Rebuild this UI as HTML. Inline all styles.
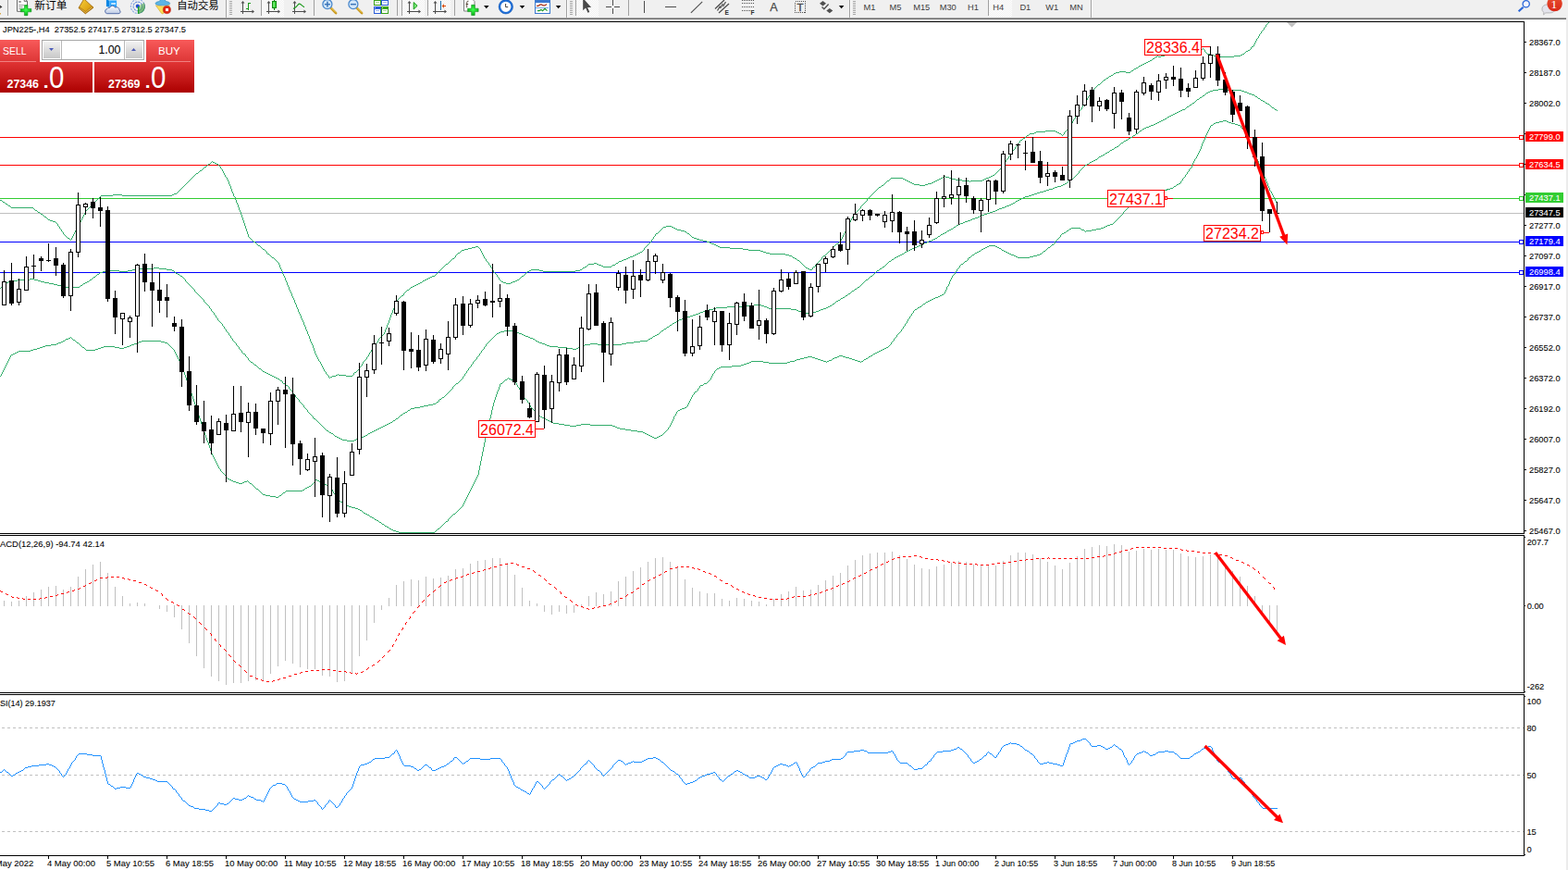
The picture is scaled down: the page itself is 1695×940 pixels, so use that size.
<!DOCTYPE html><html><head><meta charset="utf-8"><title>JPN225 H4</title>
<style>html,body{margin:0;padding:0;background:#fff;}body{width:1695px;height:940px;overflow:hidden;position:relative;font-family:"Liberation Sans",sans-serif;}svg{position:absolute;left:0;top:0;display:block}text{font-family:"Liberation Sans",sans-serif;}</style></head><body>
<svg width="1695" height="940" viewBox="0 0 1695 940">
<defs>
<linearGradient id="gTab" x1="0" y1="0" x2="0" y2="1"><stop offset="0" stop-color="#f85a5a"/><stop offset="1" stop-color="#dc3434"/></linearGradient>
<linearGradient id="gPan" x1="0" y1="0" x2="0" y2="1"><stop offset="0" stop-color="#e03434"/><stop offset="1" stop-color="#ac0000"/></linearGradient>
<linearGradient id="gBtn" x1="0" y1="0" x2="0" y2="1"><stop offset="0" stop-color="#f2f2f2"/><stop offset="0.5" stop-color="#dcdcdc"/><stop offset="1" stop-color="#c8c8c8"/></linearGradient>
<pattern id="hatch" width="2" height="2" patternUnits="userSpaceOnUse"><rect width="2" height="2" fill="#ffffff"/><rect width="1" height="1" fill="#f0f0f0"/><rect x="1" y="1" width="1" height="1" fill="#f0f0f0"/></pattern>
</defs>
<rect width="1695" height="940" fill="#fff"/>
<g shape-rendering="crispEdges">
<rect x="0" y="230" width="1647" height="1" fill="#c0c0c0"/>
<rect x="0" y="148" width="1642" height="1" fill="#ff0000"/>
<rect x="0" y="178" width="1642" height="1" fill="#ff0000"/>
<rect x="0" y="214" width="1642" height="1" fill="#32cd32"/>
<rect x="0" y="261" width="1642" height="1" fill="#0000ff"/>
<rect x="0" y="294" width="1642" height="1" fill="#0000ff"/>
</g>
<g clip-path="inset(0)">
<clipPath id="cm"><rect x="0" y="24" width="1647" height="552"/></clipPath>
<g clip-path="url(#cm)">
<path d="M1371 24h1v1h-1zM1370 25h1v1h-1zM1369 26h1v1h-1zM1368 27h1v1h-1zM1368 28h1v1h-1zM1367 29h1v1h-1zM1366 30h1v1h-1zM1366 31h1v1h-1zM1365 32h1v1h-1zM1364 33h1v1h-1zM1363 34h1v1h-1zM1363 35h1v1h-1zM1362 36h1v1h-1zM1361 37h1v1h-1zM1361 38h1v1h-1zM1360 39h1v1h-1zM1360 40h1v1h-1zM1359 41h1v1h-1zM1358 42h1v1h-1zM1358 43h1v1h-1zM1357 44h1v1h-1zM1357 45h1v1h-1zM1356 46h1v1h-1zM1356 47h1v1h-1zM1355 48h1v1h-1zM1355 49h1v1h-1zM1353 50h2v1h-2zM1352 51h1v1h-1zM1300 52h1v1h-1zM1352 52h1v1h-1zM1292 53h8v1h-8zM1301 53h1v1h-1zM1351 53h1v1h-1zM1284 54h8v1h-8zM1302 54h1v1h-1zM1349 54h2v1h-2zM1276 55h8v1h-8zM1302 55h1v1h-1zM1347 55h2v1h-2zM1271 56h5v1h-5zM1303 56h1v1h-1zM1346 56h1v1h-1zM1267 57h4v1h-4zM1304 57h1v1h-1zM1345 57h1v1h-1zM1263 58h4v1h-4zM1305 58h4v1h-4zM1343 58h2v1h-2zM1259 59h4v1h-4zM1309 59h3v1h-3zM1341 59h2v1h-2zM1251 60h1v1h-1zM1255 60h4v1h-4zM1312 60h2v1h-2zM1334 60h7v1h-7zM1249 61h2v1h-2zM1252 61h3v1h-3zM1314 61h20v1h-20zM1248 62h1v1h-1zM1246 63h2v1h-2zM1245 64h1v1h-1zM1243 65h2v1h-2zM1241 66h2v1h-2zM1239 67h2v1h-2zM1237 68h2v1h-2zM1235 69h2v1h-2zM1233 70h2v1h-2zM1231 71h2v1h-2zM1230 72h1v1h-1zM1228 73h2v1h-2zM1226 74h2v1h-2zM1225 75h1v1h-1zM1223 76h2v1h-2zM1210 77h7v1h-7zM1222 77h1v1h-1zM1206 78h4v1h-4zM1217 78h5v1h-5zM1204 79h2v1h-2zM1203 80h1v1h-1zM1201 81h2v1h-2zM1199 82h2v1h-2zM1198 83h1v1h-1zM1196 84h2v1h-2zM1195 85h1v1h-1zM1193 86h2v1h-2zM1192 87h1v1h-1zM1191 88h1v1h-1zM1190 89h1v1h-1zM1189 90h1v1h-1zM1187 91h2v1h-2zM1186 92h1v1h-1zM1185 93h1v1h-1zM1184 94h1v1h-1zM1183 95h1v1h-1zM1182 96h1v1h-1zM1181 97h1v1h-1zM1180 98h1v1h-1zM1179 99h1v1h-1zM1179 100h1v1h-1zM1178 101h1v1h-1zM1178 102h1v1h-1zM1177 103h1v1h-1zM1176 104h1v1h-1zM1176 105h1v1h-1zM1175 106h1v1h-1zM1175 107h1v1h-1zM1174 108h1v1h-1zM1173 109h1v1h-1zM1173 110h1v1h-1zM1172 111h1v1h-1zM1172 112h1v1h-1zM1171 113h1v1h-1zM1170 114h1v1h-1zM1170 115h1v1h-1zM1169 116h1v1h-1zM1169 117h1v1h-1zM1168 118h1v1h-1zM1167 119h1v1h-1zM1166 120h1v1h-1zM1166 121h1v1h-1zM1165 122h1v1h-1zM1164 123h1v1h-1zM1164 124h1v1h-1zM1163 125h1v1h-1zM1162 126h1v1h-1zM1162 127h1v1h-1zM1161 128h1v1h-1zM1160 129h1v1h-1zM1160 130h1v1h-1zM1159 131h1v1h-1zM1159 132h1v1h-1zM1158 133h1v1h-1zM1157 134h1v1h-1zM1157 135h1v1h-1zM1156 136h1v1h-1zM1155 137h1v1h-1zM1154 138h1v1h-1zM1154 139h1v1h-1zM1153 140h1v1h-1zM1130 141h11v1h-11zM1152 141h1v1h-1zM1120 142h10v1h-10zM1141 142h2v1h-2zM1151 142h1v1h-1zM1118 143h2v1h-2zM1143 143h2v1h-2zM1150 143h1v1h-1zM1113 144h5v1h-5zM1145 144h2v1h-2zM1150 144h1v1h-1zM1112 145h1v1h-1zM1147 145h1v1h-1zM1149 145h1v1h-1zM1110 146h2v1h-2zM1148 146h1v1h-1zM1109 147h1v1h-1zM1108 148h1v1h-1zM1106 149h2v1h-2zM1105 150h1v1h-1zM1103 151h2v1h-2zM1102 152h1v1h-1zM1102 153h1v1h-1zM1101 154h1v1h-1zM1100 155h1v1h-1zM1099 156h1v1h-1zM1099 157h1v1h-1zM1098 158h1v1h-1zM1097 159h1v1h-1zM1097 160h1v1h-1zM1096 161h1v1h-1zM1095 162h1v1h-1zM1094 163h1v1h-1zM1094 164h1v1h-1zM1093 165h1v1h-1zM1092 166h1v1h-1zM1092 167h1v1h-1zM1091 168h1v1h-1zM1090 169h1v1h-1zM1090 170h1v1h-1zM1089 171h1v1h-1zM1088 172h1v1h-1zM1087 173h1v1h-1zM229 174h1v1h-1zM1087 174h1v1h-1zM228 175h1v1h-1zM230 175h2v1h-2zM1086 175h1v1h-1zM227 176h1v1h-1zM232 176h2v1h-2zM1086 176h1v1h-1zM225 177h2v1h-2zM234 177h2v1h-2zM1085 177h1v1h-1zM224 178h1v1h-1zM236 178h1v1h-1zM1084 178h1v1h-1zM223 179h1v1h-1zM237 179h1v1h-1zM1084 179h1v1h-1zM221 180h2v1h-2zM238 180h1v1h-1zM1083 180h1v1h-1zM220 181h1v1h-1zM238 181h1v1h-1zM1082 181h1v1h-1zM219 182h1v1h-1zM239 182h1v1h-1zM1081 182h1v1h-1zM218 183h1v1h-1zM240 183h1v1h-1zM1080 183h1v1h-1zM216 184h2v1h-2zM240 184h1v1h-1zM1079 184h1v1h-1zM215 185h1v1h-1zM241 185h1v1h-1zM1078 185h1v1h-1zM214 186h1v1h-1zM241 186h1v1h-1zM1077 186h1v1h-1zM212 187h2v1h-2zM242 187h1v1h-1zM1076 187h1v1h-1zM211 188h1v1h-1zM242 188h1v1h-1zM1075 188h1v1h-1zM210 189h1v1h-1zM243 189h1v1h-1zM1073 189h2v1h-2zM209 190h1v1h-1zM243 190h1v1h-1zM1020 190h2v1h-2zM1071 190h2v1h-2zM208 191h1v1h-1zM244 191h1v1h-1zM1019 191h1v1h-1zM1022 191h4v1h-4zM1069 191h2v1h-2zM207 192h1v1h-1zM245 192h1v1h-1zM963 192h13v1h-13zM1017 192h2v1h-2zM1026 192h3v1h-3zM1066 192h3v1h-3zM206 193h1v1h-1zM245 193h1v1h-1zM962 193h1v1h-1zM976 193h2v1h-2zM1015 193h2v1h-2zM1029 193h4v1h-4zM1064 193h2v1h-2zM205 194h1v1h-1zM246 194h1v1h-1zM961 194h1v1h-1zM978 194h2v1h-2zM1013 194h2v1h-2zM1033 194h7v1h-7zM1062 194h2v1h-2zM204 195h1v1h-1zM246 195h1v1h-1zM959 195h2v1h-2zM980 195h2v1h-2zM1011 195h2v1h-2zM1040 195h8v1h-8zM1049 195h13v1h-13zM203 196h1v1h-1zM247 196h1v1h-1zM958 196h1v1h-1zM982 196h2v1h-2zM1009 196h2v1h-2zM1048 196h1v1h-1zM202 197h1v1h-1zM247 197h1v1h-1zM957 197h1v1h-1zM984 197h2v1h-2zM1007 197h2v1h-2zM201 198h1v1h-1zM247 198h1v1h-1zM956 198h1v1h-1zM986 198h2v1h-2zM1003 198h4v1h-4zM200 199h1v1h-1zM248 199h1v1h-1zM955 199h1v1h-1zM988 199h6v1h-6zM1000 199h3v1h-3zM199 200h1v1h-1zM248 200h1v1h-1zM953 200h2v1h-2zM994 200h6v1h-6zM198 201h1v1h-1zM249 201h1v1h-1zM952 201h1v1h-1zM197 202h1v1h-1zM249 202h1v1h-1zM950 202h2v1h-2zM196 203h1v1h-1zM249 203h1v1h-1zM949 203h1v1h-1zM195 204h1v1h-1zM250 204h1v1h-1zM948 204h1v1h-1zM194 205h1v1h-1zM250 205h1v1h-1zM947 205h1v1h-1zM193 206h1v1h-1zM250 206h1v1h-1zM946 206h1v1h-1zM192 207h1v1h-1zM251 207h1v1h-1zM945 207h1v1h-1zM191 208h1v1h-1zM251 208h1v1h-1zM944 208h1v1h-1zM188 209h3v1h-3zM252 209h1v1h-1zM943 209h1v1h-1zM122 210h10v1h-10zM186 210h2v1h-2zM252 210h1v1h-1zM942 210h1v1h-1zM109 211h13v1h-13zM132 211h54v1h-54zM252 211h1v1h-1zM941 211h1v1h-1zM108 212h1v1h-1zM253 212h1v1h-1zM940 212h1v1h-1zM107 213h1v1h-1zM254 213h1v1h-1zM939 213h1v1h-1zM106 214h1v1h-1zM254 214h1v1h-1zM938 214h1v1h-1zM105 215h1v1h-1zM254 215h1v1h-1zM937 215h1v1h-1zM0 216h2v1h-2zM104 216h1v1h-1zM255 216h1v1h-1zM937 216h1v1h-1zM2 217h1v1h-1zM103 217h1v1h-1zM255 217h1v1h-1zM936 217h1v1h-1zM3 218h2v1h-2zM102 218h1v1h-1zM255 218h1v1h-1zM935 218h1v1h-1zM5 219h1v1h-1zM101 219h1v1h-1zM256 219h1v1h-1zM934 219h1v1h-1zM6 220h2v1h-2zM100 220h1v1h-1zM256 220h1v1h-1zM933 220h1v1h-1zM8 221h1v1h-1zM99 221h1v1h-1zM257 221h1v1h-1zM932 221h1v1h-1zM9 222h2v1h-2zM98 222h1v1h-1zM257 222h1v1h-1zM931 222h1v1h-1zM11 223h1v1h-1zM97 223h1v1h-1zM257 223h1v1h-1zM930 223h1v1h-1zM12 224h24v1h-24zM96 224h1v1h-1zM258 224h1v1h-1zM930 224h1v1h-1zM36 225h1v1h-1zM95 225h1v1h-1zM258 225h1v1h-1zM929 225h1v1h-1zM37 226h1v1h-1zM94 226h1v1h-1zM258 226h1v1h-1zM928 226h1v1h-1zM38 227h2v1h-2zM93 227h1v1h-1zM259 227h1v1h-1zM927 227h1v1h-1zM40 228h1v1h-1zM92 228h1v1h-1zM259 228h1v1h-1zM926 228h1v1h-1zM41 229h2v1h-2zM92 229h1v1h-1zM260 229h1v1h-1zM925 229h1v1h-1zM43 230h1v1h-1zM91 230h1v1h-1zM260 230h1v1h-1zM924 230h1v1h-1zM44 231h2v1h-2zM91 231h1v1h-1zM260 231h1v1h-1zM923 231h1v1h-1zM46 232h1v1h-1zM90 232h1v1h-1zM261 232h1v1h-1zM922 232h1v1h-1zM47 233h1v1h-1zM90 233h1v1h-1zM261 233h1v1h-1zM922 233h1v1h-1zM48 234h2v1h-2zM89 234h1v1h-1zM261 234h1v1h-1zM921 234h1v1h-1zM50 235h1v1h-1zM89 235h1v1h-1zM262 235h1v1h-1zM921 235h1v1h-1zM51 236h1v1h-1zM88 236h1v1h-1zM262 236h1v1h-1zM920 236h1v1h-1zM52 237h2v1h-2zM88 237h1v1h-1zM262 237h1v1h-1zM920 237h1v1h-1zM54 238h3v1h-3zM87 238h1v1h-1zM263 238h1v1h-1zM919 238h1v1h-1zM57 239h3v1h-3zM87 239h1v1h-1zM263 239h1v1h-1zM919 239h1v1h-1zM60 240h1v1h-1zM86 240h1v1h-1zM263 240h1v1h-1zM918 240h1v1h-1zM61 241h1v1h-1zM86 241h1v1h-1zM264 241h1v1h-1zM918 241h1v1h-1zM62 242h1v1h-1zM85 242h1v1h-1zM264 242h1v1h-1zM917 242h1v1h-1zM62 243h1v1h-1zM84 243h1v1h-1zM264 243h1v1h-1zM917 243h1v1h-1zM63 244h1v1h-1zM84 244h1v1h-1zM265 244h1v1h-1zM720 244h6v1h-6zM916 244h1v1h-1zM64 245h1v1h-1zM83 245h1v1h-1zM265 245h1v1h-1zM717 245h3v1h-3zM726 245h2v1h-2zM916 245h1v1h-1zM64 246h1v1h-1zM83 246h1v1h-1zM265 246h1v1h-1zM716 246h1v1h-1zM728 246h2v1h-2zM915 246h1v1h-1zM65 247h1v1h-1zM82 247h1v1h-1zM266 247h1v1h-1zM715 247h1v1h-1zM730 247h2v1h-2zM915 247h1v1h-1zM66 248h1v1h-1zM82 248h1v1h-1zM266 248h1v1h-1zM714 248h1v1h-1zM732 248h4v1h-4zM914 248h1v1h-1zM66 249h1v1h-1zM81 249h1v1h-1zM266 249h1v1h-1zM713 249h1v1h-1zM736 249h4v1h-4zM914 249h1v1h-1zM67 250h1v1h-1zM81 250h1v1h-1zM267 250h1v1h-1zM712 250h1v1h-1zM740 250h2v1h-2zM913 250h1v1h-1zM68 251h1v1h-1zM80 251h1v1h-1zM267 251h1v1h-1zM711 251h1v1h-1zM742 251h1v1h-1zM913 251h1v1h-1zM68 252h1v1h-1zM80 252h1v1h-1zM267 252h1v1h-1zM709 252h2v1h-2zM743 252h2v1h-2zM912 252h1v1h-1zM69 253h1v1h-1zM79 253h1v1h-1zM268 253h1v1h-1zM708 253h1v1h-1zM745 253h1v1h-1zM912 253h1v1h-1zM70 254h1v1h-1zM79 254h1v1h-1zM268 254h1v1h-1zM708 254h1v1h-1zM746 254h1v1h-1zM911 254h1v1h-1zM71 255h1v1h-1zM78 255h1v1h-1zM268 255h1v1h-1zM707 255h1v1h-1zM747 255h1v1h-1zM911 255h1v1h-1zM72 256h1v1h-1zM78 256h1v1h-1zM269 256h1v1h-1zM706 256h1v1h-1zM748 256h2v1h-2zM910 256h1v1h-1zM73 257h2v1h-2zM77 257h1v1h-1zM270 257h1v1h-1zM706 257h1v1h-1zM750 257h3v1h-3zM910 257h1v1h-1zM75 258h1v1h-1zM77 258h1v1h-1zM271 258h1v1h-1zM705 258h1v1h-1zM753 258h3v1h-3zM909 258h1v1h-1zM76 259h1v1h-1zM272 259h1v1h-1zM704 259h1v1h-1zM756 259h4v1h-4zM909 259h1v1h-1zM273 260h1v1h-1zM704 260h1v1h-1zM760 260h4v1h-4zM908 260h1v1h-1zM274 261h2v1h-2zM703 261h1v1h-1zM764 261h3v1h-3zM907 261h1v1h-1zM276 262h1v1h-1zM702 262h1v1h-1zM767 262h2v1h-2zM906 262h1v1h-1zM277 263h1v1h-1zM701 263h1v1h-1zM769 263h3v1h-3zM904 263h2v1h-2zM278 264h1v1h-1zM700 264h1v1h-1zM772 264h2v1h-2zM903 264h1v1h-1zM279 265h2v1h-2zM699 265h1v1h-1zM774 265h2v1h-2zM902 265h1v1h-1zM281 266h1v1h-1zM514 266h3v1h-3zM698 266h1v1h-1zM776 266h2v1h-2zM901 266h1v1h-1zM282 267h1v1h-1zM510 267h4v1h-4zM517 267h1v1h-1zM697 267h1v1h-1zM778 267h11v1h-11zM900 267h1v1h-1zM283 268h1v1h-1zM506 268h4v1h-4zM518 268h1v1h-1zM696 268h1v1h-1zM789 268h14v1h-14zM900 268h1v1h-1zM284 269h2v1h-2zM502 269h4v1h-4zM519 269h1v1h-1zM696 269h1v1h-1zM803 269h6v1h-6zM898 269h2v1h-2zM286 270h1v1h-1zM499 270h3v1h-3zM519 270h1v1h-1zM695 270h1v1h-1zM809 270h13v1h-13zM897 270h1v1h-1zM287 271h1v1h-1zM498 271h1v1h-1zM520 271h1v1h-1zM694 271h1v1h-1zM822 271h3v1h-3zM896 271h1v1h-1zM288 272h1v1h-1zM497 272h1v1h-1zM520 272h1v1h-1zM692 272h2v1h-2zM825 272h3v1h-3zM895 272h1v1h-1zM288 273h1v1h-1zM495 273h2v1h-2zM521 273h1v1h-1zM690 273h2v1h-2zM828 273h4v1h-4zM894 273h1v1h-1zM289 274h2v1h-2zM494 274h1v1h-1zM521 274h1v1h-1zM688 274h2v1h-2zM832 274h17v1h-17zM893 274h1v1h-1zM291 275h1v1h-1zM493 275h1v1h-1zM522 275h1v1h-1zM686 275h2v1h-2zM849 275h4v1h-4zM892 275h1v1h-1zM292 276h1v1h-1zM492 276h1v1h-1zM522 276h1v1h-1zM684 276h2v1h-2zM853 276h3v1h-3zM890 276h2v1h-2zM293 277h1v1h-1zM492 277h1v1h-1zM523 277h1v1h-1zM681 277h3v1h-3zM856 277h1v1h-1zM889 277h1v1h-1zM294 278h2v1h-2zM491 278h1v1h-1zM523 278h1v1h-1zM679 278h2v1h-2zM857 278h2v1h-2zM888 278h1v1h-1zM296 279h1v1h-1zM489 279h2v1h-2zM524 279h1v1h-1zM677 279h2v1h-2zM859 279h2v1h-2zM888 279h1v1h-1zM297 280h1v1h-1zM488 280h1v1h-1zM525 280h1v1h-1zM674 280h3v1h-3zM861 280h1v1h-1zM887 280h1v1h-1zM298 281h1v1h-1zM487 281h1v1h-1zM525 281h1v1h-1zM672 281h2v1h-2zM862 281h2v1h-2zM886 281h1v1h-1zM299 282h1v1h-1zM486 282h1v1h-1zM526 282h1v1h-1zM669 282h3v1h-3zM864 282h1v1h-1zM885 282h1v1h-1zM300 283h1v1h-1zM485 283h1v1h-1zM527 283h1v1h-1zM668 283h1v1h-1zM865 283h1v1h-1zM884 283h1v1h-1zM301 284h1v1h-1zM484 284h1v1h-1zM528 284h1v1h-1zM642 284h3v1h-3zM666 284h2v1h-2zM866 284h1v1h-1zM883 284h1v1h-1zM301 285h1v1h-1zM482 285h2v1h-2zM528 285h1v1h-1zM636 285h6v1h-6zM645 285h2v1h-2zM665 285h1v1h-1zM867 285h1v1h-1zM882 285h1v1h-1zM302 286h1v1h-1zM481 286h1v1h-1zM529 286h1v1h-1zM635 286h1v1h-1zM647 286h3v1h-3zM662 286h3v1h-3zM868 286h1v1h-1zM881 286h1v1h-1zM302 287h1v1h-1zM480 287h1v1h-1zM530 287h1v1h-1zM634 287h1v1h-1zM650 287h2v1h-2zM661 287h1v1h-1zM869 287h1v1h-1zM881 287h1v1h-1zM302 288h1v1h-1zM479 288h1v1h-1zM530 288h1v1h-1zM632 288h2v1h-2zM652 288h9v1h-9zM870 288h1v1h-1zM879 288h2v1h-2zM303 289h1v1h-1zM478 289h1v1h-1zM531 289h1v1h-1zM630 289h2v1h-2zM871 289h2v1h-2zM878 289h1v1h-1zM303 290h1v1h-1zM477 290h1v1h-1zM532 290h1v1h-1zM629 290h1v1h-1zM873 290h2v1h-2zM878 290h1v1h-1zM304 291h1v1h-1zM476 291h1v1h-1zM532 291h1v1h-1zM574 291h9v1h-9zM627 291h2v1h-2zM875 291h3v1h-3zM304 292h1v1h-1zM475 292h1v1h-1zM533 292h1v1h-1zM572 292h2v1h-2zM583 292h4v1h-4zM622 292h5v1h-5zM305 293h1v1h-1zM474 293h1v1h-1zM533 293h1v1h-1zM570 293h2v1h-2zM587 293h35v1h-35zM305 294h1v1h-1zM473 294h1v1h-1zM534 294h1v1h-1zM569 294h1v1h-1zM305 295h1v1h-1zM472 295h1v1h-1zM535 295h1v1h-1zM568 295h1v1h-1zM306 296h1v1h-1zM471 296h1v1h-1zM536 296h1v1h-1zM567 296h1v1h-1zM306 297h1v1h-1zM470 297h1v1h-1zM537 297h1v1h-1zM566 297h1v1h-1zM307 298h1v1h-1zM467 298h3v1h-3zM537 298h1v1h-1zM564 298h2v1h-2zM307 299h1v1h-1zM465 299h2v1h-2zM538 299h1v1h-1zM563 299h1v1h-1zM308 300h1v1h-1zM463 300h2v1h-2zM539 300h1v1h-1zM562 300h1v1h-1zM308 301h1v1h-1zM461 301h2v1h-2zM539 301h1v1h-1zM561 301h1v1h-1zM308 302h1v1h-1zM459 302h2v1h-2zM540 302h1v1h-1zM559 302h2v1h-2zM309 303h1v1h-1zM457 303h2v1h-2zM541 303h1v1h-1zM557 303h2v1h-2zM309 304h1v1h-1zM456 304h1v1h-1zM542 304h2v1h-2zM554 304h3v1h-3zM310 305h1v1h-1zM454 305h2v1h-2zM544 305h3v1h-3zM552 305h2v1h-2zM310 306h1v1h-1zM452 306h2v1h-2zM547 306h5v1h-5zM310 307h1v1h-1zM450 307h2v1h-2zM311 308h1v1h-1zM448 308h2v1h-2zM311 309h1v1h-1zM446 309h2v1h-2zM312 310h1v1h-1zM444 310h2v1h-2zM312 311h1v1h-1zM443 311h1v1h-1zM312 312h1v1h-1zM442 312h1v1h-1zM313 313h1v1h-1zM440 313h2v1h-2zM313 314h1v1h-1zM439 314h1v1h-1zM314 315h1v1h-1zM438 315h1v1h-1zM314 316h1v1h-1zM437 316h1v1h-1zM315 317h1v1h-1zM436 317h1v1h-1zM315 318h1v1h-1zM436 318h1v1h-1zM315 319h1v1h-1zM434 319h2v1h-2zM316 320h1v1h-1zM433 320h1v1h-1zM316 321h1v1h-1zM432 321h1v1h-1zM317 322h1v1h-1zM431 322h1v1h-1zM317 323h1v1h-1zM430 323h1v1h-1zM318 324h1v1h-1zM429 324h1v1h-1zM318 325h1v1h-1zM429 325h1v1h-1zM318 326h1v1h-1zM428 326h1v1h-1zM319 327h1v1h-1zM428 327h1v1h-1zM319 328h1v1h-1zM427 328h1v1h-1zM320 329h1v1h-1zM427 329h1v1h-1zM320 330h1v1h-1zM427 330h1v1h-1zM320 331h1v1h-1zM426 331h1v1h-1zM321 332h1v1h-1zM426 332h1v1h-1zM321 333h1v1h-1zM425 333h1v1h-1zM322 334h1v1h-1zM425 334h1v1h-1zM322 335h1v1h-1zM424 335h1v1h-1zM322 336h1v1h-1zM424 336h1v1h-1zM323 337h1v1h-1zM424 337h1v1h-1zM323 338h1v1h-1zM423 338h1v1h-1zM324 339h1v1h-1zM423 339h1v1h-1zM324 340h1v1h-1zM422 340h1v1h-1zM325 341h1v1h-1zM422 341h1v1h-1zM325 342h1v1h-1zM422 342h1v1h-1zM325 343h1v1h-1zM421 343h1v1h-1zM326 344h1v1h-1zM421 344h1v1h-1zM326 345h1v1h-1zM421 345h1v1h-1zM327 346h1v1h-1zM420 346h1v1h-1zM327 347h1v1h-1zM420 347h1v1h-1zM328 348h1v1h-1zM420 348h1v1h-1zM328 349h1v1h-1zM419 349h1v1h-1zM328 350h1v1h-1zM419 350h1v1h-1zM329 351h1v1h-1zM418 351h1v1h-1zM329 352h1v1h-1zM418 352h1v1h-1zM330 353h1v1h-1zM418 353h1v1h-1zM330 354h1v1h-1zM417 354h1v1h-1zM330 355h1v1h-1zM417 355h1v1h-1zM331 356h1v1h-1zM416 356h1v1h-1zM331 357h1v1h-1zM416 357h1v1h-1zM332 358h1v1h-1zM416 358h1v1h-1zM332 359h1v1h-1zM415 359h1v1h-1zM332 360h1v1h-1zM415 360h1v1h-1zM333 361h1v1h-1zM414 361h1v1h-1zM333 362h1v1h-1zM413 362h1v1h-1zM334 363h1v1h-1zM412 363h1v1h-1zM334 364h1v1h-1zM411 364h1v1h-1zM334 365h1v1h-1zM410 365h1v1h-1zM335 366h1v1h-1zM409 366h1v1h-1zM335 367h1v1h-1zM409 367h1v1h-1zM335 368h1v1h-1zM408 368h1v1h-1zM336 369h1v1h-1zM408 369h1v1h-1zM336 370h1v1h-1zM407 370h1v1h-1zM337 371h1v1h-1zM406 371h1v1h-1zM337 372h1v1h-1zM405 372h1v1h-1zM338 373h1v1h-1zM404 373h1v1h-1zM338 374h1v1h-1zM404 374h1v1h-1zM338 375h1v1h-1zM403 375h1v1h-1zM339 376h1v1h-1zM402 376h1v1h-1zM339 377h1v1h-1zM402 377h1v1h-1zM339 378h1v1h-1zM401 378h1v1h-1zM340 379h1v1h-1zM401 379h1v1h-1zM340 380h1v1h-1zM400 380h1v1h-1zM340 381h1v1h-1zM399 381h1v1h-1zM341 382h1v1h-1zM399 382h1v1h-1zM341 383h1v1h-1zM398 383h1v1h-1zM342 384h1v1h-1zM398 384h1v1h-1zM342 385h1v1h-1zM397 385h1v1h-1zM343 386h1v1h-1zM396 386h1v1h-1zM343 387h1v1h-1zM396 387h1v1h-1zM344 388h1v1h-1zM395 388h1v1h-1zM344 389h1v1h-1zM394 389h1v1h-1zM345 390h1v1h-1zM393 390h1v1h-1zM346 391h1v1h-1zM392 391h1v1h-1zM346 392h1v1h-1zM392 392h1v1h-1zM347 393h1v1h-1zM391 393h1v1h-1zM347 394h1v1h-1zM391 394h1v1h-1zM348 395h1v1h-1zM390 395h1v1h-1zM348 396h1v1h-1zM389 396h1v1h-1zM349 397h1v1h-1zM388 397h1v1h-1zM349 398h1v1h-1zM388 398h1v1h-1zM350 399h1v1h-1zM387 399h1v1h-1zM350 400h1v1h-1zM386 400h1v1h-1zM351 401h1v1h-1zM385 401h1v1h-1zM352 402h1v1h-1zM383 402h2v1h-2zM352 403h1v1h-1zM382 403h1v1h-1zM353 404h1v1h-1zM365 404h1v1h-1zM382 404h1v1h-1zM354 405h1v1h-1zM363 405h2v1h-2zM366 405h8v1h-8zM381 405h1v1h-1zM355 406h1v1h-1zM359 406h4v1h-4zM374 406h7v1h-7zM355 407h1v1h-1zM357 407h2v1h-2zM356 408h1v1h-1z" fill="#32ad6b" shape-rendering="crispEdges"/>
<path d="M1317 96h5v1h-5zM1311 97h6v1h-6zM1322 97h20v1h-20zM1308 98h3v1h-3zM1342 98h3v1h-3zM1306 99h2v1h-2zM1345 99h3v1h-3zM1304 100h2v1h-2zM1348 100h2v1h-2zM1303 101h1v1h-1zM1350 101h3v1h-3zM1302 102h1v1h-1zM1353 102h3v1h-3zM1300 103h2v1h-2zM1356 103h1v1h-1zM1299 104h1v1h-1zM1357 104h2v1h-2zM1297 105h2v1h-2zM1359 105h1v1h-1zM1296 106h1v1h-1zM1360 106h2v1h-2zM1294 107h2v1h-2zM1362 107h1v1h-1zM1293 108h1v1h-1zM1363 108h2v1h-2zM1292 109h1v1h-1zM1365 109h2v1h-2zM1291 110h1v1h-1zM1367 110h1v1h-1zM1289 111h2v1h-2zM1368 111h2v1h-2zM1288 112h1v1h-1zM1370 112h2v1h-2zM1286 113h2v1h-2zM1372 113h1v1h-1zM1285 114h1v1h-1zM1373 114h1v1h-1zM1283 115h2v1h-2zM1374 115h1v1h-1zM1282 116h1v1h-1zM1375 116h2v1h-2zM1281 117h1v1h-1zM1377 117h1v1h-1zM1278 118h3v1h-3zM1378 118h2v1h-2zM1276 119h2v1h-2zM1380 119h1v1h-1zM1274 120h2v1h-2zM1272 121h2v1h-2zM1270 122h2v1h-2zM1268 123h2v1h-2zM1266 124h2v1h-2zM1264 125h2v1h-2zM1262 126h2v1h-2zM1261 127h1v1h-1zM1259 128h2v1h-2zM1257 129h2v1h-2zM1255 130h2v1h-2zM1253 131h2v1h-2zM1251 132h2v1h-2zM1249 133h2v1h-2zM1247 134h2v1h-2zM1244 135h3v1h-3zM1242 136h2v1h-2zM1239 137h3v1h-3zM1237 138h2v1h-2zM1235 139h2v1h-2zM1234 140h1v1h-1zM1232 141h2v1h-2zM1231 142h1v1h-1zM1230 143h1v1h-1zM1228 144h2v1h-2zM1227 145h1v1h-1zM1225 146h2v1h-2zM1224 147h1v1h-1zM1222 148h2v1h-2zM1220 149h2v1h-2zM1219 150h1v1h-1zM1217 151h2v1h-2zM1215 152h2v1h-2zM1214 153h1v1h-1zM1212 154h2v1h-2zM1211 155h1v1h-1zM1210 156h1v1h-1zM1209 157h1v1h-1zM1207 158h2v1h-2zM1205 159h2v1h-2zM1204 160h1v1h-1zM1202 161h2v1h-2zM1200 162h2v1h-2zM1199 163h1v1h-1zM1197 164h2v1h-2zM1195 165h2v1h-2zM1194 166h1v1h-1zM1192 167h2v1h-2zM1190 168h2v1h-2zM1188 169h2v1h-2zM1187 170h1v1h-1zM1186 171h1v1h-1zM1184 172h2v1h-2zM1182 173h2v1h-2zM1180 174h2v1h-2zM1178 175h2v1h-2zM1177 176h1v1h-1zM1175 177h2v1h-2zM1173 178h2v1h-2zM1172 179h1v1h-1zM1171 180h1v1h-1zM1170 181h1v1h-1zM1169 182h1v1h-1zM1168 183h1v1h-1zM1167 184h1v1h-1zM1166 185h1v1h-1zM1166 186h1v1h-1zM1165 187h1v1h-1zM1164 188h1v1h-1zM1163 189h1v1h-1zM1162 190h1v1h-1zM1161 191h1v1h-1zM1160 192h1v1h-1zM1159 193h1v1h-1zM1157 194h2v1h-2zM1155 195h2v1h-2zM1154 196h1v1h-1zM1153 197h1v1h-1zM1151 198h2v1h-2zM1149 199h2v1h-2zM1147 200h2v1h-2zM1143 201h4v1h-4zM1140 202h3v1h-3zM1138 203h2v1h-2zM1134 204h4v1h-4zM1131 205h3v1h-3zM1128 206h3v1h-3zM1124 207h4v1h-4zM1121 208h3v1h-3zM1118 209h3v1h-3zM1115 210h3v1h-3zM1112 211h3v1h-3zM1108 212h4v1h-4zM1106 213h2v1h-2zM1104 214h2v1h-2zM1102 215h2v1h-2zM1100 216h2v1h-2zM1098 217h2v1h-2zM1097 218h1v1h-1zM1095 219h2v1h-2zM1093 220h2v1h-2zM1091 221h2v1h-2zM1088 222h3v1h-3zM1086 223h2v1h-2zM1083 224h3v1h-3zM1080 225h3v1h-3zM1078 226h2v1h-2zM1076 227h2v1h-2zM1073 228h3v1h-3zM1070 229h3v1h-3zM1067 230h3v1h-3zM1064 231h3v1h-3zM1061 232h3v1h-3zM1059 233h2v1h-2zM1057 234h2v1h-2zM1054 235h3v1h-3zM1051 236h3v1h-3zM1049 237h2v1h-2zM1046 238h3v1h-3zM1043 239h3v1h-3zM1041 240h2v1h-2zM1038 241h3v1h-3zM1036 242h2v1h-2zM1034 243h2v1h-2zM1033 244h1v1h-1zM1031 245h2v1h-2zM1030 246h1v1h-1zM1028 247h2v1h-2zM1026 248h2v1h-2zM1024 249h2v1h-2zM1023 250h1v1h-1zM1021 251h2v1h-2zM1019 252h2v1h-2zM1017 253h2v1h-2zM1016 254h1v1h-1zM1014 255h2v1h-2zM1013 256h1v1h-1zM1011 257h2v1h-2zM1009 258h2v1h-2zM1007 259h2v1h-2zM1004 260h3v1h-3zM1002 261h2v1h-2zM999 262h3v1h-3zM998 263h1v1h-1zM996 264h2v1h-2zM993 265h3v1h-3zM991 266h2v1h-2zM989 267h2v1h-2zM986 268h3v1h-3zM984 269h2v1h-2zM982 270h2v1h-2zM980 271h2v1h-2zM978 272h2v1h-2zM977 273h1v1h-1zM975 274h2v1h-2zM973 275h2v1h-2zM971 276h2v1h-2zM969 277h2v1h-2zM967 278h2v1h-2zM966 279h1v1h-1zM964 280h2v1h-2zM963 281h1v1h-1zM961 282h2v1h-2zM960 283h1v1h-1zM959 284h1v1h-1zM958 285h1v1h-1zM957 286h1v1h-1zM956 287h1v1h-1zM954 288h2v1h-2zM166 289h6v1h-6zM953 289h1v1h-1zM148 290h18v1h-18zM172 290h8v1h-8zM951 290h2v1h-2zM143 291h5v1h-5zM180 291h6v1h-6zM950 291h1v1h-1zM117 292h12v1h-12zM138 292h5v1h-5zM186 292h2v1h-2zM948 292h2v1h-2zM111 293h6v1h-6zM129 293h9v1h-9zM188 293h1v1h-1zM947 293h1v1h-1zM108 294h3v1h-3zM189 294h1v1h-1zM946 294h1v1h-1zM107 295h1v1h-1zM190 295h2v1h-2zM945 295h1v1h-1zM105 296h2v1h-2zM192 296h2v1h-2zM944 296h1v1h-1zM104 297h1v1h-1zM194 297h1v1h-1zM943 297h1v1h-1zM103 298h1v1h-1zM195 298h2v1h-2zM941 298h2v1h-2zM101 299h2v1h-2zM197 299h1v1h-1zM940 299h1v1h-1zM100 300h1v1h-1zM198 300h1v1h-1zM939 300h1v1h-1zM32 301h5v1h-5zM99 301h1v1h-1zM199 301h1v1h-1zM938 301h1v1h-1zM19 302h13v1h-13zM37 302h4v1h-4zM97 302h2v1h-2zM200 302h1v1h-1zM936 302h2v1h-2zM10 303h9v1h-9zM41 303h3v1h-3zM96 303h1v1h-1zM200 303h1v1h-1zM935 303h1v1h-1zM9 304h1v1h-1zM44 304h4v1h-4zM94 304h2v1h-2zM201 304h1v1h-1zM934 304h1v1h-1zM7 305h2v1h-2zM48 305h5v1h-5zM92 305h2v1h-2zM202 305h1v1h-1zM933 305h1v1h-1zM6 306h1v1h-1zM53 306h5v1h-5zM90 306h2v1h-2zM203 306h1v1h-1zM932 306h1v1h-1zM5 307h1v1h-1zM58 307h4v1h-4zM89 307h1v1h-1zM204 307h1v1h-1zM931 307h1v1h-1zM4 308h1v1h-1zM62 308h5v1h-5zM87 308h2v1h-2zM205 308h1v1h-1zM930 308h1v1h-1zM2 309h2v1h-2zM67 309h3v1h-3zM86 309h1v1h-1zM206 309h1v1h-1zM929 309h1v1h-1zM1 310h1v1h-1zM70 310h5v1h-5zM78 310h8v1h-8zM207 310h1v1h-1zM927 310h2v1h-2zM0 311h1v1h-1zM75 311h3v1h-3zM208 311h1v1h-1zM926 311h1v1h-1zM209 312h1v1h-1zM924 312h2v1h-2zM210 313h1v1h-1zM923 313h1v1h-1zM210 314h1v1h-1zM921 314h2v1h-2zM211 315h1v1h-1zM920 315h1v1h-1zM212 316h1v1h-1zM919 316h1v1h-1zM213 317h1v1h-1zM917 317h2v1h-2zM214 318h1v1h-1zM916 318h1v1h-1zM215 319h1v1h-1zM914 319h2v1h-2zM216 320h1v1h-1zM913 320h1v1h-1zM217 321h1v1h-1zM911 321h2v1h-2zM218 322h1v1h-1zM909 322h2v1h-2zM219 323h1v1h-1zM908 323h1v1h-1zM220 324h1v1h-1zM906 324h2v1h-2zM220 325h1v1h-1zM904 325h2v1h-2zM221 326h1v1h-1zM903 326h1v1h-1zM222 327h1v1h-1zM902 327h1v1h-1zM223 328h1v1h-1zM900 328h2v1h-2zM224 329h1v1h-1zM815 329h8v1h-8zM899 329h1v1h-1zM225 330h1v1h-1zM803 330h12v1h-12zM823 330h3v1h-3zM897 330h2v1h-2zM226 331h1v1h-1zM786 331h17v1h-17zM826 331h3v1h-3zM895 331h2v1h-2zM226 332h1v1h-1zM774 332h12v1h-12zM829 332h2v1h-2zM893 332h2v1h-2zM227 333h1v1h-1zM771 333h3v1h-3zM831 333h24v1h-24zM890 333h3v1h-3zM228 334h1v1h-1zM766 334h5v1h-5zM855 334h6v1h-6zM887 334h3v1h-3zM228 335h1v1h-1zM763 335h3v1h-3zM861 335h2v1h-2zM885 335h2v1h-2zM229 336h1v1h-1zM760 336h3v1h-3zM863 336h3v1h-3zM882 336h3v1h-3zM230 337h1v1h-1zM757 337h3v1h-3zM866 337h2v1h-2zM879 337h3v1h-3zM231 338h1v1h-1zM755 338h2v1h-2zM868 338h11v1h-11zM231 339h1v1h-1zM752 339h3v1h-3zM232 340h1v1h-1zM749 340h3v1h-3zM233 341h1v1h-1zM746 341h3v1h-3zM233 342h1v1h-1zM743 342h3v1h-3zM234 343h1v1h-1zM740 343h3v1h-3zM235 344h1v1h-1zM737 344h3v1h-3zM235 345h1v1h-1zM734 345h3v1h-3zM236 346h1v1h-1zM732 346h2v1h-2zM237 347h1v1h-1zM731 347h1v1h-1zM238 348h1v1h-1zM729 348h2v1h-2zM239 349h1v1h-1zM727 349h2v1h-2zM240 350h1v1h-1zM726 350h1v1h-1zM240 351h1v1h-1zM724 351h2v1h-2zM241 352h1v1h-1zM723 352h1v1h-1zM242 353h1v1h-1zM721 353h2v1h-2zM242 354h1v1h-1zM720 354h1v1h-1zM243 355h1v1h-1zM718 355h2v1h-2zM244 356h1v1h-1zM717 356h1v1h-1zM244 357h1v1h-1zM545 357h9v1h-9zM715 357h2v1h-2zM245 358h1v1h-1zM541 358h4v1h-4zM554 358h4v1h-4zM714 358h1v1h-1zM246 359h1v1h-1zM539 359h2v1h-2zM558 359h3v1h-3zM713 359h1v1h-1zM247 360h1v1h-1zM537 360h2v1h-2zM561 360h3v1h-3zM712 360h1v1h-1zM247 361h1v1h-1zM536 361h1v1h-1zM564 361h2v1h-2zM710 361h2v1h-2zM248 362h1v1h-1zM535 362h1v1h-1zM566 362h2v1h-2zM708 362h2v1h-2zM249 363h1v1h-1zM534 363h1v1h-1zM568 363h3v1h-3zM706 363h2v1h-2zM249 364h1v1h-1zM533 364h1v1h-1zM571 364h2v1h-2zM705 364h1v1h-1zM250 365h1v1h-1zM532 365h1v1h-1zM573 365h3v1h-3zM703 365h2v1h-2zM251 366h1v1h-1zM531 366h1v1h-1zM576 366h2v1h-2zM701 366h2v1h-2zM251 367h1v1h-1zM530 367h1v1h-1zM578 367h1v1h-1zM700 367h1v1h-1zM252 368h1v1h-1zM529 368h1v1h-1zM579 368h2v1h-2zM692 368h8v1h-8zM253 369h1v1h-1zM528 369h1v1h-1zM581 369h2v1h-2zM685 369h7v1h-7zM254 370h1v1h-1zM527 370h1v1h-1zM583 370h3v1h-3zM677 370h8v1h-8zM255 371h1v1h-1zM526 371h1v1h-1zM586 371h3v1h-3zM638 371h8v1h-8zM672 371h5v1h-5zM255 372h1v1h-1zM525 372h1v1h-1zM589 372h2v1h-2zM632 372h6v1h-6zM646 372h26v1h-26zM256 373h1v1h-1zM525 373h1v1h-1zM591 373h3v1h-3zM630 373h2v1h-2zM257 374h1v1h-1zM524 374h1v1h-1zM594 374h9v1h-9zM628 374h2v1h-2zM258 375h1v1h-1zM523 375h1v1h-1zM603 375h10v1h-10zM625 375h3v1h-3zM258 376h1v1h-1zM523 376h1v1h-1zM613 376h6v1h-6zM623 376h2v1h-2zM259 377h1v1h-1zM522 377h1v1h-1zM619 377h4v1h-4zM260 378h1v1h-1zM521 378h1v1h-1zM261 379h1v1h-1zM520 379h1v1h-1zM261 380h1v1h-1zM520 380h1v1h-1zM262 381h1v1h-1zM519 381h1v1h-1zM263 382h2v1h-2zM518 382h1v1h-1zM265 383h1v1h-1zM518 383h1v1h-1zM265 384h1v1h-1zM517 384h1v1h-1zM266 385h1v1h-1zM516 385h1v1h-1zM267 386h1v1h-1zM515 386h1v1h-1zM268 387h1v1h-1zM515 387h1v1h-1zM268 388h1v1h-1zM514 388h1v1h-1zM269 389h1v1h-1zM513 389h1v1h-1zM270 390h1v1h-1zM512 390h1v1h-1zM271 391h2v1h-2zM511 391h1v1h-1zM273 392h1v1h-1zM511 392h1v1h-1zM274 393h1v1h-1zM510 393h1v1h-1zM275 394h2v1h-2zM509 394h1v1h-1zM277 395h1v1h-1zM509 395h1v1h-1zM278 396h1v1h-1zM508 396h1v1h-1zM279 397h1v1h-1zM507 397h1v1h-1zM280 398h2v1h-2zM506 398h1v1h-1zM282 399h1v1h-1zM506 399h1v1h-1zM283 400h1v1h-1zM505 400h1v1h-1zM284 401h2v1h-2zM504 401h1v1h-1zM286 402h2v1h-2zM504 402h1v1h-1zM288 403h2v1h-2zM503 403h1v1h-1zM290 404h2v1h-2zM502 404h1v1h-1zM292 405h2v1h-2zM502 405h1v1h-1zM294 406h2v1h-2zM501 406h1v1h-1zM296 407h2v1h-2zM500 407h1v1h-1zM298 408h2v1h-2zM500 408h1v1h-1zM300 409h2v1h-2zM499 409h1v1h-1zM302 410h1v1h-1zM498 410h1v1h-1zM303 411h2v1h-2zM497 411h1v1h-1zM305 412h1v1h-1zM496 412h1v1h-1zM305 413h1v1h-1zM495 413h1v1h-1zM306 414h2v1h-2zM493 414h2v1h-2zM308 415h1v1h-1zM492 415h1v1h-1zM309 416h2v1h-2zM491 416h1v1h-1zM311 417h1v1h-1zM490 417h1v1h-1zM312 418h1v1h-1zM489 418h1v1h-1zM312 419h1v1h-1zM489 419h1v1h-1zM313 420h1v1h-1zM488 420h1v1h-1zM314 421h1v1h-1zM487 421h1v1h-1zM315 422h1v1h-1zM486 422h1v1h-1zM316 423h1v1h-1zM485 423h1v1h-1zM316 424h1v1h-1zM484 424h1v1h-1zM317 425h1v1h-1zM483 425h1v1h-1zM318 426h1v1h-1zM482 426h1v1h-1zM319 427h1v1h-1zM481 427h1v1h-1zM319 428h1v1h-1zM480 428h1v1h-1zM320 429h1v1h-1zM478 429h2v1h-2zM321 430h1v1h-1zM477 430h1v1h-1zM322 431h1v1h-1zM475 431h2v1h-2zM323 432h1v1h-1zM474 432h1v1h-1zM323 433h1v1h-1zM474 433h1v1h-1zM324 434h1v1h-1zM472 434h2v1h-2zM325 435h1v1h-1zM471 435h1v1h-1zM326 436h1v1h-1zM468 436h3v1h-3zM327 437h1v1h-1zM463 437h5v1h-5zM328 438h1v1h-1zM458 438h5v1h-5zM328 439h1v1h-1zM454 439h4v1h-4zM329 440h1v1h-1zM448 440h6v1h-6zM330 441h1v1h-1zM444 441h4v1h-4zM331 442h1v1h-1zM443 442h1v1h-1zM332 443h1v1h-1zM441 443h2v1h-2zM332 444h1v1h-1zM440 444h1v1h-1zM333 445h1v1h-1zM438 445h2v1h-2zM334 446h1v1h-1zM436 446h2v1h-2zM335 447h1v1h-1zM435 447h1v1h-1zM336 448h1v1h-1zM433 448h2v1h-2zM337 449h1v1h-1zM432 449h1v1h-1zM338 450h1v1h-1zM431 450h1v1h-1zM338 451h1v1h-1zM430 451h1v1h-1zM339 452h2v1h-2zM428 452h2v1h-2zM341 453h1v1h-1zM427 453h1v1h-1zM342 454h1v1h-1zM425 454h2v1h-2zM343 455h1v1h-1zM424 455h1v1h-1zM344 456h1v1h-1zM422 456h2v1h-2zM345 457h1v1h-1zM420 457h2v1h-2zM346 458h1v1h-1zM418 458h2v1h-2zM347 459h1v1h-1zM416 459h2v1h-2zM348 460h1v1h-1zM414 460h2v1h-2zM349 461h1v1h-1zM412 461h2v1h-2zM350 462h1v1h-1zM410 462h2v1h-2zM351 463h1v1h-1zM408 463h2v1h-2zM352 464h1v1h-1zM406 464h2v1h-2zM353 465h2v1h-2zM404 465h2v1h-2zM355 466h1v1h-1zM402 466h2v1h-2zM356 467h2v1h-2zM400 467h2v1h-2zM358 468h2v1h-2zM398 468h2v1h-2zM360 469h1v1h-1zM397 469h1v1h-1zM361 470h1v1h-1zM395 470h2v1h-2zM362 471h2v1h-2zM393 471h2v1h-2zM364 472h2v1h-2zM390 472h3v1h-3zM366 473h2v1h-2zM388 473h2v1h-2zM368 474h2v1h-2zM385 474h3v1h-3zM370 475h5v1h-5zM383 475h2v1h-2zM375 476h8v1h-8z" fill="#32ad6b" shape-rendering="crispEdges"/>
<path d="M1322 130h4v1h-4zM1318 131h4v1h-4zM1326 131h2v1h-2zM1314 132h4v1h-4zM1328 132h3v1h-3zM1312 133h2v1h-2zM1331 133h4v1h-4zM1311 134h1v1h-1zM1335 134h3v1h-3zM1309 135h2v1h-2zM1338 135h3v1h-3zM1308 136h1v1h-1zM1341 136h1v1h-1zM1308 137h1v1h-1zM1341 137h1v1h-1zM1307 138h1v1h-1zM1342 138h1v1h-1zM1307 139h1v1h-1zM1343 139h1v1h-1zM1306 140h1v1h-1zM1344 140h1v1h-1zM1306 141h1v1h-1zM1345 141h1v1h-1zM1305 142h1v1h-1zM1345 142h1v1h-1zM1305 143h1v1h-1zM1346 143h1v1h-1zM1304 144h1v1h-1zM1347 144h1v1h-1zM1304 145h1v1h-1zM1348 145h1v1h-1zM1303 146h1v1h-1zM1348 146h1v1h-1zM1303 147h1v1h-1zM1348 147h1v1h-1zM1303 148h1v1h-1zM1349 148h1v1h-1zM1302 149h1v1h-1zM1349 149h1v1h-1zM1302 150h1v1h-1zM1350 150h1v1h-1zM1301 151h1v1h-1zM1350 151h1v1h-1zM1301 152h1v1h-1zM1350 152h1v1h-1zM1300 153h1v1h-1zM1351 153h1v1h-1zM1300 154h1v1h-1zM1351 154h1v1h-1zM1299 155h1v1h-1zM1352 155h1v1h-1zM1299 156h1v1h-1zM1352 156h1v1h-1zM1299 157h1v1h-1zM1352 157h1v1h-1zM1298 158h1v1h-1zM1353 158h1v1h-1zM1298 159h1v1h-1zM1353 159h1v1h-1zM1298 160h1v1h-1zM1354 160h1v1h-1zM1297 161h1v1h-1zM1354 161h1v1h-1zM1297 162h1v1h-1zM1355 162h1v1h-1zM1296 163h1v1h-1zM1355 163h1v1h-1zM1296 164h1v1h-1zM1356 164h1v1h-1zM1295 165h1v1h-1zM1356 165h1v1h-1zM1295 166h1v1h-1zM1356 166h1v1h-1zM1294 167h1v1h-1zM1357 167h1v1h-1zM1294 168h1v1h-1zM1357 168h1v1h-1zM1293 169h1v1h-1zM1358 169h1v1h-1zM1293 170h1v1h-1zM1358 170h1v1h-1zM1292 171h1v1h-1zM1358 171h1v1h-1zM1291 172h1v1h-1zM1359 172h1v1h-1zM1291 173h1v1h-1zM1359 173h1v1h-1zM1290 174h1v1h-1zM1360 174h1v1h-1zM1290 175h1v1h-1zM1360 175h1v1h-1zM1289 176h1v1h-1zM1360 176h1v1h-1zM1289 177h1v1h-1zM1361 177h1v1h-1zM1288 178h1v1h-1zM1361 178h1v1h-1zM1288 179h1v1h-1zM1362 179h1v1h-1zM1288 180h1v1h-1zM1362 180h1v1h-1zM1287 181h1v1h-1zM1362 181h1v1h-1zM1286 182h1v1h-1zM1363 182h1v1h-1zM1285 183h1v1h-1zM1363 183h1v1h-1zM1285 184h1v1h-1zM1364 184h1v1h-1zM1284 185h1v1h-1zM1364 185h1v1h-1zM1283 186h1v1h-1zM1364 186h1v1h-1zM1283 187h1v1h-1zM1365 187h1v1h-1zM1282 188h1v1h-1zM1365 188h1v1h-1zM1281 189h1v1h-1zM1366 189h1v1h-1zM1281 190h1v1h-1zM1366 190h1v1h-1zM1280 191h1v1h-1zM1367 191h1v1h-1zM1279 192h1v1h-1zM1367 192h1v1h-1zM1278 193h1v1h-1zM1368 193h1v1h-1zM1278 194h1v1h-1zM1368 194h1v1h-1zM1277 195h1v1h-1zM1368 195h1v1h-1zM1276 196h1v1h-1zM1369 196h1v1h-1zM1276 197h1v1h-1zM1369 197h1v1h-1zM1274 198h2v1h-2zM1370 198h1v1h-1zM1272 199h2v1h-2zM1370 199h1v1h-1zM1271 200h1v1h-1zM1370 200h1v1h-1zM1269 201h2v1h-2zM1371 201h1v1h-1zM1268 202h1v1h-1zM1371 202h1v1h-1zM1265 203h3v1h-3zM1372 203h1v1h-1zM1261 204h4v1h-4zM1372 204h1v1h-1zM1258 205h4v1h-4zM1372 205h1v1h-1zM1256 206h2v1h-2zM1373 206h1v1h-1zM1253 207h3v1h-3zM1374 207h1v1h-1zM1249 208h4v1h-4zM1374 208h1v1h-1zM1246 209h3v1h-3zM1375 209h1v1h-1zM1243 210h3v1h-3zM1375 210h1v1h-1zM1239 211h4v1h-4zM1376 211h1v1h-1zM1237 212h2v1h-2zM1376 212h1v1h-1zM1234 213h3v1h-3zM1377 213h1v1h-1zM1230 214h4v1h-4zM1377 214h1v1h-1zM1228 215h2v1h-2zM1378 215h1v1h-1zM1227 216h1v1h-1zM1378 216h1v1h-1zM1226 217h1v1h-1zM1379 217h1v1h-1zM1225 218h1v1h-1zM1379 218h1v1h-1zM1224 219h1v1h-1zM1380 219h1v1h-1zM1223 220h1v1h-1zM1222 221h1v1h-1zM1221 222h1v1h-1zM1220 223h1v1h-1zM1219 224h1v1h-1zM1218 225h1v1h-1zM1217 226h1v1h-1zM1216 227h1v1h-1zM1215 228h1v1h-1zM1214 229h1v1h-1zM1214 230h1v1h-1zM1213 231h1v1h-1zM1212 232h1v1h-1zM1211 233h1v1h-1zM1210 234h1v1h-1zM1209 235h1v1h-1zM1208 236h1v1h-1zM1207 237h1v1h-1zM1206 238h1v1h-1zM1205 239h1v1h-1zM1204 240h1v1h-1zM1203 241h1v1h-1zM1200 242h3v1h-3zM1197 243h3v1h-3zM1195 244h2v1h-2zM1193 245h2v1h-2zM1158 246h10v1h-10zM1190 246h3v1h-3zM1156 247h2v1h-2zM1168 247h1v1h-1zM1185 247h5v1h-5zM1155 248h1v1h-1zM1169 248h3v1h-3zM1180 248h5v1h-5zM1153 249h2v1h-2zM1172 249h1v1h-1zM1174 249h6v1h-6zM1152 250h1v1h-1zM1173 250h1v1h-1zM1150 251h2v1h-2zM1148 252h2v1h-2zM1147 253h1v1h-1zM1146 254h1v1h-1zM1146 255h1v1h-1zM1145 256h1v1h-1zM1144 257h1v1h-1zM1143 258h1v1h-1zM1142 259h1v1h-1zM1141 260h1v1h-1zM1140 261h1v1h-1zM1140 262h1v1h-1zM1139 263h1v1h-1zM1137 264h2v1h-2zM1069 265h7v1h-7zM1136 265h1v1h-1zM1067 266h2v1h-2zM1076 266h2v1h-2zM1135 266h1v1h-1zM1065 267h2v1h-2zM1078 267h2v1h-2zM1133 267h2v1h-2zM1063 268h2v1h-2zM1080 268h2v1h-2zM1132 268h1v1h-1zM1061 269h2v1h-2zM1082 269h1v1h-1zM1131 269h1v1h-1zM1060 270h1v1h-1zM1083 270h2v1h-2zM1130 270h1v1h-1zM1058 271h2v1h-2zM1085 271h2v1h-2zM1128 271h2v1h-2zM1056 272h2v1h-2zM1087 272h2v1h-2zM1127 272h1v1h-1zM1054 273h2v1h-2zM1089 273h2v1h-2zM1126 273h1v1h-1zM1053 274h1v1h-1zM1091 274h2v1h-2zM1124 274h2v1h-2zM1051 275h2v1h-2zM1093 275h3v1h-3zM1121 275h3v1h-3zM1050 276h1v1h-1zM1096 276h2v1h-2zM1117 276h4v1h-4zM1049 277h1v1h-1zM1098 277h2v1h-2zM1113 277h4v1h-4zM1047 278h2v1h-2zM1100 278h13v1h-13zM1046 279h1v1h-1zM1046 280h1v1h-1zM1045 281h1v1h-1zM1043 282h2v1h-2zM1042 283h1v1h-1zM1041 284h1v1h-1zM1039 285h2v1h-2zM1038 286h1v1h-1zM1037 287h1v1h-1zM1037 288h1v1h-1zM1036 289h1v1h-1zM1035 290h1v1h-1zM1034 291h1v1h-1zM1034 292h1v1h-1zM1033 293h1v1h-1zM1032 294h1v1h-1zM1032 295h1v1h-1zM1031 296h1v1h-1zM1030 297h1v1h-1zM1029 298h1v1h-1zM1029 299h1v1h-1zM1028 300h1v1h-1zM1028 301h1v1h-1zM1027 302h1v1h-1zM1027 303h1v1h-1zM1026 304h1v1h-1zM1026 305h1v1h-1zM1026 306h1v1h-1zM1025 307h1v1h-1zM1025 308h1v1h-1zM1024 309h1v1h-1zM1023 310h1v1h-1zM1023 311h1v1h-1zM1023 312h1v1h-1zM1022 313h1v1h-1zM1022 314h1v1h-1zM1021 315h1v1h-1zM1021 316h1v1h-1zM1020 317h1v1h-1zM1018 318h2v1h-2zM1016 319h2v1h-2zM1014 320h2v1h-2zM1011 321h3v1h-3zM1009 322h2v1h-2zM1007 323h2v1h-2zM1005 324h2v1h-2zM1003 325h2v1h-2zM1001 326h2v1h-2zM1000 327h1v1h-1zM998 328h2v1h-2zM997 329h1v1h-1zM996 330h1v1h-1zM994 331h2v1h-2zM992 332h2v1h-2zM991 333h1v1h-1zM989 334h2v1h-2zM988 335h1v1h-1zM987 336h1v1h-1zM987 337h1v1h-1zM986 338h1v1h-1zM985 339h1v1h-1zM985 340h1v1h-1zM984 341h1v1h-1zM983 342h1v1h-1zM983 343h1v1h-1zM982 344h1v1h-1zM981 345h1v1h-1zM981 346h1v1h-1zM980 347h1v1h-1zM980 348h1v1h-1zM979 349h1v1h-1zM978 350h1v1h-1zM978 351h1v1h-1zM977 352h1v1h-1zM976 353h1v1h-1zM976 354h1v1h-1zM975 355h1v1h-1zM974 356h1v1h-1zM974 357h1v1h-1zM973 358h1v1h-1zM972 359h1v1h-1zM971 360h1v1h-1zM970 361h1v1h-1zM969 362h1v1h-1zM969 363h1v1h-1zM76 364h1v1h-1zM968 364h1v1h-1zM74 365h2v1h-2zM77 365h1v1h-1zM967 365h1v1h-1zM71 366h3v1h-3zM78 366h1v1h-1zM966 366h1v1h-1zM70 367h1v1h-1zM79 367h2v1h-2zM966 367h1v1h-1zM68 368h2v1h-2zM81 368h1v1h-1zM153 368h21v1h-21zM965 368h1v1h-1zM66 369h2v1h-2zM82 369h1v1h-1zM150 369h3v1h-3zM174 369h4v1h-4zM964 369h1v1h-1zM63 370h3v1h-3zM83 370h2v1h-2zM148 370h2v1h-2zM178 370h3v1h-3zM963 370h1v1h-1zM61 371h2v1h-2zM85 371h1v1h-1zM145 371h3v1h-3zM181 371h1v1h-1zM963 371h1v1h-1zM55 372h6v1h-6zM86 372h1v1h-1zM142 372h3v1h-3zM182 372h1v1h-1zM962 372h1v1h-1zM49 373h6v1h-6zM87 373h1v1h-1zM140 373h2v1h-2zM183 373h1v1h-1zM961 373h1v1h-1zM46 374h3v1h-3zM88 374h1v1h-1zM112 374h12v1h-12zM137 374h3v1h-3zM184 374h1v1h-1zM960 374h1v1h-1zM43 375h3v1h-3zM89 375h2v1h-2zM109 375h3v1h-3zM124 375h5v1h-5zM134 375h3v1h-3zM185 375h1v1h-1zM958 375h2v1h-2zM40 376h3v1h-3zM91 376h1v1h-1zM106 376h3v1h-3zM129 376h5v1h-5zM186 376h1v1h-1zM956 376h2v1h-2zM36 377h4v1h-4zM92 377h1v1h-1zM103 377h3v1h-3zM187 377h1v1h-1zM954 377h2v1h-2zM33 378h3v1h-3zM93 378h10v1h-10zM188 378h1v1h-1zM952 378h2v1h-2zM20 379h13v1h-13zM188 379h1v1h-1zM950 379h2v1h-2zM18 380h2v1h-2zM189 380h1v1h-1zM948 380h2v1h-2zM16 381h2v1h-2zM189 381h1v1h-1zM946 381h2v1h-2zM14 382h2v1h-2zM190 382h1v1h-1zM944 382h2v1h-2zM12 383h2v1h-2zM190 383h1v1h-1zM943 383h1v1h-1zM11 384h1v1h-1zM191 384h1v1h-1zM907 384h4v1h-4zM941 384h2v1h-2zM11 385h1v1h-1zM191 385h1v1h-1zM873 385h5v1h-5zM905 385h2v1h-2zM911 385h3v1h-3zM939 385h2v1h-2zM10 386h1v1h-1zM192 386h1v1h-1zM869 386h4v1h-4zM878 386h3v1h-3zM902 386h3v1h-3zM914 386h4v1h-4zM938 386h1v1h-1zM10 387h1v1h-1zM192 387h1v1h-1zM865 387h4v1h-4zM881 387h3v1h-3zM900 387h2v1h-2zM918 387h3v1h-3zM936 387h2v1h-2zM9 388h1v1h-1zM193 388h1v1h-1zM861 388h4v1h-4zM884 388h3v1h-3zM899 388h1v1h-1zM921 388h3v1h-3zM934 388h2v1h-2zM9 389h1v1h-1zM193 389h1v1h-1zM859 389h2v1h-2zM887 389h3v1h-3zM896 389h3v1h-3zM924 389h3v1h-3zM933 389h1v1h-1zM8 390h1v1h-1zM194 390h1v1h-1zM812 390h13v1h-13zM854 390h5v1h-5zM890 390h3v1h-3zM894 390h2v1h-2zM927 390h3v1h-3zM931 390h2v1h-2zM8 391h1v1h-1zM194 391h1v1h-1zM810 391h2v1h-2zM825 391h6v1h-6zM851 391h3v1h-3zM893 391h1v1h-1zM930 391h1v1h-1zM7 392h1v1h-1zM195 392h1v1h-1zM807 392h3v1h-3zM831 392h20v1h-20zM7 393h1v1h-1zM195 393h1v1h-1zM804 393h3v1h-3zM6 394h1v1h-1zM196 394h1v1h-1zM801 394h3v1h-3zM6 395h1v1h-1zM196 395h1v1h-1zM791 395h10v1h-10zM5 396h1v1h-1zM196 396h1v1h-1zM779 396h12v1h-12zM5 397h1v1h-1zM197 397h1v1h-1zM777 397h2v1h-2zM4 398h1v1h-1zM197 398h1v1h-1zM775 398h2v1h-2zM4 399h1v1h-1zM198 399h1v1h-1zM774 399h1v1h-1zM3 400h1v1h-1zM198 400h1v1h-1zM773 400h1v1h-1zM3 401h1v1h-1zM198 401h1v1h-1zM772 401h1v1h-1zM2 402h1v1h-1zM199 402h1v1h-1zM772 402h1v1h-1zM2 403h1v1h-1zM199 403h1v1h-1zM771 403h1v1h-1zM1 404h1v1h-1zM199 404h1v1h-1zM770 404h1v1h-1zM1 405h1v1h-1zM200 405h1v1h-1zM770 405h1v1h-1zM0 406h1v1h-1zM200 406h1v1h-1zM769 406h1v1h-1zM200 407h1v1h-1zM769 407h1v1h-1zM201 408h1v1h-1zM549 408h1v1h-1zM768 408h1v1h-1zM201 409h1v1h-1zM548 409h1v1h-1zM550 409h2v1h-2zM768 409h1v1h-1zM201 410h1v1h-1zM546 410h2v1h-2zM552 410h2v1h-2zM767 410h1v1h-1zM202 411h1v1h-1zM545 411h1v1h-1zM554 411h2v1h-2zM766 411h1v1h-1zM202 412h1v1h-1zM544 412h1v1h-1zM556 412h1v1h-1zM765 412h1v1h-1zM203 413h1v1h-1zM543 413h1v1h-1zM557 413h1v1h-1zM764 413h1v1h-1zM203 414h1v1h-1zM541 414h2v1h-2zM558 414h1v1h-1zM761 414h3v1h-3zM203 415h1v1h-1zM540 415h1v1h-1zM558 415h1v1h-1zM760 415h1v1h-1zM204 416h1v1h-1zM540 416h1v1h-1zM559 416h1v1h-1zM757 416h3v1h-3zM204 417h1v1h-1zM540 417h1v1h-1zM559 417h1v1h-1zM756 417h1v1h-1zM204 418h1v1h-1zM539 418h1v1h-1zM560 418h1v1h-1zM756 418h1v1h-1zM205 419h1v1h-1zM539 419h1v1h-1zM561 419h1v1h-1zM755 419h1v1h-1zM205 420h1v1h-1zM539 420h1v1h-1zM561 420h1v1h-1zM754 420h1v1h-1zM205 421h1v1h-1zM538 421h1v1h-1zM562 421h1v1h-1zM754 421h1v1h-1zM206 422h1v1h-1zM538 422h1v1h-1zM562 422h1v1h-1zM753 422h1v1h-1zM206 423h1v1h-1zM537 423h1v1h-1zM563 423h1v1h-1zM751 423h2v1h-2zM206 424h1v1h-1zM537 424h1v1h-1zM563 424h1v1h-1zM750 424h1v1h-1zM207 425h1v1h-1zM537 425h1v1h-1zM564 425h1v1h-1zM750 425h1v1h-1zM207 426h1v1h-1zM536 426h1v1h-1zM565 426h1v1h-1zM749 426h1v1h-1zM207 427h1v1h-1zM536 427h1v1h-1zM565 427h1v1h-1zM748 427h1v1h-1zM208 428h1v1h-1zM536 428h1v1h-1zM566 428h1v1h-1zM748 428h1v1h-1zM208 429h1v1h-1zM535 429h1v1h-1zM566 429h1v1h-1zM747 429h1v1h-1zM208 430h1v1h-1zM535 430h1v1h-1zM567 430h1v1h-1zM747 430h1v1h-1zM209 431h1v1h-1zM535 431h1v1h-1zM568 431h1v1h-1zM746 431h1v1h-1zM209 432h1v1h-1zM534 432h1v1h-1zM569 432h1v1h-1zM746 432h1v1h-1zM209 433h1v1h-1zM534 433h1v1h-1zM570 433h1v1h-1zM745 433h1v1h-1zM210 434h1v1h-1zM534 434h1v1h-1zM570 434h1v1h-1zM745 434h1v1h-1zM210 435h1v1h-1zM533 435h1v1h-1zM571 435h1v1h-1zM744 435h1v1h-1zM210 436h1v1h-1zM533 436h1v1h-1zM572 436h1v1h-1zM744 436h1v1h-1zM211 437h1v1h-1zM533 437h1v1h-1zM572 437h1v1h-1zM743 437h1v1h-1zM211 438h1v1h-1zM533 438h1v1h-1zM573 438h1v1h-1zM743 438h1v1h-1zM211 439h1v1h-1zM532 439h1v1h-1zM573 439h1v1h-1zM742 439h1v1h-1zM212 440h1v1h-1zM532 440h1v1h-1zM574 440h1v1h-1zM740 440h2v1h-2zM212 441h1v1h-1zM532 441h1v1h-1zM575 441h1v1h-1zM737 441h3v1h-3zM212 442h1v1h-1zM532 442h1v1h-1zM576 442h1v1h-1zM735 442h2v1h-2zM213 443h1v1h-1zM531 443h1v1h-1zM577 443h1v1h-1zM733 443h2v1h-2zM213 444h1v1h-1zM531 444h1v1h-1zM578 444h1v1h-1zM732 444h1v1h-1zM213 445h1v1h-1zM531 445h1v1h-1zM579 445h1v1h-1zM731 445h1v1h-1zM214 446h1v1h-1zM531 446h1v1h-1zM580 446h1v1h-1zM731 446h1v1h-1zM214 447h1v1h-1zM531 447h1v1h-1zM581 447h1v1h-1zM730 447h1v1h-1zM214 448h1v1h-1zM530 448h1v1h-1zM582 448h1v1h-1zM730 448h1v1h-1zM215 449h1v1h-1zM530 449h1v1h-1zM583 449h1v1h-1zM729 449h1v1h-1zM215 450h1v1h-1zM530 450h1v1h-1zM584 450h2v1h-2zM728 450h1v1h-1zM215 451h1v1h-1zM530 451h1v1h-1zM586 451h2v1h-2zM728 451h1v1h-1zM216 452h1v1h-1zM529 452h1v1h-1zM588 452h2v1h-2zM728 452h1v1h-1zM216 453h1v1h-1zM529 453h1v1h-1zM590 453h2v1h-2zM727 453h1v1h-1zM216 454h1v1h-1zM529 454h1v1h-1zM592 454h2v1h-2zM727 454h1v1h-1zM217 455h1v1h-1zM529 455h1v1h-1zM594 455h2v1h-2zM726 455h1v1h-1zM217 456h1v1h-1zM528 456h1v1h-1zM596 456h2v1h-2zM726 456h1v1h-1zM217 457h1v1h-1zM528 457h1v1h-1zM598 457h6v1h-6zM725 457h1v1h-1zM218 458h1v1h-1zM528 458h1v1h-1zM604 458h6v1h-6zM628 458h10v1h-10zM725 458h1v1h-1zM218 459h1v1h-1zM528 459h1v1h-1zM610 459h6v1h-6zM623 459h5v1h-5zM638 459h24v1h-24zM724 459h1v1h-1zM218 460h1v1h-1zM527 460h1v1h-1zM616 460h7v1h-7zM662 460h3v1h-3zM724 460h1v1h-1zM219 461h1v1h-1zM527 461h1v1h-1zM665 461h2v1h-2zM723 461h1v1h-1zM219 462h1v1h-1zM527 462h1v1h-1zM667 462h3v1h-3zM722 462h1v1h-1zM219 463h1v1h-1zM527 463h1v1h-1zM670 463h6v1h-6zM722 463h1v1h-1zM220 464h1v1h-1zM527 464h1v1h-1zM676 464h6v1h-6zM721 464h1v1h-1zM220 465h1v1h-1zM526 465h1v1h-1zM682 465h7v1h-7zM720 465h1v1h-1zM220 466h1v1h-1zM526 466h1v1h-1zM689 466h6v1h-6zM719 466h1v1h-1zM221 467h1v1h-1zM526 467h1v1h-1zM695 467h2v1h-2zM718 467h1v1h-1zM221 468h1v1h-1zM526 468h1v1h-1zM697 468h2v1h-2zM717 468h1v1h-1zM221 469h1v1h-1zM525 469h1v1h-1zM699 469h2v1h-2zM716 469h1v1h-1zM222 470h1v1h-1zM525 470h1v1h-1zM701 470h2v1h-2zM714 470h2v1h-2zM222 471h1v1h-1zM525 471h1v1h-1zM703 471h2v1h-2zM712 471h2v1h-2zM222 472h1v1h-1zM525 472h1v1h-1zM705 472h2v1h-2zM710 472h2v1h-2zM223 473h1v1h-1zM524 473h1v1h-1zM707 473h3v1h-3zM223 474h1v1h-1zM524 474h1v1h-1zM223 475h1v1h-1zM524 475h1v1h-1zM224 476h1v1h-1zM524 476h1v1h-1zM224 477h1v1h-1zM524 477h1v1h-1zM225 478h1v1h-1zM523 478h1v1h-1zM225 479h1v1h-1zM523 479h1v1h-1zM225 480h1v1h-1zM523 480h1v1h-1zM226 481h1v1h-1zM523 481h1v1h-1zM226 482h1v1h-1zM523 482h1v1h-1zM226 483h1v1h-1zM522 483h1v1h-1zM227 484h1v1h-1zM522 484h1v1h-1zM227 485h1v1h-1zM522 485h1v1h-1zM227 486h1v1h-1zM522 486h1v1h-1zM228 487h1v1h-1zM522 487h1v1h-1zM228 488h1v1h-1zM521 488h1v1h-1zM228 489h1v1h-1zM521 489h1v1h-1zM229 490h1v1h-1zM521 490h1v1h-1zM229 491h1v1h-1zM521 491h1v1h-1zM230 492h1v1h-1zM521 492h1v1h-1zM230 493h1v1h-1zM520 493h1v1h-1zM231 494h1v1h-1zM520 494h1v1h-1zM231 495h1v1h-1zM520 495h1v1h-1zM232 496h1v1h-1zM520 496h1v1h-1zM232 497h1v1h-1zM520 497h1v1h-1zM233 498h1v1h-1zM519 498h1v1h-1zM233 499h1v1h-1zM519 499h1v1h-1zM234 500h1v1h-1zM519 500h1v1h-1zM234 501h1v1h-1zM519 501h1v1h-1zM235 502h1v1h-1zM519 502h1v1h-1zM235 503h1v1h-1zM518 503h1v1h-1zM236 504h1v1h-1zM518 504h1v1h-1zM236 505h1v1h-1zM518 505h1v1h-1zM237 506h1v1h-1zM518 506h1v1h-1zM238 507h1v1h-1zM518 507h1v1h-1zM238 508h1v1h-1zM517 508h1v1h-1zM239 509h1v1h-1zM517 509h1v1h-1zM240 510h1v1h-1zM517 510h1v1h-1zM241 511h1v1h-1zM517 511h1v1h-1zM242 512h1v1h-1zM517 512h1v1h-1zM243 513h1v1h-1zM516 513h1v1h-1zM244 514h1v1h-1zM516 514h1v1h-1zM244 515h1v1h-1zM515 515h1v1h-1zM245 516h1v1h-1zM515 516h1v1h-1zM246 517h2v1h-2zM514 517h1v1h-1zM248 518h2v1h-2zM341 518h2v1h-2zM514 518h1v1h-1zM250 519h2v1h-2zM267 519h1v1h-1zM340 519h1v1h-1zM343 519h2v1h-2zM513 519h1v1h-1zM252 520h3v1h-3zM264 520h3v1h-3zM268 520h1v1h-1zM340 520h1v1h-1zM345 520h2v1h-2zM513 520h1v1h-1zM255 521h3v1h-3zM262 521h2v1h-2zM269 521h1v1h-1zM339 521h1v1h-1zM347 521h2v1h-2zM512 521h1v1h-1zM258 522h4v1h-4zM270 522h2v1h-2zM338 522h1v1h-1zM349 522h2v1h-2zM512 522h1v1h-1zM272 523h1v1h-1zM337 523h1v1h-1zM351 523h2v1h-2zM511 523h1v1h-1zM273 524h1v1h-1zM336 524h1v1h-1zM353 524h2v1h-2zM511 524h1v1h-1zM274 525h1v1h-1zM334 525h2v1h-2zM355 525h1v1h-1zM510 525h1v1h-1zM275 526h1v1h-1zM332 526h2v1h-2zM356 526h2v1h-2zM510 526h1v1h-1zM276 527h1v1h-1zM330 527h2v1h-2zM358 527h1v1h-1zM509 527h1v1h-1zM277 528h2v1h-2zM329 528h1v1h-1zM358 528h1v1h-1zM509 528h1v1h-1zM279 529h1v1h-1zM327 529h2v1h-2zM359 529h1v1h-1zM508 529h1v1h-1zM280 530h1v1h-1zM309 530h18v1h-18zM359 530h1v1h-1zM508 530h1v1h-1zM281 531h1v1h-1zM308 531h1v1h-1zM360 531h1v1h-1zM507 531h1v1h-1zM282 532h1v1h-1zM306 532h2v1h-2zM360 532h1v1h-1zM507 532h1v1h-1zM283 533h1v1h-1zM305 533h1v1h-1zM361 533h1v1h-1zM506 533h1v1h-1zM284 534h3v1h-3zM304 534h1v1h-1zM362 534h1v1h-1zM506 534h1v1h-1zM287 535h5v1h-5zM302 535h2v1h-2zM362 535h1v1h-1zM505 535h1v1h-1zM292 536h6v1h-6zM301 536h1v1h-1zM363 536h1v1h-1zM505 536h1v1h-1zM298 537h3v1h-3zM363 537h1v1h-1zM504 537h1v1h-1zM364 538h1v1h-1zM504 538h1v1h-1zM364 539h1v1h-1zM503 539h1v1h-1zM365 540h1v1h-1zM503 540h1v1h-1zM366 541h2v1h-2zM502 541h1v1h-1zM368 542h2v1h-2zM502 542h1v1h-1zM370 543h1v1h-1zM501 543h1v1h-1zM371 544h1v1h-1zM501 544h1v1h-1zM372 545h2v1h-2zM500 545h1v1h-1zM374 546h3v1h-3zM500 546h1v1h-1zM377 547h3v1h-3zM499 547h1v1h-1zM380 548h4v1h-4zM498 548h1v1h-1zM384 549h3v1h-3zM497 549h1v1h-1zM387 550h2v1h-2zM496 550h1v1h-1zM389 551h2v1h-2zM495 551h1v1h-1zM391 552h1v1h-1zM494 552h1v1h-1zM392 553h1v1h-1zM493 553h1v1h-1zM393 554h2v1h-2zM492 554h1v1h-1zM395 555h2v1h-2zM490 555h2v1h-2zM397 556h2v1h-2zM489 556h1v1h-1zM399 557h1v1h-1zM488 557h1v1h-1zM400 558h2v1h-2zM487 558h1v1h-1zM402 559h2v1h-2zM486 559h1v1h-1zM404 560h1v1h-1zM485 560h1v1h-1zM405 561h2v1h-2zM484 561h1v1h-1zM407 562h2v1h-2zM484 562h1v1h-1zM409 563h1v1h-1zM482 563h2v1h-2zM410 564h2v1h-2zM481 564h1v1h-1zM412 565h1v1h-1zM480 565h1v1h-1zM413 566h2v1h-2zM479 566h1v1h-1zM415 567h1v1h-1zM478 567h1v1h-1zM416 568h2v1h-2zM477 568h1v1h-1zM418 569h2v1h-2zM476 569h1v1h-1zM420 570h1v1h-1zM475 570h1v1h-1zM421 571h2v1h-2zM473 571h2v1h-2zM423 572h2v1h-2zM472 572h1v1h-1zM425 573h3v1h-3zM471 573h1v1h-1zM428 574h3v1h-3zM470 574h1v1h-1zM431 575h39v1h-39z" fill="#32ad6b" shape-rendering="crispEdges"/>
</g></g>
<g shape-rendering="crispEdges">
<rect x="4" y="292" width="1" height="38" fill="#000"/>
<rect x="2" y="304" width="5" height="26" fill="#000"/>
<rect x="3" y="305" width="3" height="24" fill="#fff"/>
<rect x="12" y="284" width="1" height="46" fill="#000"/>
<rect x="10" y="303" width="5" height="25" fill="#000"/>
<rect x="20" y="301" width="1" height="29" fill="#000"/>
<rect x="18" y="312" width="5" height="15" fill="#000"/>
<rect x="19" y="313" width="3" height="13" fill="#fff"/>
<rect x="28" y="277" width="1" height="37" fill="#000"/>
<rect x="26" y="288" width="5" height="26" fill="#000"/>
<rect x="27" y="289" width="3" height="24" fill="#fff"/>
<rect x="36" y="275" width="1" height="26" fill="#000"/>
<rect x="34" y="287" width="5" height="1" fill="#000"/>
<rect x="44" y="277" width="1" height="16" fill="#000"/>
<rect x="42" y="279" width="5" height="3" fill="#000"/>
<rect x="52" y="263" width="1" height="20" fill="#000"/>
<rect x="50" y="281" width="5" height="1" fill="#000"/>
<rect x="60" y="267" width="1" height="31" fill="#000"/>
<rect x="58" y="279" width="5" height="8" fill="#000"/>
<rect x="68" y="284" width="1" height="38" fill="#000"/>
<rect x="66" y="286" width="5" height="34" fill="#000"/>
<rect x="76" y="269" width="1" height="67" fill="#000"/>
<rect x="74" y="272" width="5" height="48" fill="#000"/>
<rect x="75" y="273" width="3" height="46" fill="#fff"/>
<rect x="84" y="208" width="1" height="70" fill="#000"/>
<rect x="82" y="221" width="5" height="52" fill="#000"/>
<rect x="83" y="222" width="3" height="50" fill="#fff"/>
<rect x="92" y="219" width="1" height="13" fill="#000"/>
<rect x="90" y="220" width="5" height="4" fill="#000"/>
<rect x="91" y="221" width="3" height="2" fill="#fff"/>
<rect x="100" y="214" width="1" height="22" fill="#000"/>
<rect x="98" y="218" width="5" height="7" fill="#000"/>
<rect x="108" y="213" width="1" height="32" fill="#000"/>
<rect x="106" y="224" width="5" height="4" fill="#000"/>
<rect x="116" y="223" width="1" height="103" fill="#000"/>
<rect x="114" y="227" width="5" height="96" fill="#000"/>
<rect x="124" y="314" width="1" height="47" fill="#000"/>
<rect x="122" y="322" width="5" height="21" fill="#000"/>
<rect x="132" y="338" width="1" height="35" fill="#000"/>
<rect x="130" y="338" width="5" height="7" fill="#000"/>
<rect x="131" y="339" width="3" height="5" fill="#fff"/>
<rect x="140" y="341" width="1" height="24" fill="#000"/>
<rect x="138" y="343" width="5" height="5" fill="#000"/>
<rect x="139" y="344" width="3" height="3" fill="#fff"/>
<rect x="148" y="285" width="1" height="96" fill="#000"/>
<rect x="146" y="286" width="5" height="56" fill="#000"/>
<rect x="147" y="287" width="3" height="54" fill="#fff"/>
<rect x="156" y="274" width="1" height="41" fill="#000"/>
<rect x="154" y="285" width="5" height="20" fill="#000"/>
<rect x="164" y="285" width="1" height="68" fill="#000"/>
<rect x="162" y="305" width="5" height="9" fill="#000"/>
<rect x="172" y="294" width="1" height="44" fill="#000"/>
<rect x="170" y="313" width="5" height="12" fill="#000"/>
<rect x="180" y="307" width="1" height="36" fill="#000"/>
<rect x="178" y="321" width="5" height="4" fill="#000"/>
<rect x="188" y="342" width="1" height="16" fill="#000"/>
<rect x="186" y="349" width="5" height="4" fill="#000"/>
<rect x="196" y="345" width="1" height="73" fill="#000"/>
<rect x="194" y="353" width="5" height="49" fill="#000"/>
<rect x="204" y="385" width="1" height="59" fill="#000"/>
<rect x="202" y="401" width="5" height="37" fill="#000"/>
<rect x="212" y="416" width="1" height="43" fill="#000"/>
<rect x="210" y="438" width="5" height="18" fill="#000"/>
<rect x="220" y="433" width="1" height="46" fill="#000"/>
<rect x="218" y="456" width="5" height="10" fill="#000"/>
<rect x="228" y="449" width="1" height="42" fill="#000"/>
<rect x="226" y="464" width="5" height="15" fill="#000"/>
<rect x="236" y="452" width="1" height="18" fill="#000"/>
<rect x="234" y="455" width="5" height="15" fill="#000"/>
<rect x="235" y="456" width="3" height="13" fill="#fff"/>
<rect x="244" y="448" width="1" height="73" fill="#000"/>
<rect x="242" y="457" width="5" height="8" fill="#000"/>
<rect x="252" y="417" width="1" height="49" fill="#000"/>
<rect x="250" y="447" width="5" height="19" fill="#000"/>
<rect x="251" y="448" width="3" height="17" fill="#fff"/>
<rect x="260" y="417" width="1" height="50" fill="#000"/>
<rect x="258" y="446" width="5" height="10" fill="#000"/>
<rect x="268" y="435" width="1" height="59" fill="#000"/>
<rect x="266" y="445" width="5" height="12" fill="#000"/>
<rect x="267" y="446" width="3" height="10" fill="#fff"/>
<rect x="276" y="436" width="1" height="34" fill="#000"/>
<rect x="274" y="445" width="5" height="18" fill="#000"/>
<rect x="284" y="463" width="1" height="16" fill="#000"/>
<rect x="282" y="463" width="5" height="5" fill="#000"/>
<rect x="292" y="424" width="1" height="57" fill="#000"/>
<rect x="290" y="433" width="5" height="36" fill="#000"/>
<rect x="291" y="434" width="3" height="34" fill="#fff"/>
<rect x="300" y="418" width="1" height="41" fill="#000"/>
<rect x="298" y="421" width="5" height="13" fill="#000"/>
<rect x="299" y="422" width="3" height="11" fill="#fff"/>
<rect x="308" y="407" width="1" height="77" fill="#000"/>
<rect x="306" y="421" width="5" height="5" fill="#000"/>
<rect x="316" y="408" width="1" height="95" fill="#000"/>
<rect x="314" y="426" width="5" height="54" fill="#000"/>
<rect x="324" y="476" width="1" height="37" fill="#000"/>
<rect x="322" y="479" width="5" height="17" fill="#000"/>
<rect x="332" y="490" width="1" height="19" fill="#000"/>
<rect x="330" y="496" width="5" height="12" fill="#000"/>
<rect x="331" y="497" width="3" height="10" fill="#fff"/>
<rect x="340" y="473" width="1" height="64" fill="#000"/>
<rect x="338" y="493" width="5" height="6" fill="#000"/>
<rect x="339" y="494" width="3" height="4" fill="#fff"/>
<rect x="348" y="489" width="1" height="70" fill="#000"/>
<rect x="346" y="492" width="5" height="43" fill="#000"/>
<rect x="356" y="512" width="1" height="52" fill="#000"/>
<rect x="354" y="515" width="5" height="21" fill="#000"/>
<rect x="355" y="516" width="3" height="19" fill="#fff"/>
<rect x="364" y="494" width="1" height="65" fill="#000"/>
<rect x="362" y="516" width="5" height="39" fill="#000"/>
<rect x="372" y="509" width="1" height="50" fill="#000"/>
<rect x="370" y="522" width="5" height="33" fill="#000"/>
<rect x="371" y="523" width="3" height="31" fill="#fff"/>
<rect x="380" y="479" width="1" height="35" fill="#000"/>
<rect x="378" y="488" width="5" height="26" fill="#000"/>
<rect x="379" y="489" width="3" height="24" fill="#fff"/>
<rect x="388" y="392" width="1" height="99" fill="#000"/>
<rect x="386" y="407" width="5" height="79" fill="#000"/>
<rect x="387" y="408" width="3" height="77" fill="#fff"/>
<rect x="396" y="393" width="1" height="36" fill="#000"/>
<rect x="394" y="400" width="5" height="8" fill="#000"/>
<rect x="395" y="401" width="3" height="6" fill="#fff"/>
<rect x="404" y="362" width="1" height="42" fill="#000"/>
<rect x="402" y="371" width="5" height="29" fill="#000"/>
<rect x="403" y="372" width="3" height="27" fill="#fff"/>
<rect x="412" y="353" width="1" height="41" fill="#000"/>
<rect x="410" y="370" width="5" height="1" fill="#000"/>
<rect x="420" y="354" width="1" height="20" fill="#000"/>
<rect x="418" y="360" width="5" height="9" fill="#000"/>
<rect x="419" y="361" width="3" height="7" fill="#fff"/>
<rect x="428" y="319" width="1" height="22" fill="#000"/>
<rect x="426" y="325" width="5" height="14" fill="#000"/>
<rect x="427" y="326" width="3" height="12" fill="#fff"/>
<rect x="436" y="325" width="1" height="75" fill="#000"/>
<rect x="434" y="326" width="5" height="53" fill="#000"/>
<rect x="444" y="359" width="1" height="39" fill="#000"/>
<rect x="442" y="377" width="5" height="3" fill="#000"/>
<rect x="452" y="362" width="1" height="39" fill="#000"/>
<rect x="450" y="378" width="5" height="19" fill="#000"/>
<rect x="460" y="356" width="1" height="45" fill="#000"/>
<rect x="458" y="366" width="5" height="29" fill="#000"/>
<rect x="459" y="367" width="3" height="27" fill="#fff"/>
<rect x="468" y="362" width="1" height="31" fill="#000"/>
<rect x="466" y="367" width="5" height="24" fill="#000"/>
<rect x="476" y="371" width="1" height="22" fill="#000"/>
<rect x="474" y="377" width="5" height="11" fill="#000"/>
<rect x="475" y="378" width="3" height="9" fill="#fff"/>
<rect x="484" y="347" width="1" height="53" fill="#000"/>
<rect x="482" y="364" width="5" height="19" fill="#000"/>
<rect x="483" y="365" width="3" height="17" fill="#fff"/>
<rect x="492" y="322" width="1" height="45" fill="#000"/>
<rect x="490" y="329" width="5" height="36" fill="#000"/>
<rect x="491" y="330" width="3" height="34" fill="#fff"/>
<rect x="500" y="320" width="1" height="42" fill="#000"/>
<rect x="498" y="328" width="5" height="24" fill="#000"/>
<rect x="508" y="323" width="1" height="31" fill="#000"/>
<rect x="506" y="328" width="5" height="24" fill="#000"/>
<rect x="507" y="329" width="3" height="22" fill="#fff"/>
<rect x="516" y="319" width="1" height="14" fill="#000"/>
<rect x="514" y="324" width="5" height="4" fill="#000"/>
<rect x="515" y="325" width="3" height="2" fill="#fff"/>
<rect x="524" y="315" width="1" height="16" fill="#000"/>
<rect x="522" y="323" width="5" height="7" fill="#000"/>
<rect x="532" y="285" width="1" height="58" fill="#000"/>
<rect x="530" y="325" width="5" height="2" fill="#000"/>
<rect x="540" y="307" width="1" height="25" fill="#000"/>
<rect x="538" y="322" width="5" height="4" fill="#000"/>
<rect x="539" y="323" width="3" height="2" fill="#fff"/>
<rect x="548" y="318" width="1" height="45" fill="#000"/>
<rect x="546" y="322" width="5" height="31" fill="#000"/>
<rect x="556" y="349" width="1" height="67" fill="#000"/>
<rect x="554" y="352" width="5" height="61" fill="#000"/>
<rect x="564" y="406" width="1" height="30" fill="#000"/>
<rect x="562" y="412" width="5" height="20" fill="#000"/>
<rect x="572" y="435" width="1" height="17" fill="#000"/>
<rect x="570" y="441" width="5" height="10" fill="#000"/>
<rect x="580" y="402" width="1" height="54" fill="#000"/>
<rect x="578" y="404" width="5" height="52" fill="#000"/>
<rect x="579" y="405" width="3" height="50" fill="#fff"/>
<rect x="588" y="395" width="1" height="68" fill="#000"/>
<rect x="586" y="405" width="5" height="38" fill="#000"/>
<rect x="596" y="405" width="1" height="52" fill="#000"/>
<rect x="594" y="412" width="5" height="30" fill="#000"/>
<rect x="595" y="413" width="3" height="28" fill="#fff"/>
<rect x="604" y="377" width="1" height="46" fill="#000"/>
<rect x="602" y="383" width="5" height="31" fill="#000"/>
<rect x="603" y="384" width="3" height="29" fill="#fff"/>
<rect x="612" y="376" width="1" height="40" fill="#000"/>
<rect x="610" y="383" width="5" height="30" fill="#000"/>
<rect x="620" y="386" width="1" height="24" fill="#000"/>
<rect x="618" y="394" width="5" height="16" fill="#000"/>
<rect x="619" y="395" width="3" height="14" fill="#fff"/>
<rect x="628" y="342" width="1" height="60" fill="#000"/>
<rect x="626" y="354" width="5" height="42" fill="#000"/>
<rect x="627" y="355" width="3" height="40" fill="#fff"/>
<rect x="636" y="307" width="1" height="50" fill="#000"/>
<rect x="634" y="317" width="5" height="39" fill="#000"/>
<rect x="635" y="318" width="3" height="37" fill="#fff"/>
<rect x="644" y="307" width="1" height="45" fill="#000"/>
<rect x="642" y="316" width="5" height="36" fill="#000"/>
<rect x="652" y="347" width="1" height="66" fill="#000"/>
<rect x="650" y="349" width="5" height="32" fill="#000"/>
<rect x="660" y="343" width="1" height="52" fill="#000"/>
<rect x="658" y="348" width="5" height="35" fill="#000"/>
<rect x="659" y="349" width="3" height="33" fill="#fff"/>
<rect x="668" y="292" width="1" height="22" fill="#000"/>
<rect x="666" y="295" width="5" height="16" fill="#000"/>
<rect x="667" y="296" width="3" height="14" fill="#fff"/>
<rect x="676" y="288" width="1" height="40" fill="#000"/>
<rect x="674" y="297" width="5" height="17" fill="#000"/>
<rect x="684" y="281" width="1" height="42" fill="#000"/>
<rect x="682" y="298" width="5" height="15" fill="#000"/>
<rect x="683" y="299" width="3" height="13" fill="#fff"/>
<rect x="692" y="291" width="1" height="30" fill="#000"/>
<rect x="690" y="297" width="5" height="6" fill="#000"/>
<rect x="700" y="269" width="1" height="35" fill="#000"/>
<rect x="698" y="282" width="5" height="21" fill="#000"/>
<rect x="699" y="283" width="3" height="19" fill="#fff"/>
<rect x="708" y="274" width="1" height="22" fill="#000"/>
<rect x="706" y="276" width="5" height="7" fill="#000"/>
<rect x="707" y="277" width="3" height="5" fill="#fff"/>
<rect x="716" y="285" width="1" height="21" fill="#000"/>
<rect x="714" y="294" width="5" height="9" fill="#000"/>
<rect x="715" y="295" width="3" height="7" fill="#fff"/>
<rect x="724" y="295" width="1" height="37" fill="#000"/>
<rect x="722" y="296" width="5" height="26" fill="#000"/>
<rect x="732" y="319" width="1" height="39" fill="#000"/>
<rect x="730" y="321" width="5" height="16" fill="#000"/>
<rect x="740" y="324" width="1" height="61" fill="#000"/>
<rect x="738" y="336" width="5" height="46" fill="#000"/>
<rect x="748" y="345" width="1" height="40" fill="#000"/>
<rect x="746" y="374" width="5" height="8" fill="#000"/>
<rect x="747" y="375" width="3" height="6" fill="#fff"/>
<rect x="756" y="341" width="1" height="37" fill="#000"/>
<rect x="754" y="353" width="5" height="21" fill="#000"/>
<rect x="755" y="354" width="3" height="19" fill="#fff"/>
<rect x="764" y="329" width="1" height="17" fill="#000"/>
<rect x="762" y="335" width="5" height="8" fill="#000"/>
<rect x="772" y="332" width="1" height="41" fill="#000"/>
<rect x="770" y="336" width="5" height="12" fill="#000"/>
<rect x="771" y="337" width="3" height="10" fill="#fff"/>
<rect x="780" y="336" width="1" height="44" fill="#000"/>
<rect x="778" y="336" width="5" height="37" fill="#000"/>
<rect x="788" y="338" width="1" height="51" fill="#000"/>
<rect x="786" y="349" width="5" height="24" fill="#000"/>
<rect x="787" y="350" width="3" height="22" fill="#fff"/>
<rect x="796" y="326" width="1" height="36" fill="#000"/>
<rect x="794" y="327" width="5" height="24" fill="#000"/>
<rect x="795" y="328" width="3" height="22" fill="#fff"/>
<rect x="804" y="317" width="1" height="30" fill="#000"/>
<rect x="802" y="326" width="5" height="16" fill="#000"/>
<rect x="812" y="327" width="1" height="28" fill="#000"/>
<rect x="810" y="330" width="5" height="25" fill="#000"/>
<rect x="820" y="313" width="1" height="54" fill="#000"/>
<rect x="818" y="346" width="5" height="6" fill="#000"/>
<rect x="819" y="347" width="3" height="4" fill="#fff"/>
<rect x="828" y="344" width="1" height="27" fill="#000"/>
<rect x="826" y="346" width="5" height="15" fill="#000"/>
<rect x="836" y="311" width="1" height="51" fill="#000"/>
<rect x="834" y="314" width="5" height="47" fill="#000"/>
<rect x="835" y="315" width="3" height="45" fill="#fff"/>
<rect x="844" y="291" width="1" height="25" fill="#000"/>
<rect x="842" y="302" width="5" height="13" fill="#000"/>
<rect x="843" y="303" width="3" height="11" fill="#fff"/>
<rect x="852" y="295" width="1" height="18" fill="#000"/>
<rect x="850" y="301" width="5" height="9" fill="#000"/>
<rect x="860" y="292" width="1" height="15" fill="#000"/>
<rect x="858" y="294" width="5" height="13" fill="#000"/>
<rect x="859" y="295" width="3" height="11" fill="#fff"/>
<rect x="868" y="293" width="1" height="53" fill="#000"/>
<rect x="866" y="293" width="5" height="50" fill="#000"/>
<rect x="876" y="306" width="1" height="37" fill="#000"/>
<rect x="874" y="310" width="5" height="32" fill="#000"/>
<rect x="875" y="311" width="3" height="30" fill="#fff"/>
<rect x="884" y="285" width="1" height="31" fill="#000"/>
<rect x="882" y="285" width="5" height="25" fill="#000"/>
<rect x="883" y="286" width="3" height="23" fill="#fff"/>
<rect x="892" y="277" width="1" height="17" fill="#000"/>
<rect x="890" y="279" width="5" height="6" fill="#000"/>
<rect x="891" y="280" width="3" height="4" fill="#fff"/>
<rect x="900" y="266" width="1" height="13" fill="#000"/>
<rect x="898" y="269" width="5" height="9" fill="#000"/>
<rect x="899" y="270" width="3" height="7" fill="#fff"/>
<rect x="908" y="251" width="1" height="21" fill="#000"/>
<rect x="906" y="264" width="5" height="7" fill="#000"/>
<rect x="916" y="234" width="1" height="52" fill="#000"/>
<rect x="914" y="236" width="5" height="34" fill="#000"/>
<rect x="915" y="237" width="3" height="32" fill="#fff"/>
<rect x="924" y="220" width="1" height="19" fill="#000"/>
<rect x="922" y="231" width="5" height="7" fill="#000"/>
<rect x="923" y="232" width="3" height="5" fill="#fff"/>
<rect x="932" y="226" width="1" height="13" fill="#000"/>
<rect x="930" y="227" width="5" height="6" fill="#000"/>
<rect x="931" y="228" width="3" height="4" fill="#fff"/>
<rect x="940" y="226" width="1" height="12" fill="#000"/>
<rect x="938" y="227" width="5" height="6" fill="#000"/>
<rect x="948" y="231" width="1" height="3" fill="#000"/>
<rect x="946" y="231" width="5" height="2" fill="#000"/>
<rect x="956" y="228" width="1" height="18" fill="#000"/>
<rect x="954" y="232" width="5" height="8" fill="#000"/>
<rect x="955" y="233" width="3" height="6" fill="#fff"/>
<rect x="964" y="210" width="1" height="41" fill="#000"/>
<rect x="962" y="229" width="5" height="10" fill="#000"/>
<rect x="963" y="230" width="3" height="8" fill="#fff"/>
<rect x="972" y="228" width="1" height="35" fill="#000"/>
<rect x="970" y="229" width="5" height="22" fill="#000"/>
<rect x="980" y="245" width="1" height="26" fill="#000"/>
<rect x="978" y="250" width="5" height="3" fill="#000"/>
<rect x="988" y="238" width="1" height="33" fill="#000"/>
<rect x="986" y="250" width="5" height="15" fill="#000"/>
<rect x="996" y="249" width="1" height="19" fill="#000"/>
<rect x="994" y="259" width="5" height="5" fill="#000"/>
<rect x="995" y="260" width="3" height="3" fill="#fff"/>
<rect x="1004" y="235" width="1" height="22" fill="#000"/>
<rect x="1002" y="243" width="5" height="11" fill="#000"/>
<rect x="1003" y="244" width="3" height="9" fill="#fff"/>
<rect x="1012" y="207" width="1" height="35" fill="#000"/>
<rect x="1010" y="214" width="5" height="27" fill="#000"/>
<rect x="1011" y="215" width="3" height="25" fill="#fff"/>
<rect x="1020" y="189" width="1" height="35" fill="#000"/>
<rect x="1018" y="212" width="5" height="3" fill="#000"/>
<rect x="1019" y="213" width="3" height="1" fill="#fff"/>
<rect x="1028" y="184" width="1" height="37" fill="#000"/>
<rect x="1026" y="210" width="5" height="4" fill="#000"/>
<rect x="1027" y="211" width="3" height="2" fill="#fff"/>
<rect x="1036" y="192" width="1" height="51" fill="#000"/>
<rect x="1034" y="201" width="5" height="10" fill="#000"/>
<rect x="1035" y="202" width="3" height="8" fill="#fff"/>
<rect x="1044" y="192" width="1" height="27" fill="#000"/>
<rect x="1042" y="200" width="5" height="12" fill="#000"/>
<rect x="1052" y="212" width="1" height="19" fill="#000"/>
<rect x="1050" y="214" width="5" height="13" fill="#000"/>
<rect x="1060" y="214" width="1" height="37" fill="#000"/>
<rect x="1058" y="216" width="5" height="12" fill="#000"/>
<rect x="1059" y="217" width="3" height="10" fill="#fff"/>
<rect x="1068" y="194" width="1" height="35" fill="#000"/>
<rect x="1066" y="195" width="5" height="21" fill="#000"/>
<rect x="1067" y="196" width="3" height="19" fill="#fff"/>
<rect x="1076" y="194" width="1" height="27" fill="#000"/>
<rect x="1074" y="195" width="5" height="12" fill="#000"/>
<rect x="1084" y="163" width="1" height="46" fill="#000"/>
<rect x="1082" y="166" width="5" height="41" fill="#000"/>
<rect x="1083" y="167" width="3" height="39" fill="#fff"/>
<rect x="1092" y="152" width="1" height="21" fill="#000"/>
<rect x="1090" y="155" width="5" height="12" fill="#000"/>
<rect x="1091" y="156" width="3" height="10" fill="#fff"/>
<rect x="1100" y="155" width="1" height="16" fill="#000"/>
<rect x="1098" y="156" width="5" height="1" fill="#000"/>
<rect x="1108" y="152" width="1" height="32" fill="#000"/>
<rect x="1106" y="165" width="5" height="1" fill="#000"/>
<rect x="1116" y="148" width="1" height="28" fill="#000"/>
<rect x="1114" y="164" width="5" height="12" fill="#000"/>
<rect x="1124" y="163" width="1" height="35" fill="#000"/>
<rect x="1122" y="174" width="5" height="18" fill="#000"/>
<rect x="1132" y="175" width="1" height="26" fill="#000"/>
<rect x="1130" y="187" width="5" height="4" fill="#000"/>
<rect x="1131" y="188" width="3" height="2" fill="#fff"/>
<rect x="1140" y="184" width="1" height="13" fill="#000"/>
<rect x="1138" y="186" width="5" height="5" fill="#000"/>
<rect x="1148" y="180" width="1" height="15" fill="#000"/>
<rect x="1146" y="189" width="5" height="6" fill="#000"/>
<rect x="1156" y="119" width="1" height="84" fill="#000"/>
<rect x="1154" y="125" width="5" height="70" fill="#000"/>
<rect x="1155" y="126" width="3" height="68" fill="#fff"/>
<rect x="1164" y="103" width="1" height="31" fill="#000"/>
<rect x="1162" y="113" width="5" height="13" fill="#000"/>
<rect x="1163" y="114" width="3" height="11" fill="#fff"/>
<rect x="1172" y="91" width="1" height="24" fill="#000"/>
<rect x="1170" y="98" width="5" height="16" fill="#000"/>
<rect x="1171" y="99" width="3" height="14" fill="#fff"/>
<rect x="1180" y="94" width="1" height="38" fill="#000"/>
<rect x="1178" y="97" width="5" height="18" fill="#000"/>
<rect x="1188" y="105" width="1" height="15" fill="#000"/>
<rect x="1186" y="109" width="5" height="6" fill="#000"/>
<rect x="1187" y="110" width="3" height="4" fill="#fff"/>
<rect x="1196" y="107" width="1" height="13" fill="#000"/>
<rect x="1194" y="108" width="5" height="10" fill="#000"/>
<rect x="1204" y="94" width="1" height="45" fill="#000"/>
<rect x="1202" y="100" width="5" height="23" fill="#000"/>
<rect x="1203" y="101" width="3" height="21" fill="#fff"/>
<rect x="1212" y="97" width="1" height="32" fill="#000"/>
<rect x="1210" y="100" width="5" height="10" fill="#000"/>
<rect x="1220" y="122" width="1" height="24" fill="#000"/>
<rect x="1218" y="127" width="5" height="15" fill="#000"/>
<rect x="1228" y="97" width="1" height="47" fill="#000"/>
<rect x="1226" y="99" width="5" height="41" fill="#000"/>
<rect x="1227" y="100" width="3" height="39" fill="#fff"/>
<rect x="1236" y="83" width="1" height="20" fill="#000"/>
<rect x="1234" y="89" width="5" height="12" fill="#000"/>
<rect x="1235" y="90" width="3" height="10" fill="#fff"/>
<rect x="1244" y="90" width="1" height="18" fill="#000"/>
<rect x="1242" y="92" width="5" height="7" fill="#000"/>
<rect x="1252" y="80" width="1" height="29" fill="#000"/>
<rect x="1250" y="87" width="5" height="13" fill="#000"/>
<rect x="1251" y="88" width="3" height="11" fill="#fff"/>
<rect x="1260" y="79" width="1" height="17" fill="#000"/>
<rect x="1258" y="83" width="5" height="4" fill="#000"/>
<rect x="1259" y="84" width="3" height="2" fill="#fff"/>
<rect x="1268" y="71" width="1" height="22" fill="#000"/>
<rect x="1266" y="83" width="5" height="3" fill="#000"/>
<rect x="1276" y="73" width="1" height="32" fill="#000"/>
<rect x="1274" y="85" width="5" height="13" fill="#000"/>
<rect x="1284" y="90" width="1" height="15" fill="#000"/>
<rect x="1282" y="95" width="5" height="4" fill="#000"/>
<rect x="1292" y="76" width="1" height="19" fill="#000"/>
<rect x="1290" y="84" width="5" height="11" fill="#000"/>
<rect x="1291" y="85" width="3" height="9" fill="#fff"/>
<rect x="1300" y="61" width="1" height="26" fill="#000"/>
<rect x="1298" y="68" width="5" height="17" fill="#000"/>
<rect x="1299" y="69" width="3" height="15" fill="#fff"/>
<rect x="1308" y="50" width="1" height="34" fill="#000"/>
<rect x="1306" y="59" width="5" height="10" fill="#000"/>
<rect x="1307" y="60" width="3" height="8" fill="#fff"/>
<rect x="1316" y="50" width="1" height="43" fill="#000"/>
<rect x="1314" y="58" width="5" height="29" fill="#000"/>
<rect x="1324" y="78" width="1" height="25" fill="#000"/>
<rect x="1322" y="86" width="5" height="14" fill="#000"/>
<rect x="1332" y="97" width="1" height="35" fill="#000"/>
<rect x="1330" y="99" width="5" height="25" fill="#000"/>
<rect x="1340" y="103" width="1" height="17" fill="#000"/>
<rect x="1338" y="111" width="5" height="9" fill="#000"/>
<rect x="1348" y="114" width="1" height="47" fill="#000"/>
<rect x="1346" y="115" width="5" height="33" fill="#000"/>
<rect x="1356" y="140" width="1" height="40" fill="#000"/>
<rect x="1354" y="148" width="5" height="22" fill="#000"/>
<rect x="1364" y="154" width="1" height="85" fill="#000"/>
<rect x="1362" y="169" width="5" height="59" fill="#000"/>
<rect x="1372" y="226" width="1" height="25" fill="#000"/>
<rect x="1370" y="226" width="5" height="5" fill="#000"/>
<rect x="1380" y="218" width="1" height="19" fill="#000"/>
<rect x="1378" y="230" width="5" height="1" fill="#000"/>
</g>
<g shape-rendering="crispEdges">
<rect x="4" y="649" width="1" height="6" fill="#c0c0c0"/>
<rect x="12" y="650" width="1" height="5" fill="#c0c0c0"/>
<rect x="20" y="649" width="1" height="6" fill="#c0c0c0"/>
<rect x="28" y="644" width="1" height="11" fill="#c0c0c0"/>
<rect x="36" y="640" width="1" height="15" fill="#c0c0c0"/>
<rect x="44" y="637" width="1" height="18" fill="#c0c0c0"/>
<rect x="52" y="634" width="1" height="21" fill="#c0c0c0"/>
<rect x="60" y="633" width="1" height="22" fill="#c0c0c0"/>
<rect x="68" y="637" width="1" height="18" fill="#c0c0c0"/>
<rect x="76" y="634" width="1" height="21" fill="#c0c0c0"/>
<rect x="84" y="623" width="1" height="32" fill="#c0c0c0"/>
<rect x="92" y="615" width="1" height="40" fill="#c0c0c0"/>
<rect x="100" y="610" width="1" height="45" fill="#c0c0c0"/>
<rect x="108" y="607" width="1" height="48" fill="#c0c0c0"/>
<rect x="116" y="619" width="1" height="36" fill="#c0c0c0"/>
<rect x="124" y="634" width="1" height="21" fill="#c0c0c0"/>
<rect x="132" y="644" width="1" height="11" fill="#c0c0c0"/>
<rect x="140" y="652" width="1" height="3" fill="#c0c0c0"/>
<rect x="148" y="651" width="1" height="4" fill="#c0c0c0"/>
<rect x="156" y="652" width="1" height="3" fill="#c0c0c0"/>
<rect x="172" y="654" width="1" height="4" fill="#c0c0c0"/>
<rect x="180" y="654" width="1" height="7" fill="#c0c0c0"/>
<rect x="188" y="654" width="1" height="13" fill="#c0c0c0"/>
<rect x="196" y="654" width="1" height="26" fill="#c0c0c0"/>
<rect x="204" y="654" width="1" height="41" fill="#c0c0c0"/>
<rect x="212" y="654" width="1" height="55" fill="#c0c0c0"/>
<rect x="220" y="654" width="1" height="68" fill="#c0c0c0"/>
<rect x="228" y="654" width="1" height="77" fill="#c0c0c0"/>
<rect x="236" y="654" width="1" height="82" fill="#c0c0c0"/>
<rect x="244" y="654" width="1" height="86" fill="#c0c0c0"/>
<rect x="252" y="654" width="1" height="84" fill="#c0c0c0"/>
<rect x="260" y="654" width="1" height="84" fill="#c0c0c0"/>
<rect x="268" y="654" width="1" height="82" fill="#c0c0c0"/>
<rect x="276" y="654" width="1" height="81" fill="#c0c0c0"/>
<rect x="284" y="654" width="1" height="81" fill="#c0c0c0"/>
<rect x="292" y="654" width="1" height="74" fill="#c0c0c0"/>
<rect x="300" y="654" width="1" height="66" fill="#c0c0c0"/>
<rect x="308" y="654" width="1" height="60" fill="#c0c0c0"/>
<rect x="316" y="654" width="1" height="63" fill="#c0c0c0"/>
<rect x="324" y="654" width="1" height="67" fill="#c0c0c0"/>
<rect x="332" y="654" width="1" height="69" fill="#c0c0c0"/>
<rect x="340" y="654" width="1" height="69" fill="#c0c0c0"/>
<rect x="348" y="654" width="1" height="76" fill="#c0c0c0"/>
<rect x="356" y="654" width="1" height="77" fill="#c0c0c0"/>
<rect x="364" y="654" width="1" height="83" fill="#c0c0c0"/>
<rect x="372" y="654" width="1" height="82" fill="#c0c0c0"/>
<rect x="380" y="654" width="1" height="73" fill="#c0c0c0"/>
<rect x="388" y="654" width="1" height="55" fill="#c0c0c0"/>
<rect x="396" y="654" width="1" height="38" fill="#c0c0c0"/>
<rect x="404" y="654" width="1" height="19" fill="#c0c0c0"/>
<rect x="412" y="654" width="1" height="5" fill="#c0c0c0"/>
<rect x="420" y="646" width="1" height="9" fill="#c0c0c0"/>
<rect x="428" y="632" width="1" height="23" fill="#c0c0c0"/>
<rect x="436" y="628" width="1" height="27" fill="#c0c0c0"/>
<rect x="444" y="626" width="1" height="29" fill="#c0c0c0"/>
<rect x="452" y="627" width="1" height="28" fill="#c0c0c0"/>
<rect x="460" y="623" width="1" height="32" fill="#c0c0c0"/>
<rect x="468" y="625" width="1" height="30" fill="#c0c0c0"/>
<rect x="476" y="624" width="1" height="31" fill="#c0c0c0"/>
<rect x="484" y="622" width="1" height="33" fill="#c0c0c0"/>
<rect x="492" y="615" width="1" height="40" fill="#c0c0c0"/>
<rect x="500" y="614" width="1" height="41" fill="#c0c0c0"/>
<rect x="508" y="609" width="1" height="46" fill="#c0c0c0"/>
<rect x="516" y="606" width="1" height="49" fill="#c0c0c0"/>
<rect x="524" y="605" width="1" height="50" fill="#c0c0c0"/>
<rect x="532" y="603" width="1" height="52" fill="#c0c0c0"/>
<rect x="540" y="603" width="1" height="52" fill="#c0c0c0"/>
<rect x="548" y="608" width="1" height="47" fill="#c0c0c0"/>
<rect x="556" y="621" width="1" height="34" fill="#c0c0c0"/>
<rect x="564" y="635" width="1" height="20" fill="#c0c0c0"/>
<rect x="572" y="649" width="1" height="6" fill="#c0c0c0"/>
<rect x="580" y="652" width="1" height="3" fill="#c0c0c0"/>
<rect x="588" y="654" width="1" height="7" fill="#c0c0c0"/>
<rect x="596" y="654" width="1" height="10" fill="#c0c0c0"/>
<rect x="604" y="654" width="1" height="7" fill="#c0c0c0"/>
<rect x="612" y="654" width="1" height="9" fill="#c0c0c0"/>
<rect x="620" y="654" width="1" height="8" fill="#c0c0c0"/>
<rect x="628" y="653" width="1" height="2" fill="#c0c0c0"/>
<rect x="636" y="644" width="1" height="11" fill="#c0c0c0"/>
<rect x="644" y="640" width="1" height="15" fill="#c0c0c0"/>
<rect x="652" y="642" width="1" height="13" fill="#c0c0c0"/>
<rect x="660" y="639" width="1" height="16" fill="#c0c0c0"/>
<rect x="668" y="628" width="1" height="27" fill="#c0c0c0"/>
<rect x="676" y="623" width="1" height="32" fill="#c0c0c0"/>
<rect x="684" y="617" width="1" height="38" fill="#c0c0c0"/>
<rect x="692" y="613" width="1" height="42" fill="#c0c0c0"/>
<rect x="700" y="607" width="1" height="48" fill="#c0c0c0"/>
<rect x="708" y="603" width="1" height="52" fill="#c0c0c0"/>
<rect x="716" y="602" width="1" height="53" fill="#c0c0c0"/>
<rect x="724" y="607" width="1" height="48" fill="#c0c0c0"/>
<rect x="732" y="613" width="1" height="42" fill="#c0c0c0"/>
<rect x="740" y="626" width="1" height="29" fill="#c0c0c0"/>
<rect x="748" y="635" width="1" height="20" fill="#c0c0c0"/>
<rect x="756" y="639" width="1" height="16" fill="#c0c0c0"/>
<rect x="764" y="641" width="1" height="14" fill="#c0c0c0"/>
<rect x="772" y="641" width="1" height="14" fill="#c0c0c0"/>
<rect x="780" y="647" width="1" height="8" fill="#c0c0c0"/>
<rect x="788" y="649" width="1" height="6" fill="#c0c0c0"/>
<rect x="796" y="646" width="1" height="9" fill="#c0c0c0"/>
<rect x="804" y="647" width="1" height="8" fill="#c0c0c0"/>
<rect x="812" y="649" width="1" height="6" fill="#c0c0c0"/>
<rect x="820" y="650" width="1" height="5" fill="#c0c0c0"/>
<rect x="828" y="653" width="1" height="2" fill="#c0c0c0"/>
<rect x="836" y="647" width="1" height="8" fill="#c0c0c0"/>
<rect x="844" y="642" width="1" height="13" fill="#c0c0c0"/>
<rect x="852" y="639" width="1" height="16" fill="#c0c0c0"/>
<rect x="860" y="634" width="1" height="21" fill="#c0c0c0"/>
<rect x="868" y="638" width="1" height="17" fill="#c0c0c0"/>
<rect x="876" y="637" width="1" height="18" fill="#c0c0c0"/>
<rect x="884" y="632" width="1" height="23" fill="#c0c0c0"/>
<rect x="892" y="627" width="1" height="28" fill="#c0c0c0"/>
<rect x="900" y="622" width="1" height="33" fill="#c0c0c0"/>
<rect x="908" y="619" width="1" height="36" fill="#c0c0c0"/>
<rect x="916" y="611" width="1" height="44" fill="#c0c0c0"/>
<rect x="924" y="605" width="1" height="50" fill="#c0c0c0"/>
<rect x="932" y="600" width="1" height="55" fill="#c0c0c0"/>
<rect x="940" y="598" width="1" height="57" fill="#c0c0c0"/>
<rect x="948" y="597" width="1" height="58" fill="#c0c0c0"/>
<rect x="956" y="597" width="1" height="58" fill="#c0c0c0"/>
<rect x="964" y="596" width="1" height="59" fill="#c0c0c0"/>
<rect x="972" y="600" width="1" height="55" fill="#c0c0c0"/>
<rect x="980" y="604" width="1" height="51" fill="#c0c0c0"/>
<rect x="988" y="610" width="1" height="45" fill="#c0c0c0"/>
<rect x="996" y="614" width="1" height="41" fill="#c0c0c0"/>
<rect x="1004" y="615" width="1" height="40" fill="#c0c0c0"/>
<rect x="1012" y="612" width="1" height="43" fill="#c0c0c0"/>
<rect x="1020" y="610" width="1" height="45" fill="#c0c0c0"/>
<rect x="1028" y="608" width="1" height="47" fill="#c0c0c0"/>
<rect x="1036" y="606" width="1" height="49" fill="#c0c0c0"/>
<rect x="1044" y="607" width="1" height="48" fill="#c0c0c0"/>
<rect x="1052" y="610" width="1" height="45" fill="#c0c0c0"/>
<rect x="1060" y="611" width="1" height="44" fill="#c0c0c0"/>
<rect x="1068" y="610" width="1" height="45" fill="#c0c0c0"/>
<rect x="1076" y="611" width="1" height="44" fill="#c0c0c0"/>
<rect x="1084" y="606" width="1" height="49" fill="#c0c0c0"/>
<rect x="1092" y="600" width="1" height="55" fill="#c0c0c0"/>
<rect x="1100" y="597" width="1" height="58" fill="#c0c0c0"/>
<rect x="1108" y="597" width="1" height="58" fill="#c0c0c0"/>
<rect x="1116" y="599" width="1" height="56" fill="#c0c0c0"/>
<rect x="1124" y="603" width="1" height="52" fill="#c0c0c0"/>
<rect x="1132" y="607" width="1" height="48" fill="#c0c0c0"/>
<rect x="1140" y="611" width="1" height="44" fill="#c0c0c0"/>
<rect x="1148" y="615" width="1" height="40" fill="#c0c0c0"/>
<rect x="1156" y="608" width="1" height="47" fill="#c0c0c0"/>
<rect x="1164" y="601" width="1" height="54" fill="#c0c0c0"/>
<rect x="1172" y="593" width="1" height="62" fill="#c0c0c0"/>
<rect x="1180" y="591" width="1" height="64" fill="#c0c0c0"/>
<rect x="1188" y="589" width="1" height="66" fill="#c0c0c0"/>
<rect x="1196" y="590" width="1" height="65" fill="#c0c0c0"/>
<rect x="1204" y="588" width="1" height="67" fill="#c0c0c0"/>
<rect x="1212" y="589" width="1" height="66" fill="#c0c0c0"/>
<rect x="1220" y="596" width="1" height="59" fill="#c0c0c0"/>
<rect x="1228" y="595" width="1" height="60" fill="#c0c0c0"/>
<rect x="1236" y="593" width="1" height="62" fill="#c0c0c0"/>
<rect x="1244" y="594" width="1" height="61" fill="#c0c0c0"/>
<rect x="1252" y="593" width="1" height="62" fill="#c0c0c0"/>
<rect x="1260" y="594" width="1" height="61" fill="#c0c0c0"/>
<rect x="1268" y="594" width="1" height="61" fill="#c0c0c0"/>
<rect x="1276" y="598" width="1" height="57" fill="#c0c0c0"/>
<rect x="1284" y="601" width="1" height="54" fill="#c0c0c0"/>
<rect x="1292" y="602" width="1" height="53" fill="#c0c0c0"/>
<rect x="1300" y="601" width="1" height="54" fill="#c0c0c0"/>
<rect x="1308" y="599" width="1" height="56" fill="#c0c0c0"/>
<rect x="1316" y="603" width="1" height="52" fill="#c0c0c0"/>
<rect x="1324" y="613" width="1" height="42" fill="#c0c0c0"/>
<rect x="1332" y="617" width="1" height="38" fill="#c0c0c0"/>
<rect x="1340" y="623" width="1" height="32" fill="#c0c0c0"/>
<rect x="1348" y="633" width="1" height="22" fill="#c0c0c0"/>
<rect x="1356" y="644" width="1" height="11" fill="#c0c0c0"/>
<rect x="1364" y="654" width="1" height="9" fill="#c0c0c0"/>
<rect x="1372" y="654" width="1" height="21" fill="#c0c0c0"/>
<rect x="1380" y="654" width="1" height="33" fill="#c0c0c0"/>
</g>
<path d="M1228 591h3v1h-3zM1234 591h3v1h-3zM1240 591h3v1h-3zM1246 591h3v1h-3zM1252 591h3v1h-3zM1223 592h2v1h-2zM1258 592h3v1h-3zM1264 592h3v1h-3zM1270 592h3v1h-3zM1222 593h1v1h-1zM1276 593h1v1h-1zM1216 594h3v1h-3zM1277 594h2v1h-2zM1282 594h1v1h-1zM1212 595h1v1h-1zM1283 595h2v1h-2zM1288 595h3v1h-3zM1210 596h2v1h-2zM1294 596h3v1h-3zM1205 597h2v1h-2zM1300 597h3v1h-3zM1306 597h3v1h-3zM1204 598h1v1h-1zM1312 598h3v1h-3zM1198 599h3v1h-3zM1318 599h3v1h-3zM988 600h3v1h-3zM1193 600h2v1h-2zM1324 600h3v1h-3zM976 601h3v1h-3zM982 601h3v1h-3zM994 601h2v1h-2zM1186 601h3v1h-3zM1192 601h1v1h-1zM970 602h3v1h-3zM996 602h1v1h-1zM1133 602h1v1h-1zM1180 602h3v1h-3zM1330 602h2v1h-2zM966 603h1v1h-1zM1000 603h3v1h-3zM1120 603h3v1h-3zM1126 603h3v1h-3zM1132 603h1v1h-1zM1134 603h1v1h-1zM1138 603h3v1h-3zM1144 603h3v1h-3zM1150 603h3v1h-3zM1156 603h3v1h-3zM1162 603h3v1h-3zM1168 603h3v1h-3zM1174 603h3v1h-3zM1332 603h1v1h-1zM964 604h2v1h-2zM1006 604h3v1h-3zM1012 604h2v1h-2zM1109 604h2v1h-2zM1114 604h3v1h-3zM1014 605h1v1h-1zM1018 605h2v1h-2zM1102 605h3v1h-3zM1108 605h1v1h-1zM1336 605h3v1h-3zM960 606h1v1h-1zM1020 606h1v1h-1zM1024 606h1v1h-1zM1096 606h3v1h-3zM958 607h2v1h-2zM1025 607h2v1h-2zM1030 607h2v1h-2zM1090 607h3v1h-3zM1342 607h2v1h-2zM552 608h3v1h-3zM1032 608h1v1h-1zM1036 608h3v1h-3zM1078 608h3v1h-3zM1084 608h3v1h-3zM1344 608h1v1h-1zM546 609h3v1h-3zM558 609h1v1h-1zM953 609h2v1h-2zM1042 609h3v1h-3zM1048 609h3v1h-3zM1054 609h2v1h-2zM1072 609h3v1h-3zM540 610h3v1h-3zM559 610h2v1h-2zM952 610h1v1h-1zM1056 610h1v1h-1zM1060 610h3v1h-3zM1066 610h3v1h-3zM1348 610h2v1h-2zM1350 611h1v1h-1zM534 612h3v1h-3zM564 612h3v1h-3zM732 612h1v1h-1zM736 612h3v1h-3zM742 612h3v1h-3zM948 612h1v1h-1zM530 613h1v1h-1zM730 613h2v1h-2zM748 613h2v1h-2zM946 613h2v1h-2zM1354 613h1v1h-1zM528 614h2v1h-2zM570 614h3v1h-3zM724 614h3v1h-3zM750 614h1v1h-1zM754 614h1v1h-1zM1355 614h1v1h-1zM523 615h2v1h-2zM755 615h2v1h-2zM941 615h2v1h-2zM1356 615h1v1h-1zM522 616h1v1h-1zM576 616h1v1h-1zM940 616h1v1h-1zM516 617h3v1h-3zM577 617h1v1h-1zM719 617h2v1h-2zM760 617h2v1h-2zM1360 617h1v1h-1zM512 618h1v1h-1zM578 618h1v1h-1zM718 618h1v1h-1zM762 618h1v1h-1zM936 618h1v1h-1zM1360 618h1v1h-1zM510 619h2v1h-2zM766 619h2v1h-2zM934 619h2v1h-2zM1361 619h1v1h-1zM505 620h2v1h-2zM714 620h1v1h-1zM768 620h1v1h-1zM504 621h1v1h-1zM582 621h2v1h-2zM712 621h2v1h-2zM930 621h1v1h-1zM500 622h1v1h-1zM584 622h1v1h-1zM772 622h2v1h-2zM928 622h2v1h-2zM116 623h1v1h-1zM120 623h3v1h-3zM126 623h3v1h-3zM498 623h2v1h-2zM708 623h1v1h-1zM774 623h1v1h-1zM1365 623h1v1h-1zM108 624h3v1h-3zM114 624h2v1h-2zM132 624h2v1h-2zM493 624h2v1h-2zM706 624h2v1h-2zM923 624h2v1h-2zM1366 624h1v1h-1zM134 625h1v1h-1zM138 625h1v1h-1zM492 625h1v1h-1zM588 625h1v1h-1zM922 625h1v1h-1zM1367 625h1v1h-1zM104 626h1v1h-1zM139 626h2v1h-2zM487 626h2v1h-2zM589 626h1v1h-1zM702 626h1v1h-1zM778 626h1v1h-1zM102 627h2v1h-2zM144 627h3v1h-3zM486 627h1v1h-1zM590 627h1v1h-1zM700 627h2v1h-2zM779 627h2v1h-2zM918 627h1v1h-1zM482 628h1v1h-1zM916 628h2v1h-2zM98 629h1v1h-1zM150 629h3v1h-3zM480 629h2v1h-2zM1371 629h1v1h-1zM96 630h2v1h-2zM593 630h1v1h-1zM696 630h1v1h-1zM784 630h3v1h-3zM911 630h2v1h-2zM1372 630h2v1h-2zM156 631h2v1h-2zM594 631h2v1h-2zM694 631h2v1h-2zM910 631h1v1h-1zM92 632h1v1h-1zM158 632h1v1h-1zM476 632h1v1h-1zM790 632h1v1h-1zM906 632h1v1h-1zM90 633h2v1h-2zM475 633h1v1h-1zM791 633h1v1h-1zM904 633h2v1h-2zM162 634h1v1h-1zM474 634h1v1h-1zM599 634h1v1h-1zM792 634h1v1h-1zM1376 634h1v1h-1zM86 635h1v1h-1zM163 635h2v1h-2zM600 635h1v1h-1zM689 635h2v1h-2zM899 635h2v1h-2zM1377 635h1v1h-1zM84 636h2v1h-2zM601 636h1v1h-1zM688 636h1v1h-1zM796 636h2v1h-2zM898 636h1v1h-1zM1377 636h1v1h-1zM80 637h1v1h-1zM168 637h1v1h-1zM470 637h1v1h-1zM798 637h1v1h-1zM893 637h2v1h-2zM0 638h1v1h-1zM78 638h2v1h-2zM169 638h2v1h-2zM469 638h1v1h-1zM892 638h1v1h-1zM1 639h2v1h-2zM73 639h2v1h-2zM468 639h1v1h-1zM605 639h1v1h-1zM684 639h1v1h-1zM802 639h2v1h-2zM888 639h1v1h-1zM72 640h1v1h-1zM606 640h1v1h-1zM682 640h2v1h-2zM804 640h1v1h-1zM886 640h2v1h-2zM6 641h1v1h-1zM66 641h3v1h-3zM174 641h1v1h-1zM606 641h1v1h-1zM808 641h1v1h-1zM881 641h2v1h-2zM7 642h2v1h-2zM62 642h1v1h-1zM175 642h1v1h-1zM464 642h1v1h-1zM678 642h1v1h-1zM809 642h2v1h-2zM876 642h1v1h-1zM880 642h1v1h-1zM60 643h2v1h-2zM175 643h1v1h-1zM463 643h1v1h-1zM677 643h1v1h-1zM814 643h2v1h-2zM874 643h2v1h-2zM12 644h1v1h-1zM54 644h3v1h-3zM462 644h1v1h-1zM610 644h1v1h-1zM676 644h1v1h-1zM816 644h1v1h-1zM858 644h1v1h-1zM862 644h3v1h-3zM868 644h3v1h-3zM13 645h2v1h-2zM18 645h1v1h-1zM49 645h2v1h-2zM611 645h2v1h-2zM820 645h3v1h-3zM856 645h2v1h-2zM19 646h2v1h-2zM24 646h1v1h-1zM43 646h2v1h-2zM48 646h1v1h-1zM179 646h1v1h-1zM670 646h3v1h-3zM826 646h3v1h-3zM851 646h2v1h-2zM25 647h2v1h-2zM30 647h3v1h-3zM36 647h3v1h-3zM42 647h1v1h-1zM180 647h1v1h-1zM832 647h3v1h-3zM838 647h3v1h-3zM844 647h3v1h-3zM850 647h1v1h-1zM181 648h1v1h-1zM458 648h1v1h-1zM616 648h1v1h-1zM457 649h1v1h-1zM617 649h1v1h-1zM666 649h1v1h-1zM185 650h2v1h-2zM456 650h1v1h-1zM618 650h1v1h-1zM664 650h2v1h-2zM187 651h1v1h-1zM659 652h2v1h-2zM191 653h1v1h-1zM622 653h2v1h-2zM658 653h1v1h-1zM192 654h2v1h-2zM453 654h1v1h-1zM624 654h1v1h-1zM652 654h3v1h-3zM452 655h1v1h-1zM628 655h2v1h-2zM647 655h2v1h-2zM451 656h1v1h-1zM630 656h1v1h-1zM642 656h1v1h-1zM646 656h1v1h-1zM634 657h2v1h-2zM640 657h2v1h-2zM197 658h2v1h-2zM636 658h1v1h-1zM199 659h1v1h-1zM448 660h1v1h-1zM447 661h1v1h-1zM203 662h1v1h-1zM446 662h1v1h-1zM204 663h2v1h-2zM209 666h1v1h-1zM443 666h1v1h-1zM210 667h1v1h-1zM443 667h1v1h-1zM211 668h1v1h-1zM442 668h1v1h-1zM215 672h1v1h-1zM439 672h1v1h-1zM216 673h1v1h-1zM438 673h1v1h-1zM217 674h1v1h-1zM438 674h1v1h-1zM221 678h1v1h-1zM435 678h1v1h-1zM222 679h1v1h-1zM435 679h1v1h-1zM223 680h1v1h-1zM434 680h1v1h-1zM227 684h1v1h-1zM431 684h1v1h-1zM228 685h1v1h-1zM431 685h1v1h-1zM228 686h1v1h-1zM430 686h1v1h-1zM232 690h1v1h-1zM428 690h1v1h-1zM232 691h1v1h-1zM428 691h1v1h-1zM233 692h1v1h-1zM427 692h1v1h-1zM237 696h1v1h-1zM425 696h1v1h-1zM238 697h1v1h-1zM424 697h1v1h-1zM238 698h1v1h-1zM424 698h1v1h-1zM242 701h1v1h-1zM243 702h1v1h-1zM421 702h1v1h-1zM244 703h1v1h-1zM420 703h1v1h-1zM419 704h1v1h-1zM247 707h1v1h-1zM248 708h1v1h-1zM415 708h1v1h-1zM249 709h1v1h-1zM414 709h1v1h-1zM413 710h1v1h-1zM252 713h1v1h-1zM410 713h1v1h-1zM253 714h1v1h-1zM409 714h1v1h-1zM254 715h1v1h-1zM408 715h1v1h-1zM258 718h1v1h-1zM403 718h2v1h-2zM259 719h1v1h-1zM402 719h1v1h-1zM260 720h1v1h-1zM398 721h1v1h-1zM397 722h1v1h-1zM348 723h3v1h-3zM354 723h3v1h-3zM396 723h1v1h-1zM264 724h1v1h-1zM336 724h3v1h-3zM342 724h3v1h-3zM360 724h3v1h-3zM265 725h1v1h-1zM330 725h3v1h-3zM366 725h3v1h-3zM372 725h2v1h-2zM392 725h1v1h-1zM266 726h1v1h-1zM325 726h2v1h-2zM374 726h1v1h-1zM378 726h1v1h-1zM390 726h2v1h-2zM324 727h1v1h-1zM379 727h2v1h-2zM384 727h1v1h-1zM386 727h1v1h-1zM318 728h3v1h-3zM385 728h1v1h-1zM270 730h3v1h-3zM312 730h3v1h-3zM276 732h1v1h-1zM306 732h3v1h-3zM277 733h2v1h-2zM302 733h1v1h-1zM282 734h1v1h-1zM300 734h2v1h-2zM283 735h2v1h-2zM295 735h2v1h-2zM288 736h3v1h-3zM294 736h1v1h-1z" fill="#ff0000" shape-rendering="crispEdges"/>
<g shape-rendering="crispEdges">
<line x1="2" y1="786.5" x2="1647" y2="786.5" stroke="#c0c0c0" stroke-width="1" stroke-dasharray="3 3"/>
<line x1="2" y1="837.5" x2="1647" y2="837.5" stroke="#c0c0c0" stroke-width="1" stroke-dasharray="3 3"/>
<line x1="2" y1="898.5" x2="1647" y2="898.5" stroke="#c0c0c0" stroke-width="1" stroke-dasharray="3 3"/>
</g>
<path d="M1170 798h4v1h-4zM1168 799h2v1h-2zM1174 799h1v1h-1zM1164 800h4v1h-4zM1175 800h1v1h-1zM1162 801h2v1h-2zM1176 801h1v1h-1zM1092 802h1v1h-1zM1160 802h2v1h-2zM1177 802h1v1h-1zM1090 803h2v1h-2zM1093 803h6v1h-6zM1157 803h3v1h-3zM1178 803h1v1h-1zM1087 804h3v1h-3zM1099 804h3v1h-3zM1156 804h1v1h-1zM1178 804h1v1h-1zM1204 804h1v1h-1zM1085 805h2v1h-2zM1102 805h1v1h-1zM1156 805h1v1h-1zM1179 805h1v1h-1zM1186 805h4v1h-4zM1203 805h1v1h-1zM1205 805h1v1h-1zM1084 806h1v1h-1zM1103 806h2v1h-2zM1156 806h1v1h-1zM1180 806h6v1h-6zM1190 806h2v1h-2zM1202 806h1v1h-1zM1206 806h2v1h-2zM1306 806h3v1h-3zM1035 807h2v1h-2zM1083 807h1v1h-1zM1105 807h1v1h-1zM1155 807h1v1h-1zM1192 807h2v1h-2zM1200 807h2v1h-2zM1208 807h1v1h-1zM1304 807h2v1h-2zM1309 807h1v1h-1zM1034 808h1v1h-1zM1037 808h1v1h-1zM1082 808h1v1h-1zM1106 808h1v1h-1zM1155 808h1v1h-1zM1194 808h1v1h-1zM1198 808h2v1h-2zM1209 808h1v1h-1zM1301 808h3v1h-3zM1310 808h1v1h-1zM1031 809h3v1h-3zM1038 809h2v1h-2zM1082 809h1v1h-1zM1107 809h1v1h-1zM1155 809h1v1h-1zM1195 809h3v1h-3zM1210 809h2v1h-2zM1299 809h2v1h-2zM1310 809h1v1h-1zM428 810h1v1h-1zM930 810h4v1h-4zM1028 810h3v1h-3zM1040 810h1v1h-1zM1081 810h1v1h-1zM1108 810h2v1h-2zM1154 810h1v1h-1zM1212 810h1v1h-1zM1298 810h1v1h-1zM1310 810h1v1h-1zM427 811h1v1h-1zM429 811h1v1h-1zM923 811h7v1h-7zM934 811h3v1h-3zM963 811h2v1h-2zM1019 811h9v1h-9zM1041 811h1v1h-1zM1081 811h1v1h-1zM1110 811h2v1h-2zM1154 811h1v1h-1zM1213 811h1v1h-1zM1236 811h1v1h-1zM1259 811h4v1h-4zM1297 811h1v1h-1zM1311 811h1v1h-1zM426 812h1v1h-1zM429 812h1v1h-1zM916 812h7v1h-7zM937 812h1v1h-1zM960 812h3v1h-3zM965 812h1v1h-1zM1013 812h6v1h-6zM1042 812h1v1h-1zM1068 812h1v1h-1zM1080 812h1v1h-1zM1112 812h1v1h-1zM1154 812h1v1h-1zM1213 812h1v1h-1zM1234 812h2v1h-2zM1237 812h2v1h-2zM1252 812h7v1h-7zM1263 812h6v1h-6zM1295 812h2v1h-2zM1311 812h1v1h-1zM426 813h1v1h-1zM430 813h1v1h-1zM915 813h1v1h-1zM938 813h22v1h-22zM965 813h1v1h-1zM1012 813h1v1h-1zM1043 813h1v1h-1zM1067 813h1v1h-1zM1069 813h1v1h-1zM1079 813h1v1h-1zM1113 813h1v1h-1zM1153 813h1v1h-1zM1214 813h1v1h-1zM1231 813h3v1h-3zM1239 813h2v1h-2zM1250 813h2v1h-2zM1269 813h1v1h-1zM1293 813h2v1h-2zM1312 813h1v1h-1zM85 814h9v1h-9zM424 814h2v1h-2zM430 814h1v1h-1zM914 814h1v1h-1zM966 814h1v1h-1zM1011 814h1v1h-1zM1044 814h1v1h-1zM1066 814h1v1h-1zM1070 814h2v1h-2zM1079 814h1v1h-1zM1114 814h2v1h-2zM1153 814h1v1h-1zM1214 814h1v1h-1zM1229 814h2v1h-2zM1241 814h1v1h-1zM1249 814h1v1h-1zM1270 814h2v1h-2zM1291 814h2v1h-2zM1312 814h1v1h-1zM84 815h1v1h-1zM94 815h6v1h-6zM423 815h1v1h-1zM431 815h1v1h-1zM914 815h1v1h-1zM967 815h1v1h-1zM1010 815h1v1h-1zM1045 815h1v1h-1zM1066 815h1v1h-1zM1072 815h1v1h-1zM1078 815h1v1h-1zM1116 815h1v1h-1zM1152 815h1v1h-1zM1214 815h1v1h-1zM1228 815h1v1h-1zM1242 815h1v1h-1zM1246 815h3v1h-3zM1272 815h1v1h-1zM1290 815h1v1h-1zM1313 815h1v1h-1zM83 816h1v1h-1zM100 816h9v1h-9zM422 816h1v1h-1zM431 816h1v1h-1zM913 816h1v1h-1zM967 816h1v1h-1zM1009 816h1v1h-1zM1046 816h1v1h-1zM1064 816h2v1h-2zM1073 816h1v1h-1zM1077 816h1v1h-1zM1117 816h1v1h-1zM1152 816h1v1h-1zM1215 816h1v1h-1zM1227 816h1v1h-1zM1243 816h3v1h-3zM1273 816h1v1h-1zM1289 816h1v1h-1zM1313 816h1v1h-1zM82 817h1v1h-1zM109 817h1v1h-1zM421 817h1v1h-1zM432 817h1v1h-1zM912 817h1v1h-1zM968 817h1v1h-1zM1009 817h1v1h-1zM1046 817h1v1h-1zM1063 817h1v1h-1zM1074 817h1v1h-1zM1077 817h1v1h-1zM1118 817h1v1h-1zM1152 817h1v1h-1zM1215 817h1v1h-1zM1226 817h1v1h-1zM1274 817h1v1h-1zM1287 817h2v1h-2zM1314 817h1v1h-1zM82 818h1v1h-1zM109 818h1v1h-1zM416 818h5v1h-5zM432 818h1v1h-1zM491 818h3v1h-3zM706 818h3v1h-3zM911 818h1v1h-1zM968 818h1v1h-1zM1008 818h1v1h-1zM1047 818h1v1h-1zM1062 818h1v1h-1zM1075 818h2v1h-2zM1118 818h1v1h-1zM1151 818h1v1h-1zM1216 818h1v1h-1zM1226 818h1v1h-1zM1275 818h1v1h-1zM1286 818h1v1h-1zM1314 818h1v1h-1zM81 819h1v1h-1zM109 819h1v1h-1zM405 819h11v1h-11zM432 819h1v1h-1zM490 819h1v1h-1zM494 819h1v1h-1zM508 819h11v1h-11zM530 819h11v1h-11zM700 819h6v1h-6zM709 819h2v1h-2zM909 819h2v1h-2zM969 819h1v1h-1zM1007 819h1v1h-1zM1048 819h1v1h-1zM1061 819h1v1h-1zM1119 819h1v1h-1zM1151 819h1v1h-1zM1217 819h1v1h-1zM1225 819h1v1h-1zM1276 819h10v1h-10zM1314 819h1v1h-1zM81 820h1v1h-1zM109 820h1v1h-1zM403 820h2v1h-2zM433 820h1v1h-1zM490 820h1v1h-1zM495 820h1v1h-1zM507 820h1v1h-1zM519 820h11v1h-11zM541 820h1v1h-1zM698 820h2v1h-2zM711 820h2v1h-2zM899 820h10v1h-10zM969 820h1v1h-1zM1006 820h1v1h-1zM1049 820h1v1h-1zM1059 820h2v1h-2zM1120 820h1v1h-1zM1151 820h1v1h-1zM1217 820h1v1h-1zM1225 820h1v1h-1zM1315 820h1v1h-1zM80 821h1v1h-1zM110 821h1v1h-1zM402 821h1v1h-1zM433 821h1v1h-1zM489 821h1v1h-1zM496 821h1v1h-1zM506 821h1v1h-1zM542 821h1v1h-1zM636 821h1v1h-1zM668 821h3v1h-3zM696 821h2v1h-2zM713 821h1v1h-1zM897 821h2v1h-2zM970 821h1v1h-1zM1006 821h1v1h-1zM1049 821h1v1h-1zM1058 821h1v1h-1zM1121 821h1v1h-1zM1150 821h1v1h-1zM1218 821h1v1h-1zM1224 821h1v1h-1zM1315 821h1v1h-1zM79 822h1v1h-1zM110 822h1v1h-1zM401 822h1v1h-1zM434 822h1v1h-1zM487 822h2v1h-2zM497 822h1v1h-1zM504 822h2v1h-2zM542 822h1v1h-1zM635 822h1v1h-1zM637 822h1v1h-1zM667 822h1v1h-1zM671 822h2v1h-2zM684 822h1v1h-1zM694 822h2v1h-2zM714 822h1v1h-1zM892 822h5v1h-5zM971 822h1v1h-1zM1004 822h2v1h-2zM1050 822h1v1h-1zM1056 822h2v1h-2zM1121 822h1v1h-1zM1150 822h1v1h-1zM1218 822h1v1h-1zM1223 822h1v1h-1zM1316 822h1v1h-1zM78 823h1v1h-1zM110 823h1v1h-1zM399 823h2v1h-2zM434 823h1v1h-1zM486 823h1v1h-1zM498 823h1v1h-1zM503 823h1v1h-1zM543 823h1v1h-1zM634 823h1v1h-1zM638 823h1v1h-1zM666 823h1v1h-1zM673 823h1v1h-1zM682 823h2v1h-2zM685 823h9v1h-9zM715 823h2v1h-2zM860 823h1v1h-1zM889 823h3v1h-3zM972 823h1v1h-1zM1003 823h1v1h-1zM1051 823h1v1h-1zM1054 823h2v1h-2zM1122 823h1v1h-1zM1132 823h2v1h-2zM1150 823h1v1h-1zM1218 823h1v1h-1zM1223 823h1v1h-1zM1317 823h2v1h-2zM77 824h1v1h-1zM110 824h1v1h-1zM397 824h2v1h-2zM435 824h1v1h-1zM485 824h1v1h-1zM499 824h1v1h-1zM501 824h2v1h-2zM544 824h1v1h-1zM634 824h1v1h-1zM639 824h1v1h-1zM665 824h1v1h-1zM674 824h1v1h-1zM679 824h3v1h-3zM717 824h1v1h-1zM858 824h2v1h-2zM861 824h1v1h-1zM884 824h5v1h-5zM973 824h8v1h-8zM1002 824h1v1h-1zM1052 824h2v1h-2zM1123 824h1v1h-1zM1128 824h4v1h-4zM1134 824h4v1h-4zM1149 824h1v1h-1zM1219 824h1v1h-1zM1222 824h1v1h-1zM1319 824h2v1h-2zM50 825h3v1h-3zM77 825h1v1h-1zM111 825h1v1h-1zM394 825h3v1h-3zM435 825h1v1h-1zM483 825h2v1h-2zM500 825h1v1h-1zM545 825h1v1h-1zM632 825h2v1h-2zM640 825h1v1h-1zM664 825h1v1h-1zM675 825h1v1h-1zM677 825h2v1h-2zM718 825h1v1h-1zM843 825h3v1h-3zM857 825h1v1h-1zM861 825h1v1h-1zM883 825h1v1h-1zM981 825h1v1h-1zM1002 825h1v1h-1zM1124 825h4v1h-4zM1138 825h5v1h-5zM1149 825h1v1h-1zM1219 825h1v1h-1zM1221 825h1v1h-1zM1321 825h1v1h-1zM42 826h8v1h-8zM53 826h3v1h-3zM76 826h1v1h-1zM111 826h1v1h-1zM390 826h4v1h-4zM436 826h1v1h-1zM459 826h3v1h-3zM482 826h1v1h-1zM545 826h1v1h-1zM631 826h1v1h-1zM641 826h1v1h-1zM663 826h1v1h-1zM676 826h1v1h-1zM719 826h1v1h-1zM841 826h2v1h-2zM846 826h4v1h-4zM855 826h2v1h-2zM862 826h1v1h-1zM882 826h1v1h-1zM982 826h1v1h-1zM1000 826h2v1h-2zM1143 826h3v1h-3zM1149 826h1v1h-1zM1220 826h1v1h-1zM1322 826h2v1h-2zM34 827h8v1h-8zM56 827h2v1h-2zM76 827h1v1h-1zM111 827h1v1h-1zM389 827h1v1h-1zM437 827h7v1h-7zM458 827h1v1h-1zM462 827h1v1h-1zM480 827h2v1h-2zM546 827h1v1h-1zM630 827h1v1h-1zM642 827h1v1h-1zM662 827h1v1h-1zM720 827h1v1h-1zM839 827h2v1h-2zM850 827h2v1h-2zM853 827h2v1h-2zM862 827h1v1h-1zM881 827h1v1h-1zM983 827h2v1h-2zM999 827h1v1h-1zM1146 827h3v1h-3zM1324 827h1v1h-1zM30 828h4v1h-4zM58 828h2v1h-2zM75 828h1v1h-1zM111 828h1v1h-1zM388 828h1v1h-1zM444 828h3v1h-3zM457 828h1v1h-1zM463 828h1v1h-1zM477 828h3v1h-3zM547 828h1v1h-1zM629 828h1v1h-1zM642 828h1v1h-1zM662 828h1v1h-1zM721 828h1v1h-1zM837 828h2v1h-2zM852 828h1v1h-1zM863 828h1v1h-1zM879 828h2v1h-2zM985 828h1v1h-1zM998 828h1v1h-1zM1325 828h1v1h-1zM27 829h3v1h-3zM60 829h1v1h-1zM75 829h1v1h-1zM112 829h1v1h-1zM388 829h1v1h-1zM447 829h1v1h-1zM456 829h1v1h-1zM464 829h2v1h-2zM475 829h2v1h-2zM548 829h1v1h-1zM628 829h1v1h-1zM643 829h1v1h-1zM661 829h1v1h-1zM722 829h1v1h-1zM836 829h1v1h-1zM863 829h1v1h-1zM877 829h2v1h-2zM986 829h1v1h-1zM997 829h1v1h-1zM1325 829h1v1h-1zM26 830h1v1h-1zM61 830h1v1h-1zM74 830h1v1h-1zM112 830h1v1h-1zM387 830h1v1h-1zM448 830h2v1h-2zM455 830h1v1h-1zM466 830h1v1h-1zM473 830h2v1h-2zM548 830h1v1h-1zM627 830h1v1h-1zM644 830h1v1h-1zM660 830h1v1h-1zM723 830h1v1h-1zM835 830h1v1h-1zM864 830h1v1h-1zM876 830h1v1h-1zM987 830h1v1h-1zM992 830h5v1h-5zM1326 830h1v1h-1zM4 831h1v1h-1zM25 831h1v1h-1zM62 831h1v1h-1zM73 831h1v1h-1zM112 831h1v1h-1zM387 831h1v1h-1zM450 831h1v1h-1zM453 831h2v1h-2zM466 831h1v1h-1zM471 831h2v1h-2zM549 831h1v1h-1zM627 831h1v1h-1zM645 831h1v1h-1zM659 831h1v1h-1zM724 831h1v1h-1zM835 831h1v1h-1zM864 831h1v1h-1zM875 831h1v1h-1zM988 831h4v1h-4zM1326 831h1v1h-1zM3 832h1v1h-1zM5 832h1v1h-1zM23 832h2v1h-2zM63 832h1v1h-1zM73 832h1v1h-1zM113 832h1v1h-1zM387 832h1v1h-1zM451 832h2v1h-2zM467 832h4v1h-4zM549 832h1v1h-1zM626 832h1v1h-1zM646 832h2v1h-2zM658 832h1v1h-1zM725 832h2v1h-2zM796 832h2v1h-2zM834 832h1v1h-1zM864 832h1v1h-1zM875 832h1v1h-1zM1327 832h1v1h-1zM2 833h1v1h-1zM6 833h1v1h-1zM21 833h2v1h-2zM64 833h1v1h-1zM72 833h1v1h-1zM113 833h1v1h-1zM386 833h1v1h-1zM550 833h1v1h-1zM625 833h1v1h-1zM648 833h1v1h-1zM657 833h1v1h-1zM727 833h2v1h-2zM794 833h2v1h-2zM798 833h2v1h-2zM834 833h1v1h-1zM865 833h1v1h-1zM874 833h1v1h-1zM1327 833h1v1h-1zM0 834h2v1h-2zM7 834h2v1h-2zM19 834h2v1h-2zM64 834h1v1h-1zM72 834h1v1h-1zM113 834h1v1h-1zM386 834h1v1h-1zM550 834h1v1h-1zM624 834h1v1h-1zM649 834h1v1h-1zM656 834h1v1h-1zM729 834h1v1h-1zM771 834h2v1h-2zM793 834h1v1h-1zM800 834h2v1h-2zM833 834h1v1h-1zM865 834h1v1h-1zM873 834h1v1h-1zM1328 834h1v1h-1zM9 835h1v1h-1zM17 835h2v1h-2zM65 835h1v1h-1zM71 835h1v1h-1zM113 835h1v1h-1zM148 835h2v1h-2zM385 835h1v1h-1zM550 835h1v1h-1zM623 835h1v1h-1zM650 835h1v1h-1zM655 835h1v1h-1zM730 835h1v1h-1zM768 835h3v1h-3zM773 835h1v1h-1zM792 835h1v1h-1zM802 835h1v1h-1zM833 835h1v1h-1zM866 835h1v1h-1zM872 835h1v1h-1zM1329 835h1v1h-1zM10 836h1v1h-1zM16 836h1v1h-1zM66 836h1v1h-1zM71 836h1v1h-1zM114 836h1v1h-1zM147 836h1v1h-1zM150 836h2v1h-2zM385 836h1v1h-1zM551 836h1v1h-1zM604 836h1v1h-1zM622 836h1v1h-1zM650 836h1v1h-1zM654 836h1v1h-1zM731 836h2v1h-2zM764 836h4v1h-4zM774 836h1v1h-1zM790 836h2v1h-2zM803 836h2v1h-2zM832 836h1v1h-1zM866 836h1v1h-1zM871 836h1v1h-1zM1330 836h1v1h-1zM11 837h1v1h-1zM14 837h2v1h-2zM66 837h1v1h-1zM70 837h1v1h-1zM114 837h1v1h-1zM147 837h1v1h-1zM152 837h2v1h-2zM385 837h1v1h-1zM551 837h1v1h-1zM603 837h1v1h-1zM605 837h1v1h-1zM621 837h1v1h-1zM651 837h1v1h-1zM653 837h1v1h-1zM733 837h1v1h-1zM762 837h2v1h-2zM774 837h1v1h-1zM789 837h1v1h-1zM805 837h2v1h-2zM831 837h1v1h-1zM867 837h1v1h-1zM871 837h1v1h-1zM1330 837h1v1h-1zM12 838h2v1h-2zM67 838h1v1h-1zM69 838h1v1h-1zM114 838h1v1h-1zM146 838h1v1h-1zM154 838h1v1h-1zM384 838h1v1h-1zM552 838h1v1h-1zM602 838h1v1h-1zM606 838h2v1h-2zM620 838h1v1h-1zM652 838h1v1h-1zM734 838h1v1h-1zM759 838h3v1h-3zM775 838h1v1h-1zM787 838h2v1h-2zM807 838h2v1h-2zM818 838h4v1h-4zM831 838h1v1h-1zM867 838h1v1h-1zM870 838h1v1h-1zM1331 838h1v1h-1zM68 839h1v1h-1zM114 839h1v1h-1zM146 839h1v1h-1zM155 839h3v1h-3zM384 839h1v1h-1zM552 839h1v1h-1zM601 839h1v1h-1zM608 839h1v1h-1zM618 839h2v1h-2zM734 839h1v1h-1zM757 839h2v1h-2zM776 839h1v1h-1zM786 839h1v1h-1zM809 839h1v1h-1zM816 839h2v1h-2zM822 839h2v1h-2zM830 839h1v1h-1zM868 839h2v1h-2zM1331 839h1v1h-1zM115 840h1v1h-1zM145 840h1v1h-1zM158 840h4v1h-4zM384 840h1v1h-1zM552 840h1v1h-1zM600 840h1v1h-1zM609 840h1v1h-1zM617 840h1v1h-1zM735 840h1v1h-1zM755 840h2v1h-2zM777 840h1v1h-1zM785 840h1v1h-1zM810 840h6v1h-6zM824 840h2v1h-2zM830 840h1v1h-1zM1332 840h1v1h-1zM1336 840h6v1h-6zM115 841h1v1h-1zM145 841h1v1h-1zM162 841h3v1h-3zM383 841h1v1h-1zM553 841h1v1h-1zM599 841h1v1h-1zM610 841h1v1h-1zM615 841h2v1h-2zM736 841h1v1h-1zM754 841h1v1h-1zM777 841h1v1h-1zM784 841h1v1h-1zM826 841h1v1h-1zM829 841h1v1h-1zM1333 841h3v1h-3zM1342 841h1v1h-1zM115 842h1v1h-1zM144 842h1v1h-1zM165 842h3v1h-3zM383 842h1v1h-1zM553 842h1v1h-1zM597 842h2v1h-2zM611 842h1v1h-1zM613 842h2v1h-2zM737 842h1v1h-1zM753 842h1v1h-1zM778 842h2v1h-2zM783 842h1v1h-1zM827 842h2v1h-2zM1342 842h1v1h-1zM115 843h1v1h-1zM144 843h1v1h-1zM168 843h2v1h-2zM383 843h1v1h-1zM554 843h1v1h-1zM596 843h1v1h-1zM612 843h1v1h-1zM737 843h1v1h-1zM751 843h2v1h-2zM780 843h1v1h-1zM782 843h1v1h-1zM1343 843h1v1h-1zM116 844h1v1h-1zM144 844h1v1h-1zM170 844h11v1h-11zM382 844h1v1h-1zM554 844h1v1h-1zM580 844h2v1h-2zM595 844h1v1h-1zM738 844h1v1h-1zM749 844h2v1h-2zM781 844h1v1h-1zM1344 844h1v1h-1zM116 845h1v1h-1zM143 845h1v1h-1zM181 845h1v1h-1zM382 845h1v1h-1zM555 845h1v1h-1zM579 845h1v1h-1zM582 845h1v1h-1zM594 845h1v1h-1zM739 845h1v1h-1zM746 845h3v1h-3zM1345 845h1v1h-1zM116 846h1v1h-1zM143 846h1v1h-1zM182 846h1v1h-1zM299 846h6v1h-6zM382 846h1v1h-1zM555 846h1v1h-1zM579 846h1v1h-1zM583 846h1v1h-1zM594 846h1v1h-1zM740 846h1v1h-1zM743 846h3v1h-3zM1345 846h1v1h-1zM117 847h2v1h-2zM142 847h1v1h-1zM183 847h1v1h-1zM298 847h1v1h-1zM305 847h3v1h-3zM381 847h1v1h-1zM555 847h1v1h-1zM578 847h1v1h-1zM584 847h1v1h-1zM593 847h1v1h-1zM741 847h2v1h-2zM1346 847h1v1h-1zM119 848h1v1h-1zM142 848h1v1h-1zM184 848h1v1h-1zM295 848h3v1h-3zM308 848h1v1h-1zM381 848h1v1h-1zM556 848h1v1h-1zM578 848h1v1h-1zM585 848h1v1h-1zM592 848h1v1h-1zM1347 848h1v1h-1zM120 849h2v1h-2zM141 849h1v1h-1zM185 849h1v1h-1zM294 849h1v1h-1zM309 849h1v1h-1zM381 849h1v1h-1zM557 849h1v1h-1zM577 849h1v1h-1zM586 849h1v1h-1zM591 849h1v1h-1zM1348 849h1v1h-1zM122 850h1v1h-1zM130 850h6v1h-6zM141 850h1v1h-1zM186 850h1v1h-1zM293 850h1v1h-1zM310 850h1v1h-1zM380 850h1v1h-1zM558 850h2v1h-2zM577 850h1v1h-1zM586 850h1v1h-1zM590 850h1v1h-1zM1348 850h1v1h-1zM123 851h1v1h-1zM126 851h4v1h-4zM136 851h5v1h-5zM186 851h1v1h-1zM292 851h1v1h-1zM310 851h1v1h-1zM380 851h1v1h-1zM560 851h2v1h-2zM576 851h1v1h-1zM587 851h1v1h-1zM589 851h1v1h-1zM1349 851h1v1h-1zM124 852h2v1h-2zM187 852h2v1h-2zM291 852h1v1h-1zM311 852h1v1h-1zM379 852h1v1h-1zM562 852h1v1h-1zM575 852h1v1h-1zM588 852h1v1h-1zM1349 852h1v1h-1zM189 853h1v1h-1zM291 853h1v1h-1zM311 853h1v1h-1zM378 853h1v1h-1zM563 853h2v1h-2zM575 853h1v1h-1zM1350 853h1v1h-1zM190 854h1v1h-1zM290 854h1v1h-1zM312 854h1v1h-1zM377 854h1v1h-1zM565 854h2v1h-2zM574 854h1v1h-1zM1351 854h1v1h-1zM190 855h1v1h-1zM290 855h1v1h-1zM313 855h1v1h-1zM376 855h1v1h-1zM567 855h2v1h-2zM574 855h1v1h-1zM1351 855h1v1h-1zM191 856h1v1h-1zM289 856h1v1h-1zM313 856h1v1h-1zM375 856h1v1h-1zM569 856h1v1h-1zM573 856h1v1h-1zM1352 856h1v1h-1zM192 857h1v1h-1zM289 857h1v1h-1zM314 857h1v1h-1zM374 857h1v1h-1zM570 857h2v1h-2zM573 857h1v1h-1zM1353 857h1v1h-1zM193 858h1v1h-1zM288 858h1v1h-1zM314 858h1v1h-1zM374 858h1v1h-1zM572 858h1v1h-1zM1353 858h1v1h-1zM193 859h1v1h-1zM268 859h1v1h-1zM288 859h1v1h-1zM315 859h1v1h-1zM373 859h1v1h-1zM1354 859h1v1h-1zM194 860h1v1h-1zM267 860h1v1h-1zM269 860h2v1h-2zM287 860h1v1h-1zM315 860h1v1h-1zM372 860h1v1h-1zM1354 860h1v1h-1zM195 861h1v1h-1zM266 861h1v1h-1zM271 861h3v1h-3zM287 861h1v1h-1zM316 861h1v1h-1zM372 861h1v1h-1zM1355 861h1v1h-1zM196 862h1v1h-1zM252 862h2v1h-2zM264 862h2v1h-2zM274 862h1v1h-1zM286 862h1v1h-1zM317 862h1v1h-1zM371 862h1v1h-1zM1356 862h1v1h-1zM196 863h1v1h-1zM251 863h1v1h-1zM254 863h4v1h-4zM262 863h2v1h-2zM275 863h2v1h-2zM286 863h1v1h-1zM318 863h2v1h-2zM370 863h1v1h-1zM1357 863h1v1h-1zM197 864h1v1h-1zM250 864h1v1h-1zM258 864h4v1h-4zM277 864h5v1h-5zM285 864h1v1h-1zM320 864h2v1h-2zM339 864h2v1h-2zM356 864h1v1h-1zM370 864h1v1h-1zM1358 864h1v1h-1zM198 865h2v1h-2zM249 865h1v1h-1zM282 865h2v1h-2zM285 865h1v1h-1zM322 865h2v1h-2zM333 865h6v1h-6zM341 865h1v1h-1zM355 865h1v1h-1zM357 865h1v1h-1zM369 865h1v1h-1zM1358 865h1v1h-1zM200 866h1v1h-1zM248 866h1v1h-1zM284 866h1v1h-1zM324 866h9v1h-9zM342 866h1v1h-1zM355 866h1v1h-1zM358 866h1v1h-1zM369 866h1v1h-1zM1359 866h1v1h-1zM201 867h1v1h-1zM236 867h2v1h-2zM247 867h1v1h-1zM343 867h1v1h-1zM354 867h1v1h-1zM359 867h1v1h-1zM368 867h1v1h-1zM1360 867h1v1h-1zM202 868h1v1h-1zM235 868h1v1h-1zM238 868h4v1h-4zM245 868h2v1h-2zM343 868h1v1h-1zM353 868h1v1h-1zM360 868h1v1h-1zM367 868h1v1h-1zM1361 868h1v1h-1zM203 869h1v1h-1zM235 869h1v1h-1zM242 869h3v1h-3zM344 869h1v1h-1zM352 869h1v1h-1zM361 869h1v1h-1zM367 869h1v1h-1zM1361 869h1v1h-1zM204 870h2v1h-2zM234 870h1v1h-1zM345 870h1v1h-1zM351 870h1v1h-1zM362 870h1v1h-1zM366 870h1v1h-1zM1362 870h1v1h-1zM206 871h3v1h-3zM233 871h1v1h-1zM346 871h1v1h-1zM351 871h1v1h-1zM362 871h1v1h-1zM365 871h1v1h-1zM1363 871h1v1h-1zM209 872h1v1h-1zM232 872h1v1h-1zM347 872h1v1h-1zM350 872h1v1h-1zM363 872h2v1h-2zM1364 872h1v1h-1zM210 873h5v1h-5zM231 873h1v1h-1zM347 873h1v1h-1zM349 873h1v1h-1zM1365 873h7v1h-7zM1373 873h8v1h-8zM215 874h7v1h-7zM230 874h1v1h-1zM348 874h1v1h-1zM1372 874h1v1h-1zM222 875h4v1h-4zM229 875h1v1h-1zM226 876h3v1h-3z" fill="#1e90ff" shape-rendering="crispEdges"/>
<g shape-rendering="crispEdges">
<rect x="0" y="23" width="1648" height="1" fill="#000"/>
<rect x="0" y="576" width="1648" height="1" fill="#000"/>
<rect x="0" y="578" width="1648" height="1" fill="#000"/>
<rect x="0" y="748" width="1648" height="1" fill="#000"/>
<rect x="0" y="750" width="1648" height="1" fill="#000"/>
<rect x="0" y="924" width="1648" height="1" fill="#000"/>
<rect x="1647" y="23" width="1" height="554" fill="#000"/>
<rect x="1647" y="578" width="1" height="171" fill="#000"/>
<rect x="1647" y="750" width="1" height="175" fill="#000"/>
<rect x="1648" y="45" width="2" height="1" fill="#000"/>
<rect x="1648" y="78" width="2" height="1" fill="#000"/>
<rect x="1648" y="111" width="2" height="1" fill="#000"/>
<rect x="1648" y="144" width="2" height="1" fill="#000"/>
<rect x="1648" y="177" width="2" height="1" fill="#000"/>
<rect x="1648" y="210" width="2" height="1" fill="#000"/>
<rect x="1648" y="243" width="2" height="1" fill="#000"/>
<rect x="1648" y="276" width="2" height="1" fill="#000"/>
<rect x="1648" y="309" width="2" height="1" fill="#000"/>
<rect x="1648" y="342" width="2" height="1" fill="#000"/>
<rect x="1648" y="375" width="2" height="1" fill="#000"/>
<rect x="1648" y="408" width="2" height="1" fill="#000"/>
<rect x="1648" y="441" width="2" height="1" fill="#000"/>
<rect x="1648" y="474" width="2" height="1" fill="#000"/>
<rect x="1648" y="507" width="2" height="1" fill="#000"/>
<rect x="1648" y="540" width="2" height="1" fill="#000"/>
<rect x="1648" y="573" width="2" height="1" fill="#000"/>
<rect x="1648" y="580" width="1" height="1" fill="#000"/>
<rect x="1648" y="654" width="1" height="1" fill="#000"/>
<rect x="1648" y="747" width="1" height="1" fill="#000"/>
<rect x="1648" y="752" width="1" height="1" fill="#000"/>
<rect x="1648" y="923" width="1" height="1" fill="#000"/>
<rect x="52" y="925" width="1" height="3" fill="#000"/>
<rect x="116" y="925" width="1" height="3" fill="#000"/>
<rect x="180" y="925" width="1" height="3" fill="#000"/>
<rect x="244" y="925" width="1" height="3" fill="#000"/>
<rect x="308" y="925" width="1" height="3" fill="#000"/>
<rect x="372" y="925" width="1" height="3" fill="#000"/>
<rect x="436" y="925" width="1" height="3" fill="#000"/>
<rect x="500" y="925" width="1" height="3" fill="#000"/>
<rect x="564" y="925" width="1" height="3" fill="#000"/>
<rect x="628" y="925" width="1" height="3" fill="#000"/>
<rect x="692" y="925" width="1" height="3" fill="#000"/>
<rect x="756" y="925" width="1" height="3" fill="#000"/>
<rect x="820" y="925" width="1" height="3" fill="#000"/>
<rect x="884" y="925" width="1" height="3" fill="#000"/>
<rect x="948" y="925" width="1" height="3" fill="#000"/>
<rect x="1012" y="925" width="1" height="3" fill="#000"/>
<rect x="1076" y="925" width="1" height="3" fill="#000"/>
<rect x="1140" y="925" width="1" height="3" fill="#000"/>
<rect x="1204" y="925" width="1" height="3" fill="#000"/>
<rect x="1268" y="925" width="1" height="3" fill="#000"/>
<rect x="1332" y="925" width="1" height="3" fill="#000"/>
</g>
<text x="1653" y="49.1" font-size="9.3" fill="#000" text-anchor="start" font-weight="normal"  stroke="#000" stroke-width="0.08">28367.0</text>
<text x="1653" y="82.1" font-size="9.3" fill="#000" text-anchor="start" font-weight="normal"  stroke="#000" stroke-width="0.08">28187.0</text>
<text x="1653" y="115.1" font-size="9.3" fill="#000" text-anchor="start" font-weight="normal"  stroke="#000" stroke-width="0.08">28002.0</text>
<text x="1653" y="148.1" font-size="9.3" fill="#000" text-anchor="start" font-weight="normal"  stroke="#000" stroke-width="0.08">27822.0</text>
<text x="1653" y="181.1" font-size="9.3" fill="#000" text-anchor="start" font-weight="normal"  stroke="#000" stroke-width="0.08">27642.0</text>
<text x="1653" y="214.1" font-size="9.3" fill="#000" text-anchor="start" font-weight="normal"  stroke="#000" stroke-width="0.08">27457.0</text>
<text x="1653" y="247.1" font-size="9.3" fill="#000" text-anchor="start" font-weight="normal"  stroke="#000" stroke-width="0.08">27277.0</text>
<text x="1653" y="280.1" font-size="9.3" fill="#000" text-anchor="start" font-weight="normal"  stroke="#000" stroke-width="0.08">27097.0</text>
<text x="1653" y="313.1" font-size="9.3" fill="#000" text-anchor="start" font-weight="normal"  stroke="#000" stroke-width="0.08">26917.0</text>
<text x="1653" y="346.1" font-size="9.3" fill="#000" text-anchor="start" font-weight="normal"  stroke="#000" stroke-width="0.08">26737.0</text>
<text x="1653" y="379.1" font-size="9.3" fill="#000" text-anchor="start" font-weight="normal"  stroke="#000" stroke-width="0.08">26552.0</text>
<text x="1653" y="412.1" font-size="9.3" fill="#000" text-anchor="start" font-weight="normal"  stroke="#000" stroke-width="0.08">26372.0</text>
<text x="1653" y="445.1" font-size="9.3" fill="#000" text-anchor="start" font-weight="normal"  stroke="#000" stroke-width="0.08">26192.0</text>
<text x="1653" y="478.1" font-size="9.3" fill="#000" text-anchor="start" font-weight="normal"  stroke="#000" stroke-width="0.08">26007.0</text>
<text x="1653" y="511.1" font-size="9.3" fill="#000" text-anchor="start" font-weight="normal"  stroke="#000" stroke-width="0.08">25827.0</text>
<text x="1653" y="544.1" font-size="9.3" fill="#000" text-anchor="start" font-weight="normal"  stroke="#000" stroke-width="0.08">25647.0</text>
<text x="1653" y="577.1" font-size="9.3" fill="#000" text-anchor="start" font-weight="normal"  stroke="#000" stroke-width="0.08">25467.0</text>
<g shape-rendering="crispEdges">
<rect x="1649" y="142" width="41" height="11" fill="#ff0000"/>
<rect x="1642.5" y="146.5" width="4" height="4" fill="#fff" stroke="#ff0000" stroke-width="1"/>
<rect x="1649" y="172" width="41" height="11" fill="#ff0000"/>
<rect x="1642.5" y="176.5" width="4" height="4" fill="#fff" stroke="#ff0000" stroke-width="1"/>
<rect x="1649" y="208" width="41" height="11" fill="#32cd32"/>
<rect x="1642.5" y="212.5" width="4" height="4" fill="#fff" stroke="#32cd32" stroke-width="1"/>
<rect x="1649" y="224" width="41" height="11" fill="#000000"/>
<rect x="1649" y="255" width="41" height="11" fill="#0000ff"/>
<rect x="1642.5" y="259.5" width="4" height="4" fill="#fff" stroke="#0000ff" stroke-width="1"/>
<rect x="1649" y="288" width="41" height="11" fill="#0000ff"/>
<rect x="1642.5" y="292.5" width="4" height="4" fill="#fff" stroke="#0000ff" stroke-width="1"/>
</g>
<text x="1653" y="151.1" font-size="9.3" fill="#fff" text-anchor="start" font-weight="normal"  stroke="#fff" stroke-width="0.08">27799.0</text>
<text x="1653" y="181.1" font-size="9.3" fill="#fff" text-anchor="start" font-weight="normal"  stroke="#fff" stroke-width="0.08">27634.5</text>
<text x="1653" y="217.1" font-size="9.3" fill="#fff" text-anchor="start" font-weight="normal"  stroke="#fff" stroke-width="0.08">27437.1</text>
<text x="1653" y="233.1" font-size="9.3" fill="#fff" text-anchor="start" font-weight="normal"  stroke="#fff" stroke-width="0.08">27347.5</text>
<text x="1653" y="264.1" font-size="9.3" fill="#fff" text-anchor="start" font-weight="normal"  stroke="#fff" stroke-width="0.08">27179.4</text>
<text x="1653" y="297.1" font-size="9.3" fill="#fff" text-anchor="start" font-weight="normal"  stroke="#fff" stroke-width="0.08">26998.4</text>
<text x="1650.7" y="589" font-size="9.3" fill="#000" text-anchor="start" font-weight="normal"  stroke="#000" stroke-width="0.08">207.7</text>
<text x="1650.7" y="658" font-size="9.3" fill="#000" text-anchor="start" font-weight="normal"  stroke="#000" stroke-width="0.08">0.00</text>
<text x="1650.7" y="745" font-size="9.3" fill="#000" text-anchor="start" font-weight="normal"  stroke="#000" stroke-width="0.08">-262</text>
<text x="1650.4" y="760.9" font-size="9.3" fill="#000" text-anchor="start" font-weight="normal"  stroke="#000" stroke-width="0.08">100</text>
<text x="1650.4" y="789.9" font-size="9.3" fill="#000" text-anchor="start" font-weight="normal"  stroke="#000" stroke-width="0.08">80</text>
<text x="1650.4" y="841.2" font-size="9.3" fill="#000" text-anchor="start" font-weight="normal"  stroke="#000" stroke-width="0.08">50</text>
<text x="1650.4" y="901.8" font-size="9.3" fill="#000" text-anchor="start" font-weight="normal"  stroke="#000" stroke-width="0.08">15</text>
<text x="1650.4" y="920.6" font-size="9.3" fill="#000" text-anchor="start" font-weight="normal"  stroke="#000" stroke-width="0.08">0</text>
<text x="3" y="34.8" font-size="9.3" fill="#000" text-anchor="start" font-weight="normal"  stroke="#000" stroke-width="0.08">JPN225-,H4&#160;&#160;27352.5 27417.5 27312.5 27347.5</text>
<text x="-7.8" y="590.8" font-size="9.3" fill="#000" text-anchor="start" font-weight="normal"  textLength="120.8" lengthAdjust="spacingAndGlyphs" stroke="#000" stroke-width="0.08">MACD(12,26,9) -94.74 42.14</text>
<text x="-6.6" y="763" font-size="9.3" fill="#000" text-anchor="start" font-weight="normal"  textLength="66.4" lengthAdjust="spacingAndGlyphs" stroke="#000" stroke-width="0.08">RSI(14) 29.1937</text>
<text x="-13" y="936.4" font-size="9.3" fill="#000" text-anchor="start" font-weight="normal"  textLength="49.3" lengthAdjust="spacingAndGlyphs" stroke="#000" stroke-width="0.08">3 May 2022</text>
<text x="51" y="936.4" font-size="9.3" fill="#000" text-anchor="start" font-weight="normal"  textLength="51.9" lengthAdjust="spacingAndGlyphs" stroke="#000" stroke-width="0.08">4 May 00:00</text>
<text x="115" y="936.4" font-size="9.3" fill="#000" text-anchor="start" font-weight="normal"  textLength="51.9" lengthAdjust="spacingAndGlyphs" stroke="#000" stroke-width="0.08">5 May 10:55</text>
<text x="179" y="936.4" font-size="9.3" fill="#000" text-anchor="start" font-weight="normal"  textLength="51.9" lengthAdjust="spacingAndGlyphs" stroke="#000" stroke-width="0.08">6 May 18:55</text>
<text x="243" y="936.4" font-size="9.3" fill="#000" text-anchor="start" font-weight="normal"  textLength="57.2" lengthAdjust="spacingAndGlyphs" stroke="#000" stroke-width="0.08">10 May 00:00</text>
<text x="307" y="936.4" font-size="9.3" fill="#000" text-anchor="start" font-weight="normal"  textLength="56.5" lengthAdjust="spacingAndGlyphs" stroke="#000" stroke-width="0.08">11 May 10:55</text>
<text x="371" y="936.4" font-size="9.3" fill="#000" text-anchor="start" font-weight="normal"  textLength="57.2" lengthAdjust="spacingAndGlyphs" stroke="#000" stroke-width="0.08">12 May 18:55</text>
<text x="435" y="936.4" font-size="9.3" fill="#000" text-anchor="start" font-weight="normal"  textLength="57.2" lengthAdjust="spacingAndGlyphs" stroke="#000" stroke-width="0.08">16 May 00:00</text>
<text x="499" y="936.4" font-size="9.3" fill="#000" text-anchor="start" font-weight="normal"  textLength="57.2" lengthAdjust="spacingAndGlyphs" stroke="#000" stroke-width="0.08">17 May 10:55</text>
<text x="563" y="936.4" font-size="9.3" fill="#000" text-anchor="start" font-weight="normal"  textLength="57.2" lengthAdjust="spacingAndGlyphs" stroke="#000" stroke-width="0.08">18 May 18:55</text>
<text x="627" y="936.4" font-size="9.3" fill="#000" text-anchor="start" font-weight="normal"  textLength="57.2" lengthAdjust="spacingAndGlyphs" stroke="#000" stroke-width="0.08">20 May 00:00</text>
<text x="691" y="936.4" font-size="9.3" fill="#000" text-anchor="start" font-weight="normal"  textLength="57.2" lengthAdjust="spacingAndGlyphs" stroke="#000" stroke-width="0.08">23 May 10:55</text>
<text x="755" y="936.4" font-size="9.3" fill="#000" text-anchor="start" font-weight="normal"  textLength="57.2" lengthAdjust="spacingAndGlyphs" stroke="#000" stroke-width="0.08">24 May 18:55</text>
<text x="819" y="936.4" font-size="9.3" fill="#000" text-anchor="start" font-weight="normal"  textLength="57.2" lengthAdjust="spacingAndGlyphs" stroke="#000" stroke-width="0.08">26 May 00:00</text>
<text x="883" y="936.4" font-size="9.3" fill="#000" text-anchor="start" font-weight="normal"  textLength="57.2" lengthAdjust="spacingAndGlyphs" stroke="#000" stroke-width="0.08">27 May 10:55</text>
<text x="947" y="936.4" font-size="9.3" fill="#000" text-anchor="start" font-weight="normal"  textLength="57.2" lengthAdjust="spacingAndGlyphs" stroke="#000" stroke-width="0.08">30 May 18:55</text>
<text x="1011" y="936.4" font-size="9.3" fill="#000" text-anchor="start" font-weight="normal"  textLength="47.2" lengthAdjust="spacingAndGlyphs" stroke="#000" stroke-width="0.08">1 Jun 00:00</text>
<text x="1075" y="936.4" font-size="9.3" fill="#000" text-anchor="start" font-weight="normal"  textLength="47.2" lengthAdjust="spacingAndGlyphs" stroke="#000" stroke-width="0.08">2 Jun 10:55</text>
<text x="1139" y="936.4" font-size="9.3" fill="#000" text-anchor="start" font-weight="normal"  textLength="47.2" lengthAdjust="spacingAndGlyphs" stroke="#000" stroke-width="0.08">3 Jun 18:55</text>
<text x="1203" y="936.4" font-size="9.3" fill="#000" text-anchor="start" font-weight="normal"  textLength="47.2" lengthAdjust="spacingAndGlyphs" stroke="#000" stroke-width="0.08">7 Jun 00:00</text>
<text x="1267" y="936.4" font-size="9.3" fill="#000" text-anchor="start" font-weight="normal"  textLength="47.2" lengthAdjust="spacingAndGlyphs" stroke="#000" stroke-width="0.08">8 Jun 10:55</text>
<text x="1331" y="936.4" font-size="9.3" fill="#000" text-anchor="start" font-weight="normal"  textLength="47.2" lengthAdjust="spacingAndGlyphs" stroke="#000" stroke-width="0.08">9 Jun 18:55</text>
<path d="M1391 24h11l-5.5 5.5z" fill="#c0c0c0"/>
<rect x="1237.5" y="42.5" width="61" height="17" fill="#fff" stroke="#ff0000" stroke-width="1" shape-rendering="crispEdges"/>
<text x="1268.0" y="57.3" font-size="16" fill="#ff0000" text-anchor="middle" font-weight="normal" >28336.4</text>
<rect x="517.5" y="454.5" width="61" height="18" fill="#fff" stroke="#ff0000" stroke-width="1" shape-rendering="crispEdges"/>
<text x="548.0" y="470.3" font-size="16" fill="#ff0000" text-anchor="middle" font-weight="normal" >26072.4</text>
<rect x="1197.5" y="205.5" width="61" height="18" fill="#fff" stroke="#ff0000" stroke-width="1" shape-rendering="crispEdges"/>
<text x="1228.0" y="221.3" font-size="16" fill="#ff0000" text-anchor="middle" font-weight="normal" >27437.1</text>
<rect x="1301.5" y="243.5" width="61" height="17" fill="#fff" stroke="#ff0000" stroke-width="1" shape-rendering="crispEdges"/>
<text x="1332.0" y="258.3" font-size="16" fill="#ff0000" text-anchor="middle" font-weight="normal" >27234.2</text>
<g shape-rendering="crispEdges" fill="#ff0000">
<rect x="1299" y="50" width="9" height="1" fill="#ff0000"/>
<rect x="579" y="463" width="9" height="1" fill="#ff0000"/>
<rect x="1259" y="214" width="9" height="1" fill="#ff0000"/>
<rect x="1259.5" y="212.5" width="2" height="3" fill="#fff" stroke="#f00"/>
<rect x="1363" y="251" width="9" height="1" fill="#ff0000"/>
<rect x="1363.5" y="249.5" width="2" height="3" fill="#fff" stroke="#f00"/>
</g>
<line x1="1315.5" y1="59" x2="1388.4" y2="256.1" stroke="#ff0000" stroke-width="3.3"/>
<path d="M1391.5 264.5L1383.2 255.8L1392.2 252.5z" fill="#ff0000"/>
<line x1="1313.8" y1="597" x2="1385.5" y2="691.0" stroke="#ff0000" stroke-width="3.3"/>
<path d="M1390.0 697.0L1380.6 692.2L1387.9 686.7z" fill="#ff0000"/>
<line x1="1302.5" y1="806" x2="1381.7" y2="884.0" stroke="#ff0000" stroke-width="3.3"/>
<path d="M1387.0 889.3L1377.0 885.9L1383.5 879.4z" fill="#ff0000"/>
<g shape-rendering="crispEdges">
<rect x="0" y="43" width="43" height="25" fill="url(#gTab)"/>
<rect x="158" y="43" width="52" height="25" fill="url(#gTab)"/>
<rect x="0" y="67" width="100" height="33" fill="url(#gPan)"/>
<rect x="102" y="67" width="108" height="33" fill="url(#gPan)"/>
<rect x="0" y="66" width="39" height="1" fill="#f08080"/>
<rect x="162" y="66" width="44" height="1" fill="#f08080"/>
<rect x="45.5" y="43.5" width="110" height="21" fill="#fff" stroke="#a8a8a8"/>
<rect x="47" y="45" width="18" height="18" fill="url(#gBtn)"/><rect x="66" y="44" width="1" height="20" fill="#b8b8b8"/>
<rect x="136" y="45" width="18" height="18" fill="url(#gBtn)"/><rect x="134" y="44" width="1" height="20" fill="#b8b8b8"/>
</g>
<path d="M53 52h5l-2.5 3z" fill="#4a5ab8"/><path d="M142 55h5l-2.5 -3z" fill="#4a5ab8"/>
<text x="130.5" y="58.3" font-size="12.4" fill="#000" text-anchor="end" font-weight="normal"  stroke="#000" stroke-width="0.08">1.00</text>
<text x="3" y="58.5" font-size="11.6" fill="#fff" text-anchor="start" font-weight="normal"  textLength="25.5" lengthAdjust="spacingAndGlyphs">SELL</text>
<text x="171" y="58.5" font-size="11.6" fill="#fff" text-anchor="start" font-weight="normal" >BUY</text>
<text x="7.5" y="95.2" font-size="12.4" fill="#fff" text-anchor="start" font-weight="bold" >27346</text>
<text x="117" y="95.2" font-size="12.4" fill="#fff" text-anchor="start" font-weight="bold" >27369</text>
<text x="46.8" y="95.2" font-size="21" fill="#fff" text-anchor="start" font-weight="bold" >.</text>
<text x="53" y="95.2" font-size="34" fill="#fff" text-anchor="start" font-weight="normal"  textLength="16.4" lengthAdjust="spacingAndGlyphs">0</text>
<text x="156.8" y="95.2" font-size="21" fill="#fff" text-anchor="start" font-weight="bold" >.</text>
<text x="163" y="95.2" font-size="34" fill="#fff" text-anchor="start" font-weight="normal"  textLength="16.4" lengthAdjust="spacingAndGlyphs">0</text>
<g shape-rendering="crispEdges">
<rect x="0" y="0" width="1695" height="19" fill="#f0f0f0"/>
<rect x="0" y="19" width="1694" height="1" fill="#a6a6a6"/>
<rect x="0" y="20" width="1694" height="1" fill="#6a6a6a"/>
<rect x="1693" y="19" width="2" height="921" fill="#ececec"/>
</g>
<g clip-path="url(#tbclip)">
<clipPath id="tbclip"><rect x="0" y="0" width="1695" height="19"/></clipPath>
<rect x="283" y="0" width="24" height="18" fill="url(#hatch)" shape-rendering="crispEdges"/>
<rect x="435" y="0" width="24" height="18" fill="url(#hatch)" shape-rendering="crispEdges"/>
<rect x="463" y="0" width="24" height="18" fill="url(#hatch)" shape-rendering="crispEdges"/>
<rect x="623" y="0" width="24" height="18" fill="url(#hatch)" shape-rendering="crispEdges"/>
<rect x="1069" y="0" width="25" height="18" fill="url(#hatch)" shape-rendering="crispEdges"/>
<g shape-rendering="crispEdges">
<rect x="8" y="0" width="1" height="17" fill="#a0a0a0"/>
<rect x="282" y="0" width="1" height="17" fill="#a0a0a0"/>
<rect x="339" y="0" width="1" height="17" fill="#a0a0a0"/>
<rect x="429" y="0" width="1" height="17" fill="#a0a0a0"/>
<rect x="434" y="0" width="1" height="17" fill="#a0a0a0"/>
<rect x="462" y="0" width="1" height="17" fill="#a0a0a0"/>
<rect x="491" y="0" width="1" height="17" fill="#a0a0a0"/>
<rect x="622" y="0" width="1" height="17" fill="#a0a0a0"/>
<rect x="679" y="0" width="1" height="17" fill="#a0a0a0"/>
<rect x="1068" y="0" width="1" height="17" fill="#a0a0a0"/>
<rect x="244" y="0" width="1" height="19" fill="#a0a0a0"/><rect x="245" y="0" width="1" height="19" fill="#fff"/>
<rect x="612" y="0" width="1" height="19" fill="#a0a0a0"/><rect x="613" y="0" width="1" height="19" fill="#fff"/>
<rect x="918" y="0" width="1" height="19" fill="#a0a0a0"/><rect x="919" y="0" width="1" height="19" fill="#fff"/>
<rect x="1179" y="0" width="1" height="19" fill="#a0a0a0"/><rect x="1180" y="0" width="1" height="19" fill="#fff"/>
<rect x="248" y="1" width="3" height="1" fill="#a8a8a8"/>
<rect x="248" y="3" width="3" height="1" fill="#a8a8a8"/>
<rect x="248" y="5" width="3" height="1" fill="#a8a8a8"/>
<rect x="248" y="7" width="3" height="1" fill="#a8a8a8"/>
<rect x="248" y="9" width="3" height="1" fill="#a8a8a8"/>
<rect x="248" y="11" width="3" height="1" fill="#a8a8a8"/>
<rect x="248" y="13" width="3" height="1" fill="#a8a8a8"/>
<rect x="248" y="15" width="3" height="1" fill="#a8a8a8"/>
<rect x="616" y="1" width="3" height="1" fill="#a8a8a8"/>
<rect x="616" y="3" width="3" height="1" fill="#a8a8a8"/>
<rect x="616" y="5" width="3" height="1" fill="#a8a8a8"/>
<rect x="616" y="7" width="3" height="1" fill="#a8a8a8"/>
<rect x="616" y="9" width="3" height="1" fill="#a8a8a8"/>
<rect x="616" y="11" width="3" height="1" fill="#a8a8a8"/>
<rect x="616" y="13" width="3" height="1" fill="#a8a8a8"/>
<rect x="616" y="15" width="3" height="1" fill="#a8a8a8"/>
<rect x="922" y="1" width="3" height="1" fill="#a8a8a8"/>
<rect x="922" y="3" width="3" height="1" fill="#a8a8a8"/>
<rect x="922" y="5" width="3" height="1" fill="#a8a8a8"/>
<rect x="922" y="7" width="3" height="1" fill="#a8a8a8"/>
<rect x="922" y="9" width="3" height="1" fill="#a8a8a8"/>
<rect x="922" y="11" width="3" height="1" fill="#a8a8a8"/>
<rect x="922" y="13" width="3" height="1" fill="#a8a8a8"/>
<rect x="922" y="15" width="3" height="1" fill="#a8a8a8"/>
</g>
<path d="M-1.5 5.3L1.5 7.4L-1.5 9.5" fill="none" stroke="#202020" stroke-width="1.1"/><rect x="0" y="14" width="1" height="1.5" fill="#d8a848"/>
<radialGradient id="gplus" cx="0.5" cy="0.45" r="0.6"><stop offset="0" stop-color="#40ff50"/><stop offset="0.6" stop-color="#18d028"/><stop offset="1" stop-color="#0c9a18"/></radialGradient>
<path d="M18.5 -2h7.7l3.3 3.3v11h-11z" fill="#fff" stroke="#686868" stroke-width="1"/><path d="M26.2 -2v3.3h3.3" fill="none" stroke="#686868"/>
<path d="M20.2 1.9h2.6" stroke="#707070" stroke-width="1.4"/><path d="M20.2 5.5h5.6M20.2 7.5h4.4M20.2 9.5h2" stroke="#909090" stroke-width="0.9"/>
<path d="M26.4 5.5h3.5v3.9h3.9v3.4h-3.9v3.9h-3.5v-3.9h-4.1v-3.4h4.1z" fill="url(#gplus)" stroke="#0c9418" stroke-width="0.6"/>
<text x="37.2" y="9.8" font-size="11.7" fill="#000" text-anchor="start" textLength="35.2" lengthAdjust="spacingAndGlyphs" style="font-family:'Liberation Sans','Noto Sans CJK SC',sans-serif">新订单</text>
<linearGradient id="gold" x1="0" y1="0" x2="1" y2="1"><stop offset="0" stop-color="#f8d040"/><stop offset="0.6" stop-color="#e0a818"/><stop offset="1" stop-color="#a87008"/></linearGradient>
<path d="M90.8 -1.2L101 8.2L92.3 14.8L85 8.6z" fill="url(#gold)"/>
<path d="M85 8.6L92.3 14.8L101 8.2L99.9 6.4L92.6 12L86.1 7.2z" fill="#c08818"/>
<path d="M85.6 8.9L92.4 13.6L100.3 7.6" fill="none" stroke="#f0d070" stroke-width="0.7"/>
<path d="M90.8 -1.2L101 8.2L92.3 14.8L85 8.6z" fill="none" stroke="#9a6208" stroke-width="0.8"/>
<path d="M114.9 -1L118.4 0.8V7.8L114.9 7z" fill="#0a86e4"/><rect x="118.4" y="0.5" width="7.7" height="7.5" fill="#2ea6ff"/><path d="M114.9 -1H123L126.1 0.6H118.4z" fill="#7accff"/><rect x="120.2" y="3.2" width="4.8" height="1.5" fill="#eef8ff"/>
<linearGradient id="cld" x1="0" y1="0" x2="0" y2="1"><stop offset="0" stop-color="#ffffff"/><stop offset="1" stop-color="#bccae4"/></linearGradient>
<path d="M115.6 14.7a2.6 2.6 0 0 1 0.3 -5.1a2.2 2.2 0 0 1 2.6 -1.2a3.2 3.2 0 0 1 6 -0.2a2.9 2.9 0 0 1 4.5 2.7a2 2 0 0 1 -1 3.8z" fill="url(#cld)" stroke="#4a64a4" stroke-width="0.9"/>
<linearGradient id="sgn" x1="0" y1="0" x2="1" y2="1"><stop offset="0" stop-color="#c8e4c0" stop-opacity="0.7"/><stop offset="1" stop-color="#2a9a30"/></linearGradient>
<g fill="none" stroke-width="1.1"><circle cx="148.9" cy="6.9" r="7.5" stroke="#8aa8e4" stroke-dasharray="2.2 1"/><circle cx="148.9" cy="6.9" r="4.8" stroke="#6a90dc" stroke-dasharray="2.4 0.8"/></g>
<path d="M148.9 6.9V14.9A8 8 0 0 0 155.8 2.9z" fill="url(#sgn)"/>
<path d="M148.9 6.9m0 4.8a4.8 4.8 0 0 0 4.2 -7.2M148.9 14.4a7.5 7.5 0 0 0 6.5 -11.2" fill="none" stroke="#3a7a78" stroke-width="1" opacity="0.55"/>
<circle cx="148.8" cy="6.7" r="2.1" fill="#2450d0"/><rect x="149" y="7" width="1.3" height="7.8" fill="#18a020"/>
<path d="M168 3.6q0 -1.6 4.6 -2.2q0.6 -3.6 3.2 -3.6t3.3 3.6q4.6 0.6 4.6 2.2q0 2.2 -7.9 2.2t-7.8 -2.2z" fill="#5cb4e4" stroke="#2a86b8" stroke-width="0.6"/>
<path d="M168.4 5.8q7.5 2.4 15 0l-7 9q-1.2 0.4 -2 -0.6z" fill="#fae058" stroke="#d0a020" stroke-width="0.6"/>
<circle cx="180.4" cy="10.6" r="4.1" fill="#e02810"/><circle cx="180.4" cy="10.6" r="4.1" fill="none" stroke="#b01808" stroke-width="0.5"/><rect x="179" y="9.1" width="3" height="3" fill="#fff"/>
<text x="191.2" y="9.8" font-size="11.5" fill="#000" text-anchor="start" textLength="45.4" lengthAdjust="spacingAndGlyphs" style="font-family:'Liberation Sans','Noto Sans CJK SC',sans-serif">自动交易</text>
<g shape-rendering="crispEdges" fill="#4d4d4d"><rect x="262" y="2" width="1" height="13"/><rect x="260" y="12" width="14" height="1"/></g>
<path d="M260.5 3.5l2-2.5l2 2.5zM272.5 10.5l2.5 2l-2.5 2z" fill="#4d4d4d"/>
<g shape-rendering="crispEdges" fill="#1a9a1a"><rect x="268" y="3" width="1" height="8"/><rect x="266" y="9" width="2" height="1"/><rect x="269" y="3" width="2" height="1"/></g>
<g shape-rendering="crispEdges" fill="#4d4d4d"><rect x="290" y="2" width="1" height="13"/><rect x="288" y="12" width="14" height="1"/></g>
<path d="M288.5 3.5l2-2.5l2 2.5zM300.5 10.5l2.5 2l-2.5 2z" fill="#4d4d4d"/>
<rect x="296" y="0" width="1" height="11" fill="#0a7a0a" shape-rendering="crispEdges"/><rect x="294.5" y="1.5" width="4" height="7" fill="#3ad83a" stroke="#0e8a0e" stroke-width="1"/><rect x="295.5" y="2.5" width="1" height="5" fill="#9af09a"/>
<g shape-rendering="crispEdges" fill="#4d4d4d"><rect x="318" y="2" width="1" height="13"/><rect x="316" y="12" width="14" height="1"/></g>
<path d="M316.5 3.5l2-2.5l2 2.5zM328.5 10.5l2.5 2l-2.5 2z" fill="#4d4d4d"/>
<path d="M317 9.5q3.5 -1.5 5 -4.2q1.4 -1.8 3 -0.6q2 2 4 3" fill="none" stroke="#1a9a1a" stroke-width="1.2"/>
<path d="M357.5 8.4l5.6 5.8" stroke="#c89820" stroke-width="2.6" stroke-linecap="round"/><path d="M357.79999999999995 8.2l5.4 5.4" stroke="#f0d060" stroke-width="1"/>
<circle cx="353.9" cy="4.6" r="5" fill="#d4e8fa" stroke="#4a88cc" stroke-width="1.3"/>
<rect x="350.9" y="3.9" width="6" height="1.5" fill="#3a74b8"/>
<rect x="353.15" y="1.6" width="1.5" height="6" fill="#3a74b8"/>
<path d="M385.5 8.4l5.6 5.8" stroke="#c89820" stroke-width="2.6" stroke-linecap="round"/><path d="M385.79999999999995 8.2l5.4 5.4" stroke="#f0d060" stroke-width="1"/>
<circle cx="381.9" cy="4.6" r="5" fill="#d4e8fa" stroke="#4a88cc" stroke-width="1.3"/>
<rect x="378.9" y="3.9" width="6" height="1.5" fill="#3a74b8"/>
<g shape-rendering="crispEdges"><rect x="404" y="-1" width="8" height="7" fill="#3aa21a"/><rect x="412" y="-1" width="8" height="7" fill="#2a5cd8"/><rect x="404" y="7" width="8" height="8" fill="#2a5cd8"/><rect x="412" y="7" width="8" height="8" fill="#3aa21a"/>
<rect x="405" y="1" width="6" height="4" fill="#fff"/><rect x="413" y="1" width="6" height="4" fill="#fff"/><rect x="405" y="10" width="6" height="4" fill="#fff"/><rect x="413" y="10" width="6" height="4" fill="#fff"/>
<rect x="406" y="2" width="4" height="1" fill="#a8d898"/><rect x="414" y="2" width="4" height="1" fill="#a0b8f0"/><rect x="406" y="11" width="4" height="1" fill="#a0b8f0"/><rect x="414" y="11" width="4" height="1" fill="#a8d898"/><rect x="405" y="8" width="1" height="1" fill="#c8d8ff"/><rect x="413" y="8" width="1" height="1" fill="#d0f0c0"/><rect x="411.6" y="-1" width="0.8" height="16" fill="#f0f0f0"/></g>
<g shape-rendering="crispEdges" fill="#4d4d4d"><rect x="442" y="2" width="1" height="13"/><rect x="440" y="12" width="14" height="1"/></g>
<path d="M440.5 3.5l2-2.5l2 2.5zM452.5 10.5l2.5 2l-2.5 2z" fill="#4d4d4d"/>
<path d="M447.2 2.6l3.9 3.7l-3.9 3.7z" fill="#7ae87a" stroke="#0e9a0e" stroke-width="1"/>
<g shape-rendering="crispEdges" fill="#4d4d4d"><rect x="470" y="2" width="1" height="13"/><rect x="468" y="12" width="14" height="1"/></g>
<path d="M468.5 3.5l2-2.5l2 2.5zM480.5 10.5l2.5 2l-2.5 2z" fill="#4d4d4d"/>
<rect x="476" y="1" width="1" height="10" fill="#1a6ca8" shape-rendering="crispEdges"/><path d="M477.6 6.5l2.6 -2.4l-0.4 1.8h2.2v1.2h-2.2l0.4 1.8z" fill="#d84808"/>
<path d="M501.5 -2h8l3.5 3.5v10.5h-11.5z" fill="#fff" stroke="#808080" stroke-width="1"/><path d="M506.5 1.2q-1.8 -0.4 -1.8 1.6v5.5M503.6 4.5h2.6" fill="none" stroke="#504030" stroke-width="0.9"/>
<path d="M509.7 5.3h3.5v3.9h3.9v3.4h-3.9v3.9h-3.5v-3.9h-4.1v-3.4h4.1z" fill="url(#gplus)" stroke="#0c9418" stroke-width="0.6"/>
<path d="M523 6h5.6l-2.8 3.3z" fill="#000"/>
<path d="M561.7 6h5.6l-2.8 3.3z" fill="#000"/>
<path d="M600.8 6h5.6l-2.8 3.3z" fill="#000"/>
<path d="M906.8 6h5.6l-2.8 3.3z" fill="#000"/>
<circle cx="546.8" cy="7.3" r="6.7" fill="#fff" stroke="#1f6fd8" stroke-width="2.2"/><circle cx="546.8" cy="7.3" r="7.7" fill="none" stroke="#0f4fa8" stroke-width="0.5"/><path d="M546.6 4v3.6h2.6" fill="none" stroke="#404040" stroke-width="1"/><circle cx="546.8" cy="7.3" r="5.2" fill="none" stroke="#c8d0dc" stroke-width="0.6" stroke-dasharray="0.6 2.1"/>
<g shape-rendering="crispEdges"><rect x="578" y="-1" width="16" height="15" fill="#fff" stroke="#3a78d0" stroke-width="1"/><rect x="578" y="-1" width="16" height="4" fill="#3a78d0"/><rect x="579" y="8" width="14" height="1" fill="#7aa8e8"/></g>
<path d="M580 6.3h2l2 -1.4h1.5l1.5 1h2l2 -1.4" fill="none" stroke="#a83018" stroke-width="1.2"/><path d="M581 11.6h2l2 -1.2l1.5 1.2l2.5 -2.2l2.5 2.2" fill="none" stroke="#189828" stroke-width="1.2"/>
<path d="M630.2 -2v13.2l3 -2.6l2.2 5.2l1.9 -0.8l-2.2 -5.1h4z" fill="#484848"/>
<g shape-rendering="crispEdges" fill="#4d4d4d"><rect x="662" y="0" width="1" height="6"/><rect x="662" y="9" width="1" height="6"/><rect x="655" y="7" width="6" height="1"/><rect x="664" y="7" width="6" height="1"/><rect x="696" y="1" width="1" height="13"/><rect x="719" y="7" width="12" height="1"/></g>
<path d="M746.9 13.8L759.2 1.9" stroke="#4d4d4d" stroke-width="1.1"/>
<path d="M773 9.5L783 0M777 14L788 4M775.5 11.5l3 -5M778.5 9l3 -5M781.5 7l3 -5" stroke="#4d4d4d" stroke-width="1.25" fill="none"/>
<text x="783.6" y="15.8" font-size="6.6" font-weight="bold" fill="#303030">E</text>
<line x1="802" y1="0.5" x2="815" y2="0.5" stroke="#4d4d4d" stroke-width="1" stroke-dasharray="1 1" shape-rendering="crispEdges"/>
<line x1="802" y1="3.5" x2="815" y2="3.5" stroke="#4d4d4d" stroke-width="1" stroke-dasharray="1 1" shape-rendering="crispEdges"/>
<line x1="802" y1="7.5" x2="815" y2="7.5" stroke="#4d4d4d" stroke-width="1" stroke-dasharray="1 1" shape-rendering="crispEdges"/>
<line x1="802" y1="11.5" x2="815" y2="11.5" stroke="#4d4d4d" stroke-width="1" stroke-dasharray="1 1" shape-rendering="crispEdges"/>
<text x="811.6" y="15.8" font-size="6.6" font-weight="bold" fill="#303030">F</text>
<text x="832.3" y="12" font-size="12.6" fill="#484848" stroke="#484848" stroke-width="0.25">A</text>
<rect x="859.5" y="1.5" width="11" height="12" fill="none" stroke="#4d4d4d" stroke-width="1" stroke-dasharray="1 1" shape-rendering="crispEdges"/>
<text x="865" y="12" font-size="11.4" text-anchor="middle" fill="#484848" stroke="#484848" stroke-width="0.4">T</text>
<path d="M889.5 1l3.5 2.7l-3.5 2.7l-3.5 -2.7zM896.8 9l3.5 2.6l-3.5 2.6l-3.5 -2.6z" fill="#505050"/><path d="M888.5 7.5l2.3 2.3l4.8 -5.3" fill="none" stroke="#505050" stroke-width="1.3"/>
<text x="933.4" y="10.7" font-size="9.3" fill="#3c3c3c">M1</text>
<text x="961.4" y="10.7" font-size="9.3" fill="#3c3c3c">M5</text>
<text x="987.2" y="10.7" font-size="9.3" fill="#3c3c3c">M15</text>
<text x="1015.7" y="10.7" font-size="9.3" fill="#3c3c3c">M30</text>
<text x="1046" y="10.7" font-size="9.3" fill="#3c3c3c">H1</text>
<text x="1073.3" y="10.7" font-size="9.3" fill="#3c3c3c">H4</text>
<text x="1102.4" y="10.7" font-size="9.3" fill="#3c3c3c">D1</text>
<text x="1130.3" y="10.7" font-size="9.3" fill="#3c3c3c">W1</text>
<text x="1156.3" y="10.7" font-size="9.3" fill="#3c3c3c">MN</text>
<path d="M1646.6 7.7L1641.6 12.3" stroke="#2a66d8" stroke-width="2.2"/><circle cx="1649.7" cy="4.3" r="3.6" fill="#f4f4fc" stroke="#2a66d8" stroke-width="1.3"/>
<path d="M1667 9.5a5.6 4.4 0 0 1 5.6 -4.6h3a5.6 4.4 0 0 1 0 9h-4.8l-2.2 2l0.2 -2.6a4.6 4 0 0 1 -1.8 -3.8z" fill="#e4e4ec" stroke="#a8a8a8" stroke-width="0.8"/>
<linearGradient id="bdg" x1="0" y1="0" x2="0" y2="1"><stop offset="0" stop-color="#e85030"/><stop offset="1" stop-color="#d82818"/></linearGradient>
<circle cx="1680.6" cy="4.1" r="8.2" fill="url(#bdg)"/>
<text x="1679.9" y="8.8" font-size="13.5" font-family="Liberation Serif,serif" fill="#fff" text-anchor="middle" style="font-family:'Liberation Serif',serif">1</text>
</g>
</svg></body></html>
